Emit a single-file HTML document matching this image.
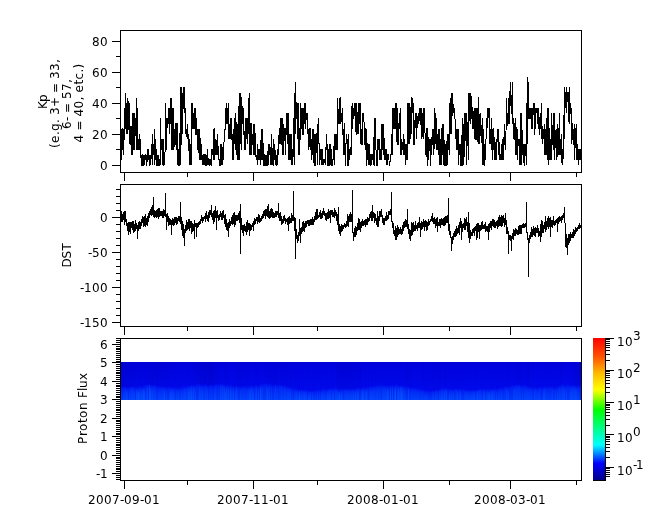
<!DOCTYPE html>
<html><head><meta charset="utf-8"><title>plot</title>
<style>html,body{margin:0;padding:0;background:#fff;}body{width:665px;height:523px;overflow:hidden}svg{display:block}text{font-family:"DejaVu Sans","Liberation Sans",sans-serif;font-size:12px;fill:#000}</style></head>
<body><svg width="665" height="523" viewBox="0 0 665 523">
<rect width="665" height="523" fill="#fff"/>
<g fill="#000"><rect x="120" y="30" width="462" height="1"/><rect x="120" y="172" width="462" height="1"/><rect x="120" y="30" width="1" height="143"/><rect x="581" y="30" width="1" height="143"/><rect x="124" y="173" width="1" height="8"/><rect x="253" y="173" width="1" height="8"/><rect x="383" y="173" width="1" height="8"/><rect x="510" y="173" width="1" height="8"/><rect x="187" y="173" width="1" height="4"/><rect x="317" y="173" width="1" height="4"/><rect x="449" y="173" width="1" height="4"/><rect x="576" y="173" width="1" height="4"/><rect x="120" y="184" width="462" height="1"/><rect x="120" y="326" width="462" height="1"/><rect x="120" y="184" width="1" height="143"/><rect x="581" y="184" width="1" height="143"/><rect x="124" y="327" width="1" height="8"/><rect x="253" y="327" width="1" height="8"/><rect x="383" y="327" width="1" height="8"/><rect x="510" y="327" width="1" height="8"/><rect x="187" y="327" width="1" height="4"/><rect x="317" y="327" width="1" height="4"/><rect x="449" y="327" width="1" height="4"/><rect x="576" y="327" width="1" height="4"/><rect x="120" y="338" width="462" height="1"/><rect x="120" y="480" width="462" height="1"/><rect x="120" y="338" width="1" height="143"/><rect x="581" y="338" width="1" height="143"/><rect x="124" y="481" width="1" height="8"/><rect x="253" y="481" width="1" height="8"/><rect x="383" y="481" width="1" height="8"/><rect x="510" y="481" width="1" height="8"/><rect x="187" y="481" width="1" height="4"/><rect x="317" y="481" width="1" height="4"/><rect x="449" y="481" width="1" height="4"/><rect x="576" y="481" width="1" height="4"/><rect x="112" y="165" width="8" height="1"/><rect x="116" y="149" width="4" height="1"/><rect x="112" y="134" width="8" height="1"/><rect x="116" y="118" width="4" height="1"/><rect x="112" y="103" width="8" height="1"/><rect x="116" y="87" width="4" height="1"/><rect x="112" y="72" width="8" height="1"/><rect x="116" y="56" width="4" height="1"/><rect x="112" y="41" width="8" height="1"/><rect x="112" y="322" width="8" height="1"/><rect x="116" y="315" width="4" height="1"/><rect x="116" y="308" width="4" height="1"/><rect x="116" y="301" width="4" height="1"/><rect x="116" y="294" width="4" height="1"/><rect x="112" y="287" width="8" height="1"/><rect x="116" y="280" width="4" height="1"/><rect x="116" y="273" width="4" height="1"/><rect x="116" y="266" width="4" height="1"/><rect x="116" y="259" width="4" height="1"/><rect x="112" y="252" width="8" height="1"/><rect x="116" y="245" width="4" height="1"/><rect x="116" y="238" width="4" height="1"/><rect x="116" y="231" width="4" height="1"/><rect x="116" y="224" width="4" height="1"/><rect x="112" y="217" width="8" height="1"/><rect x="116" y="210" width="4" height="1"/><rect x="116" y="203" width="4" height="1"/><rect x="116" y="196" width="4" height="1"/><rect x="116" y="189" width="4" height="1"/><rect x="116" y="479" width="4" height="1"/><rect x="116" y="477" width="4" height="1"/><rect x="116" y="475" width="4" height="1"/><rect x="112" y="473" width="8" height="1"/><rect x="116" y="471" width="4" height="1"/><rect x="116" y="469" width="4" height="1"/><rect x="116" y="468" width="4" height="1"/><rect x="116" y="466" width="4" height="1"/><rect x="116" y="464" width="4" height="1"/><rect x="116" y="462" width="4" height="1"/><rect x="116" y="460" width="4" height="1"/><rect x="116" y="458" width="4" height="1"/><rect x="116" y="457" width="4" height="1"/><rect x="112" y="455" width="8" height="1"/><rect x="116" y="453" width="4" height="1"/><rect x="116" y="451" width="4" height="1"/><rect x="116" y="449" width="4" height="1"/><rect x="116" y="447" width="4" height="1"/><rect x="116" y="445" width="4" height="1"/><rect x="116" y="444" width="4" height="1"/><rect x="116" y="442" width="4" height="1"/><rect x="116" y="440" width="4" height="1"/><rect x="116" y="438" width="4" height="1"/><rect x="112" y="436" width="8" height="1"/><rect x="116" y="434" width="4" height="1"/><rect x="116" y="433" width="4" height="1"/><rect x="116" y="431" width="4" height="1"/><rect x="116" y="429" width="4" height="1"/><rect x="116" y="427" width="4" height="1"/><rect x="116" y="425" width="4" height="1"/><rect x="116" y="423" width="4" height="1"/><rect x="116" y="421" width="4" height="1"/><rect x="116" y="420" width="4" height="1"/><rect x="112" y="418" width="8" height="1"/><rect x="116" y="416" width="4" height="1"/><rect x="116" y="414" width="4" height="1"/><rect x="116" y="412" width="4" height="1"/><rect x="116" y="410" width="4" height="1"/><rect x="116" y="409" width="4" height="1"/><rect x="116" y="407" width="4" height="1"/><rect x="116" y="405" width="4" height="1"/><rect x="116" y="403" width="4" height="1"/><rect x="116" y="401" width="4" height="1"/><rect x="112" y="399" width="8" height="1"/><rect x="116" y="397" width="4" height="1"/><rect x="116" y="396" width="4" height="1"/><rect x="116" y="394" width="4" height="1"/><rect x="116" y="392" width="4" height="1"/><rect x="116" y="390" width="4" height="1"/><rect x="116" y="388" width="4" height="1"/><rect x="116" y="386" width="4" height="1"/><rect x="116" y="385" width="4" height="1"/><rect x="116" y="383" width="4" height="1"/><rect x="112" y="381" width="8" height="1"/><rect x="116" y="379" width="4" height="1"/><rect x="116" y="377" width="4" height="1"/><rect x="116" y="375" width="4" height="1"/><rect x="116" y="373" width="4" height="1"/><rect x="116" y="372" width="4" height="1"/><rect x="116" y="370" width="4" height="1"/><rect x="116" y="368" width="4" height="1"/><rect x="116" y="366" width="4" height="1"/><rect x="116" y="364" width="4" height="1"/><rect x="112" y="362" width="8" height="1"/><rect x="116" y="361" width="4" height="1"/><rect x="116" y="359" width="4" height="1"/><rect x="116" y="357" width="4" height="1"/><rect x="116" y="355" width="4" height="1"/><rect x="116" y="353" width="4" height="1"/><rect x="116" y="351" width="4" height="1"/><rect x="116" y="349" width="4" height="1"/><rect x="116" y="348" width="4" height="1"/><rect x="116" y="346" width="4" height="1"/><rect x="112" y="344" width="8" height="1"/><rect x="116" y="342" width="4" height="1"/><rect x="116" y="340" width="4" height="1"/><rect x="116" y="338" width="4" height="1"/></g><defs><linearGradient id="sp" gradientUnits="userSpaceOnUse" x1="0" y1="362" x2="0" y2="392">
<stop offset="0" stop-color="rgb(0,2,220)"/>
<stop offset="1" stop-color="rgb(0,10,236)"/>
</linearGradient>
<linearGradient id="lo" x1="0" y1="0" x2="0" y2="1">
<stop offset="0" stop-color="rgb(0,16,238)"/>
<stop offset="0.25" stop-color="rgb(0,34,243)"/>
<stop offset="1" stop-color="rgb(0,56,248)"/>
</linearGradient>
<linearGradient id="st" x1="0" y1="0" x2="0" y2="1">
<stop offset="0" stop-color="rgb(10,100,255)" stop-opacity="0.2"/>
<stop offset="0.4" stop-color="rgb(10,100,255)" stop-opacity="0.8"/>
<stop offset="1" stop-color="rgb(10,100,255)" stop-opacity="1"/>
</linearGradient></defs><rect x="121" y="362" width="460" height="38" fill="url(#sp)"/><g><rect x="121" y="387.0" width="1" height="13.0" fill="url(#lo)"/><rect x="121" y="389.4" width="1" height="10.6" fill="url(#st)" fill-opacity="0.23"/><rect x="121" y="362" width="1" height="25.0" fill="rgb(0,0,140)" fill-opacity="0.10"/><rect x="122" y="387.0" width="1" height="13.0" fill="url(#lo)"/><rect x="122" y="362" width="1" height="25.0" fill="rgb(0,0,140)" fill-opacity="0.10"/><rect x="123" y="387.1" width="1" height="12.9" fill="url(#lo)"/><rect x="123" y="390.0" width="1" height="10.0" fill="url(#st)" fill-opacity="0.22"/><rect x="123" y="362" width="1" height="25.1" fill="rgb(0,0,140)" fill-opacity="0.12"/><rect x="124" y="386.7" width="1" height="13.3" fill="url(#lo)"/><rect x="124" y="386.7" width="1" height="13.3" fill="url(#st)" fill-opacity="0.16"/><rect x="124" y="362" width="1" height="24.7" fill="rgb(0,0,140)" fill-opacity="0.12"/><rect x="125" y="386.9" width="1" height="13.1" fill="url(#lo)"/><rect x="125" y="388.9" width="1" height="11.1" fill="url(#st)" fill-opacity="0.25"/><rect x="125" y="362" width="1" height="24.9" fill="rgb(0,0,140)" fill-opacity="0.09"/><rect x="126" y="387.3" width="1" height="12.7" fill="url(#lo)"/><rect x="126" y="390.2" width="1" height="9.8" fill="url(#st)" fill-opacity="0.36"/><rect x="126" y="362" width="1" height="25.3" fill="rgb(0,0,140)" fill-opacity="0.14"/><rect x="127" y="387.7" width="1" height="12.3" fill="url(#lo)"/><rect x="127" y="389.7" width="1" height="10.3" fill="url(#st)" fill-opacity="0.35"/><rect x="127" y="362" width="1" height="25.7" fill="rgb(0,0,140)" fill-opacity="0.12"/><rect x="128" y="387.7" width="1" height="12.3" fill="url(#lo)"/><rect x="128" y="362" width="1" height="25.7" fill="rgb(0,0,140)" fill-opacity="0.13"/><rect x="129" y="386.9" width="1" height="13.1" fill="url(#lo)"/><rect x="129" y="387.8" width="1" height="12.2" fill="url(#st)" fill-opacity="0.26"/><rect x="129" y="362" width="1" height="24.9" fill="rgb(0,0,140)" fill-opacity="0.06"/><rect x="130" y="386.9" width="1" height="13.1" fill="url(#lo)"/><rect x="130" y="387.9" width="1" height="12.1" fill="url(#st)" fill-opacity="0.24"/><rect x="130" y="362" width="1" height="24.9" fill="rgb(0,0,140)" fill-opacity="0.08"/><rect x="131" y="386.3" width="1" height="13.7" fill="url(#lo)"/><rect x="131" y="386.6" width="1" height="13.4" fill="url(#st)" fill-opacity="0.20"/><rect x="131" y="362" width="1" height="24.3" fill="rgb(0,0,140)" fill-opacity="0.05"/><rect x="132" y="386.2" width="1" height="13.8" fill="url(#lo)"/><rect x="132" y="387.7" width="1" height="12.3" fill="url(#st)" fill-opacity="0.37"/><rect x="132" y="362" width="1" height="24.2" fill="rgb(0,0,140)" fill-opacity="0.09"/><rect x="133" y="387.1" width="1" height="12.9" fill="url(#lo)"/><rect x="133" y="388.6" width="1" height="11.4" fill="url(#st)" fill-opacity="0.27"/><rect x="133" y="362" width="1" height="25.1" fill="rgb(0,0,140)" fill-opacity="0.03"/><rect x="134" y="386.6" width="1" height="13.4" fill="url(#lo)"/><rect x="134" y="388.7" width="1" height="11.3" fill="url(#st)" fill-opacity="0.30"/><rect x="134" y="362" width="1" height="24.6" fill="rgb(0,0,140)" fill-opacity="0.09"/><rect x="135" y="387.1" width="1" height="12.9" fill="url(#lo)"/><rect x="135" y="362" width="1" height="25.1" fill="rgb(0,0,140)" fill-opacity="0.05"/><rect x="136" y="386.9" width="1" height="13.1" fill="url(#lo)"/><rect x="136" y="388.8" width="1" height="11.2" fill="url(#st)" fill-opacity="0.49"/><rect x="136" y="362" width="1" height="24.9" fill="rgb(0,0,140)" fill-opacity="0.02"/><rect x="137" y="387.3" width="1" height="12.7" fill="url(#lo)"/><rect x="137" y="389.3" width="1" height="10.7" fill="url(#st)" fill-opacity="0.42"/><rect x="137" y="362" width="1" height="25.3" fill="rgb(0,0,140)" fill-opacity="0.01"/><rect x="138" y="386.4" width="1" height="13.6" fill="url(#lo)"/><rect x="138" y="389.3" width="1" height="10.7" fill="url(#st)" fill-opacity="0.64"/><rect x="138" y="362" width="1" height="24.4" fill="rgb(0,0,140)" fill-opacity="0.07"/><rect x="139" y="386.9" width="1" height="13.1" fill="url(#lo)"/><rect x="139" y="389.7" width="1" height="10.3" fill="url(#st)" fill-opacity="0.42"/><rect x="139" y="362" width="1" height="24.9" fill="rgb(0,0,140)" fill-opacity="0.01"/><rect x="140" y="386.4" width="1" height="13.6" fill="url(#lo)"/><rect x="140" y="386.5" width="1" height="13.5" fill="url(#st)" fill-opacity="0.30"/><rect x="140" y="362" width="1" height="24.4" fill="rgb(0,0,140)" fill-opacity="0.10"/><rect x="141" y="387.5" width="1" height="12.5" fill="url(#lo)"/><rect x="141" y="387.5" width="1" height="12.5" fill="url(#st)" fill-opacity="0.38"/><rect x="141" y="362" width="1" height="25.5" fill="rgb(0,0,140)" fill-opacity="0.04"/><rect x="142" y="386.6" width="1" height="13.4" fill="url(#lo)"/><rect x="142" y="389.1" width="1" height="10.9" fill="url(#st)" fill-opacity="0.39"/><rect x="142" y="362" width="1" height="24.6" fill="rgb(0,0,140)" fill-opacity="0.02"/><rect x="143" y="386.0" width="1" height="14.0" fill="url(#lo)"/><rect x="143" y="388.3" width="1" height="11.7" fill="url(#st)" fill-opacity="0.53"/><rect x="143" y="362" width="1" height="24.0" fill="rgb(0,0,140)" fill-opacity="0.02"/><rect x="144" y="385.8" width="1" height="14.2" fill="url(#lo)"/><rect x="144" y="388.2" width="1" height="11.8" fill="url(#st)" fill-opacity="0.52"/><rect x="144" y="362" width="1" height="23.8" fill="rgb(0,0,140)" fill-opacity="0.01"/><rect x="145" y="385.1" width="1" height="14.9" fill="url(#lo)"/><rect x="145" y="362" width="1" height="23.1" fill="rgb(0,0,140)" fill-opacity="0.03"/><rect x="146" y="384.8" width="1" height="15.2" fill="url(#lo)"/><rect x="146" y="386.5" width="1" height="13.5" fill="url(#st)" fill-opacity="0.28"/><rect x="146" y="362" width="1" height="22.8" fill="rgb(0,0,140)" fill-opacity="0.08"/><rect x="147" y="384.8" width="1" height="15.2" fill="url(#lo)"/><rect x="147" y="385.9" width="1" height="14.1" fill="url(#st)" fill-opacity="0.46"/><rect x="147" y="362" width="1" height="22.8" fill="rgb(0,0,140)" fill-opacity="0.04"/><rect x="148" y="384.4" width="1" height="15.6" fill="url(#lo)"/><rect x="148" y="362" width="1" height="22.4" fill="rgb(0,0,140)" fill-opacity="0.04"/><rect x="149" y="384.5" width="1" height="15.5" fill="url(#lo)"/><rect x="149" y="385.1" width="1" height="14.9" fill="url(#st)" fill-opacity="0.59"/><rect x="149" y="362" width="1" height="22.5" fill="rgb(0,0,140)" fill-opacity="0.03"/><rect x="150" y="384.9" width="1" height="15.1" fill="url(#lo)"/><rect x="150" y="386.1" width="1" height="13.9" fill="url(#st)" fill-opacity="0.50"/><rect x="150" y="362" width="1" height="22.9" fill="rgb(0,0,140)" fill-opacity="0.11"/><rect x="151" y="385.2" width="1" height="14.8" fill="url(#lo)"/><rect x="151" y="388.0" width="1" height="12.0" fill="url(#st)" fill-opacity="0.27"/><rect x="151" y="362" width="1" height="23.2" fill="rgb(0,0,140)" fill-opacity="0.08"/><rect x="152" y="385.7" width="1" height="14.3" fill="url(#lo)"/><rect x="152" y="387.8" width="1" height="12.2" fill="url(#st)" fill-opacity="0.39"/><rect x="152" y="362" width="1" height="23.7" fill="rgb(0,0,140)" fill-opacity="0.10"/><rect x="153" y="384.9" width="1" height="15.1" fill="url(#lo)"/><rect x="153" y="386.0" width="1" height="14.0" fill="url(#st)" fill-opacity="0.20"/><rect x="153" y="362" width="1" height="22.9" fill="rgb(0,0,140)" fill-opacity="0.07"/><rect x="154" y="385.3" width="1" height="14.7" fill="url(#lo)"/><rect x="154" y="386.0" width="1" height="14.0" fill="url(#st)" fill-opacity="0.18"/><rect x="154" y="362" width="1" height="23.3" fill="rgb(0,0,140)" fill-opacity="0.08"/><rect x="155" y="385.3" width="1" height="14.7" fill="url(#lo)"/><rect x="155" y="387.6" width="1" height="12.4" fill="url(#st)" fill-opacity="0.32"/><rect x="155" y="362" width="1" height="23.3" fill="rgb(0,0,140)" fill-opacity="0.08"/><rect x="156" y="386.0" width="1" height="14.0" fill="url(#lo)"/><rect x="156" y="362" width="1" height="24.0" fill="rgb(0,0,140)" fill-opacity="0.07"/><rect x="157" y="386.7" width="1" height="13.3" fill="url(#lo)"/><rect x="157" y="362" width="1" height="24.7" fill="rgb(0,0,140)" fill-opacity="0.13"/><rect x="158" y="386.5" width="1" height="13.5" fill="url(#lo)"/><rect x="158" y="389.2" width="1" height="10.8" fill="url(#st)" fill-opacity="0.18"/><rect x="158" y="362" width="1" height="24.5" fill="rgb(0,0,140)" fill-opacity="0.10"/><rect x="159" y="386.4" width="1" height="13.6" fill="url(#lo)"/><rect x="159" y="388.3" width="1" height="11.7" fill="url(#st)" fill-opacity="0.22"/><rect x="159" y="362" width="1" height="24.4" fill="rgb(0,0,140)" fill-opacity="0.02"/><rect x="160" y="386.6" width="1" height="13.4" fill="url(#lo)"/><rect x="160" y="387.4" width="1" height="12.6" fill="url(#st)" fill-opacity="0.21"/><rect x="160" y="362" width="1" height="24.6" fill="rgb(0,0,140)" fill-opacity="0.02"/><rect x="161" y="386.6" width="1" height="13.4" fill="url(#lo)"/><rect x="161" y="388.9" width="1" height="11.1" fill="url(#st)" fill-opacity="0.24"/><rect x="161" y="362" width="1" height="24.6" fill="rgb(0,0,140)" fill-opacity="0.07"/><rect x="162" y="386.9" width="1" height="13.1" fill="url(#lo)"/><rect x="162" y="387.2" width="1" height="12.8" fill="url(#st)" fill-opacity="0.20"/><rect x="162" y="362" width="1" height="24.9" fill="rgb(0,0,140)" fill-opacity="0.07"/><rect x="163" y="386.8" width="1" height="13.2" fill="url(#lo)"/><rect x="163" y="388.0" width="1" height="12.0" fill="url(#st)" fill-opacity="0.32"/><rect x="163" y="362" width="1" height="24.8" fill="rgb(0,0,140)" fill-opacity="0.08"/><rect x="164" y="387.3" width="1" height="12.7" fill="url(#lo)"/><rect x="164" y="388.3" width="1" height="11.7" fill="url(#st)" fill-opacity="0.48"/><rect x="164" y="362" width="1" height="25.3" fill="rgb(0,0,140)" fill-opacity="0.04"/><rect x="165" y="386.3" width="1" height="13.7" fill="url(#lo)"/><rect x="165" y="362" width="1" height="24.3" fill="rgb(0,0,140)" fill-opacity="0.06"/><rect x="166" y="387.3" width="1" height="12.7" fill="url(#lo)"/><rect x="166" y="389.4" width="1" height="10.6" fill="url(#st)" fill-opacity="0.37"/><rect x="166" y="362" width="1" height="25.3" fill="rgb(0,0,140)" fill-opacity="0.07"/><rect x="167" y="387.0" width="1" height="13.0" fill="url(#lo)"/><rect x="167" y="362" width="1" height="25.0" fill="rgb(0,0,140)" fill-opacity="0.03"/><rect x="168" y="386.6" width="1" height="13.4" fill="url(#lo)"/><rect x="168" y="362" width="1" height="24.6" fill="rgb(0,0,140)" fill-opacity="0.04"/><rect x="169" y="386.8" width="1" height="13.2" fill="url(#lo)"/><rect x="169" y="388.6" width="1" height="11.4" fill="url(#st)" fill-opacity="0.29"/><rect x="169" y="362" width="1" height="24.8" fill="rgb(0,0,140)" fill-opacity="0.02"/><rect x="170" y="387.4" width="1" height="12.6" fill="url(#lo)"/><rect x="170" y="389.1" width="1" height="10.9" fill="url(#st)" fill-opacity="0.39"/><rect x="170" y="362" width="1" height="25.4" fill="rgb(0,0,140)" fill-opacity="0.06"/><rect x="171" y="387.4" width="1" height="12.6" fill="url(#lo)"/><rect x="171" y="388.7" width="1" height="11.3" fill="url(#st)" fill-opacity="0.44"/><rect x="171" y="362" width="1" height="25.4" fill="rgb(0,0,140)" fill-opacity="0.01"/><rect x="172" y="387.4" width="1" height="12.6" fill="url(#lo)"/><rect x="172" y="387.5" width="1" height="12.5" fill="url(#st)" fill-opacity="0.37"/><rect x="173" y="387.3" width="1" height="12.7" fill="url(#lo)"/><rect x="173" y="390.1" width="1" height="9.9" fill="url(#st)" fill-opacity="0.35"/><rect x="173" y="362" width="1" height="25.3" fill="rgb(0,0,140)" fill-opacity="0.03"/><rect x="174" y="387.9" width="1" height="12.1" fill="url(#lo)"/><rect x="174" y="390.1" width="1" height="9.9" fill="url(#st)" fill-opacity="0.25"/><rect x="175" y="387.2" width="1" height="12.8" fill="url(#lo)"/><rect x="175" y="362" width="1" height="25.2" fill="rgb(0,0,140)" fill-opacity="0.06"/><rect x="176" y="387.3" width="1" height="12.7" fill="url(#lo)"/><rect x="176" y="389.3" width="1" height="10.7" fill="url(#st)" fill-opacity="0.31"/><rect x="177" y="387.7" width="1" height="12.3" fill="url(#lo)"/><rect x="177" y="390.7" width="1" height="9.3" fill="url(#st)" fill-opacity="0.21"/><rect x="177" y="362" width="1" height="25.7" fill="rgb(0,0,140)" fill-opacity="0.05"/><rect x="178" y="387.5" width="1" height="12.5" fill="url(#lo)"/><rect x="178" y="388.8" width="1" height="11.2" fill="url(#st)" fill-opacity="0.28"/><rect x="179" y="387.6" width="1" height="12.4" fill="url(#lo)"/><rect x="179" y="389.6" width="1" height="10.4" fill="url(#st)" fill-opacity="0.17"/><rect x="179" y="362" width="1" height="25.6" fill="rgb(0,0,140)" fill-opacity="0.03"/><rect x="180" y="387.5" width="1" height="12.5" fill="url(#lo)"/><rect x="180" y="389.9" width="1" height="10.1" fill="url(#st)" fill-opacity="0.13"/><rect x="181" y="387.4" width="1" height="12.6" fill="url(#lo)"/><rect x="181" y="389.8" width="1" height="10.2" fill="url(#st)" fill-opacity="0.33"/><rect x="181" y="362" width="1" height="25.4" fill="rgb(0,0,140)" fill-opacity="0.02"/><rect x="182" y="386.5" width="1" height="13.5" fill="url(#lo)"/><rect x="182" y="389.1" width="1" height="10.9" fill="url(#st)" fill-opacity="0.21"/><rect x="183" y="386.4" width="1" height="13.6" fill="url(#lo)"/><rect x="183" y="388.9" width="1" height="11.1" fill="url(#st)" fill-opacity="0.23"/><rect x="184" y="387.0" width="1" height="13.0" fill="url(#lo)"/><rect x="184" y="387.6" width="1" height="12.4" fill="url(#st)" fill-opacity="0.40"/><rect x="185" y="386.8" width="1" height="13.2" fill="url(#lo)"/><rect x="185" y="388.8" width="1" height="11.2" fill="url(#st)" fill-opacity="0.23"/><rect x="186" y="385.6" width="1" height="14.4" fill="url(#lo)"/><rect x="186" y="387.5" width="1" height="12.5" fill="url(#st)" fill-opacity="0.27"/><rect x="186" y="362" width="1" height="23.6" fill="rgb(0,0,140)" fill-opacity="0.04"/><rect x="187" y="386.3" width="1" height="13.7" fill="url(#lo)"/><rect x="187" y="388.4" width="1" height="11.6" fill="url(#st)" fill-opacity="0.23"/><rect x="188" y="385.4" width="1" height="14.6" fill="url(#lo)"/><rect x="188" y="387.3" width="1" height="12.7" fill="url(#st)" fill-opacity="0.51"/><rect x="188" y="362" width="1" height="23.4" fill="rgb(0,0,140)" fill-opacity="0.01"/><rect x="189" y="386.2" width="1" height="13.8" fill="url(#lo)"/><rect x="189" y="387.2" width="1" height="12.8" fill="url(#st)" fill-opacity="0.44"/><rect x="189" y="362" width="1" height="24.2" fill="rgb(0,0,140)" fill-opacity="0.02"/><rect x="190" y="385.0" width="1" height="15.0" fill="url(#lo)"/><rect x="190" y="387.4" width="1" height="12.6" fill="url(#st)" fill-opacity="0.39"/><rect x="191" y="385.1" width="1" height="14.9" fill="url(#lo)"/><rect x="191" y="386.2" width="1" height="13.8" fill="url(#st)" fill-opacity="0.50"/><rect x="192" y="384.8" width="1" height="15.2" fill="url(#lo)"/><rect x="192" y="387.4" width="1" height="12.6" fill="url(#st)" fill-opacity="0.29"/><rect x="192" y="362" width="1" height="22.8" fill="rgb(0,0,140)" fill-opacity="0.05"/><rect x="193" y="385.2" width="1" height="14.8" fill="url(#lo)"/><rect x="193" y="386.4" width="1" height="13.6" fill="url(#st)" fill-opacity="0.46"/><rect x="194" y="385.0" width="1" height="15.0" fill="url(#lo)"/><rect x="194" y="386.3" width="1" height="13.7" fill="url(#st)" fill-opacity="0.19"/><rect x="194" y="362" width="1" height="23.0" fill="rgb(0,0,140)" fill-opacity="0.05"/><rect x="195" y="385.3" width="1" height="14.7" fill="url(#lo)"/><rect x="195" y="387.3" width="1" height="12.7" fill="url(#st)" fill-opacity="0.35"/><rect x="195" y="362" width="1" height="23.3" fill="rgb(0,0,140)" fill-opacity="0.08"/><rect x="196" y="384.1" width="1" height="15.9" fill="url(#lo)"/><rect x="196" y="362" width="1" height="22.1" fill="rgb(0,0,140)" fill-opacity="0.09"/><rect x="197" y="384.3" width="1" height="15.7" fill="url(#lo)"/><rect x="197" y="362" width="1" height="22.3" fill="rgb(0,0,140)" fill-opacity="0.08"/><rect x="198" y="384.6" width="1" height="15.4" fill="url(#lo)"/><rect x="198" y="387.3" width="1" height="12.7" fill="url(#st)" fill-opacity="0.15"/><rect x="198" y="362" width="1" height="22.6" fill="rgb(0,0,140)" fill-opacity="0.10"/><rect x="199" y="384.3" width="1" height="15.7" fill="url(#lo)"/><rect x="199" y="385.3" width="1" height="14.7" fill="url(#st)" fill-opacity="0.30"/><rect x="199" y="362" width="1" height="22.3" fill="rgb(0,0,140)" fill-opacity="0.09"/><rect x="200" y="385.1" width="1" height="14.9" fill="url(#lo)"/><rect x="200" y="386.5" width="1" height="13.5" fill="url(#st)" fill-opacity="0.29"/><rect x="200" y="362" width="1" height="23.1" fill="rgb(0,0,140)" fill-opacity="0.14"/><rect x="201" y="384.3" width="1" height="15.7" fill="url(#lo)"/><rect x="201" y="387.3" width="1" height="12.7" fill="url(#st)" fill-opacity="0.25"/><rect x="201" y="362" width="1" height="22.3" fill="rgb(0,0,140)" fill-opacity="0.12"/><rect x="202" y="385.2" width="1" height="14.8" fill="url(#lo)"/><rect x="202" y="387.2" width="1" height="12.8" fill="url(#st)" fill-opacity="0.32"/><rect x="202" y="362" width="1" height="23.2" fill="rgb(0,0,140)" fill-opacity="0.11"/><rect x="203" y="385.4" width="1" height="14.6" fill="url(#lo)"/><rect x="203" y="386.6" width="1" height="13.4" fill="url(#st)" fill-opacity="0.22"/><rect x="203" y="362" width="1" height="23.4" fill="rgb(0,0,140)" fill-opacity="0.13"/><rect x="204" y="384.6" width="1" height="15.4" fill="url(#lo)"/><rect x="204" y="362" width="1" height="22.6" fill="rgb(0,0,140)" fill-opacity="0.17"/><rect x="205" y="384.7" width="1" height="15.3" fill="url(#lo)"/><rect x="205" y="385.0" width="1" height="15.0" fill="url(#st)" fill-opacity="0.30"/><rect x="205" y="362" width="1" height="22.7" fill="rgb(0,0,140)" fill-opacity="0.20"/><rect x="206" y="385.5" width="1" height="14.5" fill="url(#lo)"/><rect x="206" y="387.9" width="1" height="12.1" fill="url(#st)" fill-opacity="0.23"/><rect x="206" y="362" width="1" height="23.5" fill="rgb(0,0,140)" fill-opacity="0.11"/><rect x="207" y="385.7" width="1" height="14.3" fill="url(#lo)"/><rect x="207" y="385.7" width="1" height="14.3" fill="url(#st)" fill-opacity="0.26"/><rect x="207" y="362" width="1" height="23.7" fill="rgb(0,0,140)" fill-opacity="0.11"/><rect x="208" y="385.9" width="1" height="14.1" fill="url(#lo)"/><rect x="208" y="362" width="1" height="23.9" fill="rgb(0,0,140)" fill-opacity="0.16"/><rect x="209" y="385.5" width="1" height="14.5" fill="url(#lo)"/><rect x="209" y="387.8" width="1" height="12.2" fill="url(#st)" fill-opacity="0.16"/><rect x="209" y="362" width="1" height="23.5" fill="rgb(0,0,140)" fill-opacity="0.19"/><rect x="210" y="385.0" width="1" height="15.0" fill="url(#lo)"/><rect x="210" y="385.3" width="1" height="14.7" fill="url(#st)" fill-opacity="0.12"/><rect x="210" y="362" width="1" height="23.0" fill="rgb(0,0,140)" fill-opacity="0.15"/><rect x="211" y="385.3" width="1" height="14.7" fill="url(#lo)"/><rect x="211" y="386.5" width="1" height="13.5" fill="url(#st)" fill-opacity="0.12"/><rect x="211" y="362" width="1" height="23.3" fill="rgb(0,0,140)" fill-opacity="0.17"/><rect x="212" y="385.3" width="1" height="14.7" fill="url(#lo)"/><rect x="212" y="387.9" width="1" height="12.1" fill="url(#st)" fill-opacity="0.17"/><rect x="212" y="362" width="1" height="23.3" fill="rgb(0,0,140)" fill-opacity="0.18"/><rect x="213" y="384.8" width="1" height="15.2" fill="url(#lo)"/><rect x="213" y="362" width="1" height="22.8" fill="rgb(0,0,140)" fill-opacity="0.12"/><rect x="214" y="385.0" width="1" height="15.0" fill="url(#lo)"/><rect x="214" y="387.9" width="1" height="12.1" fill="url(#st)" fill-opacity="0.26"/><rect x="214" y="362" width="1" height="23.0" fill="rgb(0,0,140)" fill-opacity="0.10"/><rect x="215" y="384.2" width="1" height="15.8" fill="url(#lo)"/><rect x="215" y="386.4" width="1" height="13.6" fill="url(#st)" fill-opacity="0.29"/><rect x="215" y="362" width="1" height="22.2" fill="rgb(0,0,140)" fill-opacity="0.05"/><rect x="216" y="384.2" width="1" height="15.8" fill="url(#lo)"/><rect x="216" y="384.6" width="1" height="15.4" fill="url(#st)" fill-opacity="0.11"/><rect x="216" y="362" width="1" height="22.2" fill="rgb(0,0,140)" fill-opacity="0.09"/><rect x="217" y="384.7" width="1" height="15.3" fill="url(#lo)"/><rect x="217" y="362" width="1" height="22.7" fill="rgb(0,0,140)" fill-opacity="0.04"/><rect x="218" y="383.8" width="1" height="16.2" fill="url(#lo)"/><rect x="218" y="386.6" width="1" height="13.4" fill="url(#st)" fill-opacity="0.18"/><rect x="218" y="362" width="1" height="21.8" fill="rgb(0,0,140)" fill-opacity="0.04"/><rect x="219" y="384.4" width="1" height="15.6" fill="url(#lo)"/><rect x="220" y="384.3" width="1" height="15.7" fill="url(#lo)"/><rect x="220" y="385.5" width="1" height="14.5" fill="url(#st)" fill-opacity="0.35"/><rect x="220" y="362" width="1" height="22.3" fill="rgb(0,0,140)" fill-opacity="0.04"/><rect x="221" y="384.0" width="1" height="16.0" fill="url(#lo)"/><rect x="221" y="385.4" width="1" height="14.6" fill="url(#st)" fill-opacity="0.28"/><rect x="221" y="362" width="1" height="22.0" fill="rgb(0,0,140)" fill-opacity="0.03"/><rect x="222" y="384.4" width="1" height="15.6" fill="url(#lo)"/><rect x="222" y="384.6" width="1" height="15.4" fill="url(#st)" fill-opacity="0.40"/><rect x="223" y="384.6" width="1" height="15.4" fill="url(#lo)"/><rect x="223" y="384.9" width="1" height="15.1" fill="url(#st)" fill-opacity="0.29"/><rect x="223" y="362" width="1" height="22.6" fill="rgb(0,0,140)" fill-opacity="0.02"/><rect x="224" y="384.6" width="1" height="15.4" fill="url(#lo)"/><rect x="224" y="386.1" width="1" height="13.9" fill="url(#st)" fill-opacity="0.47"/><rect x="224" y="362" width="1" height="22.6" fill="rgb(0,0,140)" fill-opacity="0.02"/><rect x="225" y="385.3" width="1" height="14.7" fill="url(#lo)"/><rect x="225" y="388.2" width="1" height="11.8" fill="url(#st)" fill-opacity="0.40"/><rect x="225" y="362" width="1" height="23.3" fill="rgb(0,0,140)" fill-opacity="0.04"/><rect x="226" y="384.8" width="1" height="15.2" fill="url(#lo)"/><rect x="226" y="386.6" width="1" height="13.4" fill="url(#st)" fill-opacity="0.44"/><rect x="226" y="362" width="1" height="22.8" fill="rgb(0,0,140)" fill-opacity="0.03"/><rect x="227" y="385.2" width="1" height="14.8" fill="url(#lo)"/><rect x="227" y="385.5" width="1" height="14.5" fill="url(#st)" fill-opacity="0.24"/><rect x="227" y="362" width="1" height="23.2" fill="rgb(0,0,140)" fill-opacity="0.02"/><rect x="228" y="385.6" width="1" height="14.4" fill="url(#lo)"/><rect x="228" y="386.8" width="1" height="13.2" fill="url(#st)" fill-opacity="0.49"/><rect x="228" y="362" width="1" height="23.6" fill="rgb(0,0,140)" fill-opacity="0.04"/><rect x="229" y="384.8" width="1" height="15.2" fill="url(#lo)"/><rect x="230" y="385.2" width="1" height="14.8" fill="url(#lo)"/><rect x="230" y="387.6" width="1" height="12.4" fill="url(#st)" fill-opacity="0.55"/><rect x="231" y="384.9" width="1" height="15.1" fill="url(#lo)"/><rect x="231" y="386.8" width="1" height="13.2" fill="url(#st)" fill-opacity="0.25"/><rect x="232" y="386.1" width="1" height="13.9" fill="url(#lo)"/><rect x="232" y="388.9" width="1" height="11.1" fill="url(#st)" fill-opacity="0.24"/><rect x="233" y="386.0" width="1" height="14.0" fill="url(#lo)"/><rect x="233" y="387.2" width="1" height="12.8" fill="url(#st)" fill-opacity="0.46"/><rect x="234" y="386.7" width="1" height="13.3" fill="url(#lo)"/><rect x="234" y="362" width="1" height="24.7" fill="rgb(0,0,140)" fill-opacity="0.05"/><rect x="235" y="386.2" width="1" height="13.8" fill="url(#lo)"/><rect x="235" y="387.5" width="1" height="12.5" fill="url(#st)" fill-opacity="0.33"/><rect x="236" y="385.9" width="1" height="14.1" fill="url(#lo)"/><rect x="236" y="386.1" width="1" height="13.9" fill="url(#st)" fill-opacity="0.36"/><rect x="236" y="362" width="1" height="23.9" fill="rgb(0,0,140)" fill-opacity="0.07"/><rect x="237" y="386.6" width="1" height="13.4" fill="url(#lo)"/><rect x="237" y="387.0" width="1" height="13.0" fill="url(#st)" fill-opacity="0.22"/><rect x="237" y="362" width="1" height="24.6" fill="rgb(0,0,140)" fill-opacity="0.06"/><rect x="238" y="386.6" width="1" height="13.4" fill="url(#lo)"/><rect x="238" y="362" width="1" height="24.6" fill="rgb(0,0,140)" fill-opacity="0.04"/><rect x="239" y="386.6" width="1" height="13.4" fill="url(#lo)"/><rect x="239" y="362" width="1" height="24.6" fill="rgb(0,0,140)" fill-opacity="0.05"/><rect x="240" y="386.6" width="1" height="13.4" fill="url(#lo)"/><rect x="240" y="387.7" width="1" height="12.3" fill="url(#st)" fill-opacity="0.24"/><rect x="240" y="362" width="1" height="24.6" fill="rgb(0,0,140)" fill-opacity="0.03"/><rect x="241" y="387.1" width="1" height="12.9" fill="url(#lo)"/><rect x="241" y="388.2" width="1" height="11.8" fill="url(#st)" fill-opacity="0.29"/><rect x="241" y="362" width="1" height="25.1" fill="rgb(0,0,140)" fill-opacity="0.04"/><rect x="242" y="386.0" width="1" height="14.0" fill="url(#lo)"/><rect x="242" y="387.8" width="1" height="12.2" fill="url(#st)" fill-opacity="0.14"/><rect x="242" y="362" width="1" height="24.0" fill="rgb(0,0,140)" fill-opacity="0.03"/><rect x="243" y="386.0" width="1" height="14.0" fill="url(#lo)"/><rect x="243" y="387.6" width="1" height="12.4" fill="url(#st)" fill-opacity="0.20"/><rect x="243" y="362" width="1" height="24.0" fill="rgb(0,0,140)" fill-opacity="0.05"/><rect x="244" y="386.8" width="1" height="13.2" fill="url(#lo)"/><rect x="244" y="388.2" width="1" height="11.8" fill="url(#st)" fill-opacity="0.18"/><rect x="244" y="362" width="1" height="24.8" fill="rgb(0,0,140)" fill-opacity="0.01"/><rect x="245" y="386.1" width="1" height="13.9" fill="url(#lo)"/><rect x="245" y="386.9" width="1" height="13.1" fill="url(#st)" fill-opacity="0.17"/><rect x="246" y="386.4" width="1" height="13.6" fill="url(#lo)"/><rect x="246" y="388.9" width="1" height="11.1" fill="url(#st)" fill-opacity="0.13"/><rect x="246" y="362" width="1" height="24.4" fill="rgb(0,0,140)" fill-opacity="0.04"/><rect x="247" y="386.2" width="1" height="13.8" fill="url(#lo)"/><rect x="247" y="389.1" width="1" height="10.9" fill="url(#st)" fill-opacity="0.26"/><rect x="247" y="362" width="1" height="24.2" fill="rgb(0,0,140)" fill-opacity="0.05"/><rect x="248" y="386.1" width="1" height="13.9" fill="url(#lo)"/><rect x="248" y="388.3" width="1" height="11.7" fill="url(#st)" fill-opacity="0.23"/><rect x="248" y="362" width="1" height="24.1" fill="rgb(0,0,140)" fill-opacity="0.06"/><rect x="249" y="386.4" width="1" height="13.6" fill="url(#lo)"/><rect x="249" y="388.1" width="1" height="11.9" fill="url(#st)" fill-opacity="0.41"/><rect x="250" y="385.8" width="1" height="14.2" fill="url(#lo)"/><rect x="250" y="388.1" width="1" height="11.9" fill="url(#st)" fill-opacity="0.46"/><rect x="251" y="385.5" width="1" height="14.5" fill="url(#lo)"/><rect x="251" y="386.1" width="1" height="13.9" fill="url(#st)" fill-opacity="0.25"/><rect x="252" y="386.0" width="1" height="14.0" fill="url(#lo)"/><rect x="252" y="387.7" width="1" height="12.3" fill="url(#st)" fill-opacity="0.45"/><rect x="253" y="386.4" width="1" height="13.6" fill="url(#lo)"/><rect x="253" y="389.2" width="1" height="10.8" fill="url(#st)" fill-opacity="0.33"/><rect x="254" y="385.6" width="1" height="14.4" fill="url(#lo)"/><rect x="255" y="385.5" width="1" height="14.5" fill="url(#lo)"/><rect x="255" y="387.1" width="1" height="12.9" fill="url(#st)" fill-opacity="0.23"/><rect x="255" y="362" width="1" height="23.5" fill="rgb(0,0,140)" fill-opacity="0.02"/><rect x="256" y="385.4" width="1" height="14.6" fill="url(#lo)"/><rect x="256" y="386.2" width="1" height="13.8" fill="url(#st)" fill-opacity="0.37"/><rect x="256" y="362" width="1" height="23.4" fill="rgb(0,0,140)" fill-opacity="0.02"/><rect x="257" y="385.7" width="1" height="14.3" fill="url(#lo)"/><rect x="257" y="362" width="1" height="23.7" fill="rgb(0,0,140)" fill-opacity="0.05"/><rect x="258" y="386.0" width="1" height="14.0" fill="url(#lo)"/><rect x="258" y="388.2" width="1" height="11.8" fill="url(#st)" fill-opacity="0.39"/><rect x="259" y="385.5" width="1" height="14.5" fill="url(#lo)"/><rect x="260" y="384.7" width="1" height="15.3" fill="url(#lo)"/><rect x="260" y="385.8" width="1" height="14.2" fill="url(#st)" fill-opacity="0.48"/><rect x="261" y="384.5" width="1" height="15.5" fill="url(#lo)"/><rect x="261" y="386.7" width="1" height="13.3" fill="url(#st)" fill-opacity="0.30"/><rect x="262" y="384.5" width="1" height="15.5" fill="url(#lo)"/><rect x="262" y="385.2" width="1" height="14.8" fill="url(#st)" fill-opacity="0.26"/><rect x="263" y="383.7" width="1" height="16.3" fill="url(#lo)"/><rect x="264" y="383.5" width="1" height="16.5" fill="url(#lo)"/><rect x="264" y="362" width="1" height="21.5" fill="rgb(0,0,140)" fill-opacity="0.03"/><rect x="265" y="383.5" width="1" height="16.5" fill="url(#lo)"/><rect x="265" y="362" width="1" height="21.5" fill="rgb(0,0,140)" fill-opacity="0.07"/><rect x="266" y="383.5" width="1" height="16.5" fill="url(#lo)"/><rect x="266" y="383.6" width="1" height="16.4" fill="url(#st)" fill-opacity="0.23"/><rect x="266" y="362" width="1" height="21.5" fill="rgb(0,0,140)" fill-opacity="0.02"/><rect x="267" y="384.7" width="1" height="15.3" fill="url(#lo)"/><rect x="267" y="387.1" width="1" height="12.9" fill="url(#st)" fill-opacity="0.43"/><rect x="267" y="362" width="1" height="22.7" fill="rgb(0,0,140)" fill-opacity="0.05"/><rect x="268" y="383.9" width="1" height="16.1" fill="url(#lo)"/><rect x="268" y="385.4" width="1" height="14.6" fill="url(#st)" fill-opacity="0.22"/><rect x="268" y="362" width="1" height="21.9" fill="rgb(0,0,140)" fill-opacity="0.04"/><rect x="269" y="384.2" width="1" height="15.8" fill="url(#lo)"/><rect x="269" y="385.6" width="1" height="14.4" fill="url(#st)" fill-opacity="0.28"/><rect x="269" y="362" width="1" height="22.2" fill="rgb(0,0,140)" fill-opacity="0.04"/><rect x="270" y="384.7" width="1" height="15.3" fill="url(#lo)"/><rect x="270" y="362" width="1" height="22.7" fill="rgb(0,0,140)" fill-opacity="0.04"/><rect x="271" y="384.2" width="1" height="15.8" fill="url(#lo)"/><rect x="271" y="386.3" width="1" height="13.7" fill="url(#st)" fill-opacity="0.25"/><rect x="271" y="362" width="1" height="22.2" fill="rgb(0,0,140)" fill-opacity="0.03"/><rect x="272" y="385.3" width="1" height="14.7" fill="url(#lo)"/><rect x="272" y="362" width="1" height="23.3" fill="rgb(0,0,140)" fill-opacity="0.04"/><rect x="273" y="385.3" width="1" height="14.7" fill="url(#lo)"/><rect x="273" y="362" width="1" height="23.3" fill="rgb(0,0,140)" fill-opacity="0.07"/><rect x="274" y="385.1" width="1" height="14.9" fill="url(#lo)"/><rect x="274" y="386.9" width="1" height="13.1" fill="url(#st)" fill-opacity="0.22"/><rect x="274" y="362" width="1" height="23.1" fill="rgb(0,0,140)" fill-opacity="0.09"/><rect x="275" y="384.4" width="1" height="15.6" fill="url(#lo)"/><rect x="275" y="384.5" width="1" height="15.5" fill="url(#st)" fill-opacity="0.27"/><rect x="275" y="362" width="1" height="22.4" fill="rgb(0,0,140)" fill-opacity="0.10"/><rect x="276" y="385.4" width="1" height="14.6" fill="url(#lo)"/><rect x="276" y="387.9" width="1" height="12.1" fill="url(#st)" fill-opacity="0.13"/><rect x="276" y="362" width="1" height="23.4" fill="rgb(0,0,140)" fill-opacity="0.03"/><rect x="277" y="384.9" width="1" height="15.1" fill="url(#lo)"/><rect x="277" y="387.3" width="1" height="12.7" fill="url(#st)" fill-opacity="0.24"/><rect x="277" y="362" width="1" height="22.9" fill="rgb(0,0,140)" fill-opacity="0.05"/><rect x="278" y="385.2" width="1" height="14.8" fill="url(#lo)"/><rect x="278" y="362" width="1" height="23.2" fill="rgb(0,0,140)" fill-opacity="0.01"/><rect x="279" y="384.9" width="1" height="15.1" fill="url(#lo)"/><rect x="279" y="384.9" width="1" height="15.1" fill="url(#st)" fill-opacity="0.12"/><rect x="280" y="385.0" width="1" height="15.0" fill="url(#lo)"/><rect x="280" y="386.0" width="1" height="14.0" fill="url(#st)" fill-opacity="0.17"/><rect x="280" y="362" width="1" height="23.0" fill="rgb(0,0,140)" fill-opacity="0.03"/><rect x="281" y="385.3" width="1" height="14.7" fill="url(#lo)"/><rect x="281" y="385.9" width="1" height="14.1" fill="url(#st)" fill-opacity="0.24"/><rect x="281" y="362" width="1" height="23.3" fill="rgb(0,0,140)" fill-opacity="0.07"/><rect x="282" y="385.5" width="1" height="14.5" fill="url(#lo)"/><rect x="282" y="386.2" width="1" height="13.8" fill="url(#st)" fill-opacity="0.16"/><rect x="282" y="362" width="1" height="23.5" fill="rgb(0,0,140)" fill-opacity="0.05"/><rect x="283" y="385.2" width="1" height="14.8" fill="url(#lo)"/><rect x="283" y="387.9" width="1" height="12.1" fill="url(#st)" fill-opacity="0.16"/><rect x="283" y="362" width="1" height="23.2" fill="rgb(0,0,140)" fill-opacity="0.05"/><rect x="284" y="385.5" width="1" height="14.5" fill="url(#lo)"/><rect x="284" y="387.5" width="1" height="12.5" fill="url(#st)" fill-opacity="0.27"/><rect x="284" y="362" width="1" height="23.5" fill="rgb(0,0,140)" fill-opacity="0.04"/><rect x="285" y="386.0" width="1" height="14.0" fill="url(#lo)"/><rect x="285" y="386.7" width="1" height="13.3" fill="url(#st)" fill-opacity="0.27"/><rect x="285" y="362" width="1" height="24.0" fill="rgb(0,0,140)" fill-opacity="0.08"/><rect x="286" y="386.8" width="1" height="13.2" fill="url(#lo)"/><rect x="286" y="389.5" width="1" height="10.5" fill="url(#st)" fill-opacity="0.17"/><rect x="287" y="386.3" width="1" height="13.7" fill="url(#lo)"/><rect x="287" y="388.6" width="1" height="11.4" fill="url(#st)" fill-opacity="0.30"/><rect x="287" y="362" width="1" height="24.3" fill="rgb(0,0,140)" fill-opacity="0.05"/><rect x="288" y="386.6" width="1" height="13.4" fill="url(#lo)"/><rect x="288" y="388.9" width="1" height="11.1" fill="url(#st)" fill-opacity="0.30"/><rect x="289" y="387.4" width="1" height="12.6" fill="url(#lo)"/><rect x="289" y="388.5" width="1" height="11.5" fill="url(#st)" fill-opacity="0.29"/><rect x="289" y="362" width="1" height="25.4" fill="rgb(0,0,140)" fill-opacity="0.08"/><rect x="290" y="386.9" width="1" height="13.1" fill="url(#lo)"/><rect x="290" y="389.8" width="1" height="10.2" fill="url(#st)" fill-opacity="0.35"/><rect x="291" y="387.5" width="1" height="12.5" fill="url(#lo)"/><rect x="291" y="362" width="1" height="25.5" fill="rgb(0,0,140)" fill-opacity="0.04"/><rect x="292" y="388.6" width="1" height="11.4" fill="url(#lo)"/><rect x="292" y="390.7" width="1" height="9.3" fill="url(#st)" fill-opacity="0.17"/><rect x="293" y="388.7" width="1" height="11.3" fill="url(#lo)"/><rect x="294" y="388.5" width="1" height="11.5" fill="url(#lo)"/><rect x="294" y="391.4" width="1" height="8.6" fill="url(#st)" fill-opacity="0.22"/><rect x="294" y="362" width="1" height="26.5" fill="rgb(0,0,140)" fill-opacity="0.01"/><rect x="295" y="388.8" width="1" height="11.2" fill="url(#lo)"/><rect x="295" y="389.4" width="1" height="10.6" fill="url(#st)" fill-opacity="0.25"/><rect x="295" y="362" width="1" height="26.8" fill="rgb(0,0,140)" fill-opacity="0.03"/><rect x="296" y="389.3" width="1" height="10.7" fill="url(#lo)"/><rect x="296" y="390.9" width="1" height="9.1" fill="url(#st)" fill-opacity="0.39"/><rect x="297" y="389.0" width="1" height="11.0" fill="url(#lo)"/><rect x="297" y="389.9" width="1" height="10.1" fill="url(#st)" fill-opacity="0.18"/><rect x="297" y="362" width="1" height="27.0" fill="rgb(0,0,140)" fill-opacity="0.03"/><rect x="298" y="390.2" width="1" height="9.8" fill="url(#lo)"/><rect x="298" y="391.2" width="1" height="8.8" fill="url(#st)" fill-opacity="0.22"/><rect x="298" y="362" width="1" height="28.2" fill="rgb(0,0,140)" fill-opacity="0.02"/><rect x="299" y="389.6" width="1" height="10.4" fill="url(#lo)"/><rect x="299" y="391.0" width="1" height="9.0" fill="url(#st)" fill-opacity="0.50"/><rect x="299" y="362" width="1" height="27.6" fill="rgb(0,0,140)" fill-opacity="0.01"/><rect x="300" y="390.4" width="1" height="9.6" fill="url(#lo)"/><rect x="300" y="393.2" width="1" height="6.8" fill="url(#st)" fill-opacity="0.27"/><rect x="301" y="389.4" width="1" height="10.6" fill="url(#lo)"/><rect x="301" y="389.5" width="1" height="10.5" fill="url(#st)" fill-opacity="0.32"/><rect x="301" y="362" width="1" height="27.4" fill="rgb(0,0,140)" fill-opacity="0.01"/><rect x="302" y="390.3" width="1" height="9.7" fill="url(#lo)"/><rect x="302" y="390.9" width="1" height="9.1" fill="url(#st)" fill-opacity="0.19"/><rect x="303" y="390.0" width="1" height="10.0" fill="url(#lo)"/><rect x="303" y="390.6" width="1" height="9.4" fill="url(#st)" fill-opacity="0.31"/><rect x="303" y="362" width="1" height="28.0" fill="rgb(0,0,140)" fill-opacity="0.02"/><rect x="304" y="389.5" width="1" height="10.5" fill="url(#lo)"/><rect x="304" y="390.6" width="1" height="9.4" fill="url(#st)" fill-opacity="0.38"/><rect x="305" y="390.3" width="1" height="9.7" fill="url(#lo)"/><rect x="305" y="393.0" width="1" height="7.0" fill="url(#st)" fill-opacity="0.29"/><rect x="306" y="390.1" width="1" height="9.9" fill="url(#lo)"/><rect x="306" y="391.1" width="1" height="8.9" fill="url(#st)" fill-opacity="0.27"/><rect x="307" y="390.0" width="1" height="10.0" fill="url(#lo)"/><rect x="308" y="390.9" width="1" height="9.1" fill="url(#lo)"/><rect x="308" y="393.8" width="1" height="6.2" fill="url(#st)" fill-opacity="0.29"/><rect x="308" y="362" width="1" height="28.9" fill="rgb(0,0,140)" fill-opacity="0.02"/><rect x="309" y="390.7" width="1" height="9.3" fill="url(#lo)"/><rect x="309" y="391.2" width="1" height="8.8" fill="url(#st)" fill-opacity="0.28"/><rect x="309" y="362" width="1" height="28.7" fill="rgb(0,0,140)" fill-opacity="0.02"/><rect x="310" y="390.4" width="1" height="9.6" fill="url(#lo)"/><rect x="310" y="391.4" width="1" height="8.6" fill="url(#st)" fill-opacity="0.30"/><rect x="311" y="390.7" width="1" height="9.3" fill="url(#lo)"/><rect x="312" y="390.6" width="1" height="9.4" fill="url(#lo)"/><rect x="312" y="391.4" width="1" height="8.6" fill="url(#st)" fill-opacity="0.23"/><rect x="313" y="390.8" width="1" height="9.2" fill="url(#lo)"/><rect x="313" y="392.3" width="1" height="7.7" fill="url(#st)" fill-opacity="0.12"/><rect x="313" y="362" width="1" height="28.8" fill="rgb(0,0,140)" fill-opacity="0.01"/><rect x="314" y="390.7" width="1" height="9.3" fill="url(#lo)"/><rect x="314" y="362" width="1" height="28.7" fill="rgb(0,0,140)" fill-opacity="0.04"/><rect x="315" y="389.9" width="1" height="10.1" fill="url(#lo)"/><rect x="315" y="392.4" width="1" height="7.6" fill="url(#st)" fill-opacity="0.13"/><rect x="316" y="389.9" width="1" height="10.1" fill="url(#lo)"/><rect x="317" y="390.0" width="1" height="10.0" fill="url(#lo)"/><rect x="317" y="391.5" width="1" height="8.5" fill="url(#st)" fill-opacity="0.25"/><rect x="318" y="389.7" width="1" height="10.3" fill="url(#lo)"/><rect x="319" y="389.5" width="1" height="10.5" fill="url(#lo)"/><rect x="319" y="392.0" width="1" height="8.0" fill="url(#st)" fill-opacity="0.18"/><rect x="320" y="390.3" width="1" height="9.7" fill="url(#lo)"/><rect x="321" y="389.9" width="1" height="10.1" fill="url(#lo)"/><rect x="321" y="392.3" width="1" height="7.7" fill="url(#st)" fill-opacity="0.25"/><rect x="321" y="362" width="1" height="27.9" fill="rgb(0,0,140)" fill-opacity="0.05"/><rect x="322" y="389.2" width="1" height="10.8" fill="url(#lo)"/><rect x="322" y="389.3" width="1" height="10.7" fill="url(#st)" fill-opacity="0.27"/><rect x="323" y="389.1" width="1" height="10.9" fill="url(#lo)"/><rect x="323" y="391.8" width="1" height="8.2" fill="url(#st)" fill-opacity="0.22"/><rect x="324" y="389.3" width="1" height="10.7" fill="url(#lo)"/><rect x="324" y="389.7" width="1" height="10.3" fill="url(#st)" fill-opacity="0.18"/><rect x="325" y="389.5" width="1" height="10.5" fill="url(#lo)"/><rect x="325" y="391.6" width="1" height="8.4" fill="url(#st)" fill-opacity="0.15"/><rect x="326" y="389.4" width="1" height="10.6" fill="url(#lo)"/><rect x="326" y="391.6" width="1" height="8.4" fill="url(#st)" fill-opacity="0.16"/><rect x="326" y="362" width="1" height="27.4" fill="rgb(0,0,140)" fill-opacity="0.05"/><rect x="327" y="389.0" width="1" height="11.0" fill="url(#lo)"/><rect x="327" y="390.7" width="1" height="9.3" fill="url(#st)" fill-opacity="0.33"/><rect x="328" y="388.7" width="1" height="11.3" fill="url(#lo)"/><rect x="328" y="389.8" width="1" height="10.2" fill="url(#st)" fill-opacity="0.28"/><rect x="329" y="388.7" width="1" height="11.3" fill="url(#lo)"/><rect x="329" y="391.0" width="1" height="9.0" fill="url(#st)" fill-opacity="0.40"/><rect x="330" y="388.2" width="1" height="11.8" fill="url(#lo)"/><rect x="330" y="388.8" width="1" height="11.2" fill="url(#st)" fill-opacity="0.27"/><rect x="331" y="388.4" width="1" height="11.6" fill="url(#lo)"/><rect x="331" y="362" width="1" height="26.4" fill="rgb(0,0,140)" fill-opacity="0.06"/><rect x="332" y="388.7" width="1" height="11.3" fill="url(#lo)"/><rect x="332" y="390.6" width="1" height="9.4" fill="url(#st)" fill-opacity="0.47"/><rect x="333" y="388.5" width="1" height="11.5" fill="url(#lo)"/><rect x="333" y="390.1" width="1" height="9.9" fill="url(#st)" fill-opacity="0.29"/><rect x="334" y="387.6" width="1" height="12.4" fill="url(#lo)"/><rect x="335" y="388.2" width="1" height="11.8" fill="url(#lo)"/><rect x="335" y="388.8" width="1" height="11.2" fill="url(#st)" fill-opacity="0.29"/><rect x="336" y="388.1" width="1" height="11.9" fill="url(#lo)"/><rect x="336" y="388.2" width="1" height="11.8" fill="url(#st)" fill-opacity="0.26"/><rect x="336" y="362" width="1" height="26.1" fill="rgb(0,0,140)" fill-opacity="0.05"/><rect x="337" y="389.0" width="1" height="11.0" fill="url(#lo)"/><rect x="337" y="390.3" width="1" height="9.7" fill="url(#st)" fill-opacity="0.39"/><rect x="337" y="362" width="1" height="27.0" fill="rgb(0,0,140)" fill-opacity="0.06"/><rect x="338" y="389.2" width="1" height="10.8" fill="url(#lo)"/><rect x="338" y="391.2" width="1" height="8.8" fill="url(#st)" fill-opacity="0.37"/><rect x="338" y="362" width="1" height="27.2" fill="rgb(0,0,140)" fill-opacity="0.04"/><rect x="339" y="388.8" width="1" height="11.2" fill="url(#lo)"/><rect x="339" y="391.5" width="1" height="8.5" fill="url(#st)" fill-opacity="0.52"/><rect x="339" y="362" width="1" height="26.8" fill="rgb(0,0,140)" fill-opacity="0.09"/><rect x="340" y="389.4" width="1" height="10.6" fill="url(#lo)"/><rect x="340" y="391.7" width="1" height="8.3" fill="url(#st)" fill-opacity="0.25"/><rect x="340" y="362" width="1" height="27.4" fill="rgb(0,0,140)" fill-opacity="0.08"/><rect x="341" y="388.8" width="1" height="11.2" fill="url(#lo)"/><rect x="341" y="391.0" width="1" height="9.0" fill="url(#st)" fill-opacity="0.36"/><rect x="341" y="362" width="1" height="26.8" fill="rgb(0,0,140)" fill-opacity="0.14"/><rect x="342" y="388.9" width="1" height="11.1" fill="url(#lo)"/><rect x="342" y="390.2" width="1" height="9.8" fill="url(#st)" fill-opacity="0.25"/><rect x="342" y="362" width="1" height="26.9" fill="rgb(0,0,140)" fill-opacity="0.12"/><rect x="343" y="389.4" width="1" height="10.6" fill="url(#lo)"/><rect x="343" y="362" width="1" height="27.4" fill="rgb(0,0,140)" fill-opacity="0.09"/><rect x="344" y="388.7" width="1" height="11.3" fill="url(#lo)"/><rect x="344" y="389.0" width="1" height="11.0" fill="url(#st)" fill-opacity="0.22"/><rect x="344" y="362" width="1" height="26.7" fill="rgb(0,0,140)" fill-opacity="0.04"/><rect x="345" y="389.1" width="1" height="10.9" fill="url(#lo)"/><rect x="345" y="391.0" width="1" height="9.0" fill="url(#st)" fill-opacity="0.24"/><rect x="345" y="362" width="1" height="27.1" fill="rgb(0,0,140)" fill-opacity="0.08"/><rect x="346" y="389.2" width="1" height="10.8" fill="url(#lo)"/><rect x="346" y="389.6" width="1" height="10.4" fill="url(#st)" fill-opacity="0.33"/><rect x="346" y="362" width="1" height="27.2" fill="rgb(0,0,140)" fill-opacity="0.09"/><rect x="347" y="388.5" width="1" height="11.5" fill="url(#lo)"/><rect x="347" y="389.9" width="1" height="10.1" fill="url(#st)" fill-opacity="0.28"/><rect x="347" y="362" width="1" height="26.5" fill="rgb(0,0,140)" fill-opacity="0.10"/><rect x="348" y="389.5" width="1" height="10.5" fill="url(#lo)"/><rect x="348" y="390.4" width="1" height="9.6" fill="url(#st)" fill-opacity="0.31"/><rect x="348" y="362" width="1" height="27.5" fill="rgb(0,0,140)" fill-opacity="0.07"/><rect x="349" y="388.6" width="1" height="11.4" fill="url(#lo)"/><rect x="349" y="391.2" width="1" height="8.8" fill="url(#st)" fill-opacity="0.18"/><rect x="349" y="362" width="1" height="26.6" fill="rgb(0,0,140)" fill-opacity="0.06"/><rect x="350" y="389.0" width="1" height="11.0" fill="url(#lo)"/><rect x="350" y="389.8" width="1" height="10.2" fill="url(#st)" fill-opacity="0.36"/><rect x="350" y="362" width="1" height="27.0" fill="rgb(0,0,140)" fill-opacity="0.08"/><rect x="351" y="389.3" width="1" height="10.7" fill="url(#lo)"/><rect x="351" y="390.6" width="1" height="9.4" fill="url(#st)" fill-opacity="0.27"/><rect x="351" y="362" width="1" height="27.3" fill="rgb(0,0,140)" fill-opacity="0.08"/><rect x="352" y="388.7" width="1" height="11.3" fill="url(#lo)"/><rect x="352" y="389.6" width="1" height="10.4" fill="url(#st)" fill-opacity="0.28"/><rect x="352" y="362" width="1" height="26.7" fill="rgb(0,0,140)" fill-opacity="0.07"/><rect x="353" y="388.8" width="1" height="11.2" fill="url(#lo)"/><rect x="353" y="390.1" width="1" height="9.9" fill="url(#st)" fill-opacity="0.37"/><rect x="353" y="362" width="1" height="26.8" fill="rgb(0,0,140)" fill-opacity="0.11"/><rect x="354" y="389.2" width="1" height="10.8" fill="url(#lo)"/><rect x="354" y="391.2" width="1" height="8.8" fill="url(#st)" fill-opacity="0.26"/><rect x="354" y="362" width="1" height="27.2" fill="rgb(0,0,140)" fill-opacity="0.06"/><rect x="355" y="388.1" width="1" height="11.9" fill="url(#lo)"/><rect x="355" y="390.1" width="1" height="9.9" fill="url(#st)" fill-opacity="0.41"/><rect x="355" y="362" width="1" height="26.1" fill="rgb(0,0,140)" fill-opacity="0.06"/><rect x="356" y="388.1" width="1" height="11.9" fill="url(#lo)"/><rect x="356" y="390.4" width="1" height="9.6" fill="url(#st)" fill-opacity="0.25"/><rect x="356" y="362" width="1" height="26.1" fill="rgb(0,0,140)" fill-opacity="0.01"/><rect x="357" y="388.7" width="1" height="11.3" fill="url(#lo)"/><rect x="357" y="388.8" width="1" height="11.2" fill="url(#st)" fill-opacity="0.42"/><rect x="357" y="362" width="1" height="26.7" fill="rgb(0,0,140)" fill-opacity="0.02"/><rect x="358" y="388.4" width="1" height="11.6" fill="url(#lo)"/><rect x="358" y="389.1" width="1" height="10.9" fill="url(#st)" fill-opacity="0.38"/><rect x="358" y="362" width="1" height="26.4" fill="rgb(0,0,140)" fill-opacity="0.09"/><rect x="359" y="387.7" width="1" height="12.3" fill="url(#lo)"/><rect x="359" y="362" width="1" height="25.7" fill="rgb(0,0,140)" fill-opacity="0.05"/><rect x="360" y="388.4" width="1" height="11.6" fill="url(#lo)"/><rect x="360" y="362" width="1" height="26.4" fill="rgb(0,0,140)" fill-opacity="0.06"/><rect x="361" y="388.2" width="1" height="11.8" fill="url(#lo)"/><rect x="361" y="390.0" width="1" height="10.0" fill="url(#st)" fill-opacity="0.37"/><rect x="361" y="362" width="1" height="26.2" fill="rgb(0,0,140)" fill-opacity="0.05"/><rect x="362" y="387.9" width="1" height="12.1" fill="url(#lo)"/><rect x="362" y="388.3" width="1" height="11.7" fill="url(#st)" fill-opacity="0.49"/><rect x="363" y="387.6" width="1" height="12.4" fill="url(#lo)"/><rect x="363" y="388.4" width="1" height="11.6" fill="url(#st)" fill-opacity="0.42"/><rect x="364" y="387.8" width="1" height="12.2" fill="url(#lo)"/><rect x="364" y="389.7" width="1" height="10.3" fill="url(#st)" fill-opacity="0.17"/><rect x="365" y="387.9" width="1" height="12.1" fill="url(#lo)"/><rect x="365" y="389.1" width="1" height="10.9" fill="url(#st)" fill-opacity="0.35"/><rect x="365" y="362" width="1" height="25.9" fill="rgb(0,0,140)" fill-opacity="0.04"/><rect x="366" y="387.5" width="1" height="12.5" fill="url(#lo)"/><rect x="366" y="389.2" width="1" height="10.8" fill="url(#st)" fill-opacity="0.48"/><rect x="367" y="387.1" width="1" height="12.9" fill="url(#lo)"/><rect x="367" y="388.0" width="1" height="12.0" fill="url(#st)" fill-opacity="0.20"/><rect x="368" y="387.3" width="1" height="12.7" fill="url(#lo)"/><rect x="368" y="362" width="1" height="25.3" fill="rgb(0,0,140)" fill-opacity="0.02"/><rect x="369" y="386.8" width="1" height="13.2" fill="url(#lo)"/><rect x="369" y="387.9" width="1" height="12.1" fill="url(#st)" fill-opacity="0.17"/><rect x="370" y="386.3" width="1" height="13.7" fill="url(#lo)"/><rect x="370" y="389.1" width="1" height="10.9" fill="url(#st)" fill-opacity="0.35"/><rect x="370" y="362" width="1" height="24.3" fill="rgb(0,0,140)" fill-opacity="0.01"/><rect x="371" y="386.1" width="1" height="13.9" fill="url(#lo)"/><rect x="371" y="388.3" width="1" height="11.7" fill="url(#st)" fill-opacity="0.33"/><rect x="371" y="362" width="1" height="24.1" fill="rgb(0,0,140)" fill-opacity="0.03"/><rect x="372" y="386.6" width="1" height="13.4" fill="url(#lo)"/><rect x="372" y="389.2" width="1" height="10.8" fill="url(#st)" fill-opacity="0.29"/><rect x="372" y="362" width="1" height="24.6" fill="rgb(0,0,140)" fill-opacity="0.04"/><rect x="373" y="386.4" width="1" height="13.6" fill="url(#lo)"/><rect x="373" y="387.0" width="1" height="13.0" fill="url(#st)" fill-opacity="0.31"/><rect x="374" y="385.6" width="1" height="14.4" fill="url(#lo)"/><rect x="374" y="387.3" width="1" height="12.7" fill="url(#st)" fill-opacity="0.32"/><rect x="375" y="386.1" width="1" height="13.9" fill="url(#lo)"/><rect x="375" y="387.9" width="1" height="12.1" fill="url(#st)" fill-opacity="0.18"/><rect x="375" y="362" width="1" height="24.1" fill="rgb(0,0,140)" fill-opacity="0.06"/><rect x="376" y="385.0" width="1" height="15.0" fill="url(#lo)"/><rect x="376" y="387.5" width="1" height="12.5" fill="url(#st)" fill-opacity="0.27"/><rect x="377" y="385.3" width="1" height="14.7" fill="url(#lo)"/><rect x="377" y="387.4" width="1" height="12.6" fill="url(#st)" fill-opacity="0.27"/><rect x="377" y="362" width="1" height="23.3" fill="rgb(0,0,140)" fill-opacity="0.05"/><rect x="378" y="385.4" width="1" height="14.6" fill="url(#lo)"/><rect x="378" y="386.1" width="1" height="13.9" fill="url(#st)" fill-opacity="0.24"/><rect x="379" y="384.5" width="1" height="15.5" fill="url(#lo)"/><rect x="379" y="387.0" width="1" height="13.0" fill="url(#st)" fill-opacity="0.18"/><rect x="380" y="385.2" width="1" height="14.8" fill="url(#lo)"/><rect x="380" y="386.2" width="1" height="13.8" fill="url(#st)" fill-opacity="0.20"/><rect x="381" y="385.3" width="1" height="14.7" fill="url(#lo)"/><rect x="382" y="384.8" width="1" height="15.2" fill="url(#lo)"/><rect x="382" y="385.6" width="1" height="14.4" fill="url(#st)" fill-opacity="0.25"/><rect x="383" y="385.8" width="1" height="14.2" fill="url(#lo)"/><rect x="383" y="386.7" width="1" height="13.3" fill="url(#st)" fill-opacity="0.33"/><rect x="384" y="385.5" width="1" height="14.5" fill="url(#lo)"/><rect x="384" y="386.4" width="1" height="13.6" fill="url(#st)" fill-opacity="0.27"/><rect x="385" y="385.5" width="1" height="14.5" fill="url(#lo)"/><rect x="385" y="385.9" width="1" height="14.1" fill="url(#st)" fill-opacity="0.32"/><rect x="386" y="385.7" width="1" height="14.3" fill="url(#lo)"/><rect x="386" y="388.4" width="1" height="11.6" fill="url(#st)" fill-opacity="0.34"/><rect x="387" y="385.9" width="1" height="14.1" fill="url(#lo)"/><rect x="387" y="387.4" width="1" height="12.6" fill="url(#st)" fill-opacity="0.48"/><rect x="388" y="385.6" width="1" height="14.4" fill="url(#lo)"/><rect x="388" y="387.2" width="1" height="12.8" fill="url(#st)" fill-opacity="0.41"/><rect x="389" y="385.8" width="1" height="14.2" fill="url(#lo)"/><rect x="390" y="385.0" width="1" height="15.0" fill="url(#lo)"/><rect x="390" y="386.9" width="1" height="13.1" fill="url(#st)" fill-opacity="0.58"/><rect x="390" y="362" width="1" height="23.0" fill="rgb(0,0,140)" fill-opacity="0.01"/><rect x="391" y="385.5" width="1" height="14.5" fill="url(#lo)"/><rect x="392" y="385.2" width="1" height="14.8" fill="url(#lo)"/><rect x="392" y="386.3" width="1" height="13.7" fill="url(#st)" fill-opacity="0.47"/><rect x="393" y="385.3" width="1" height="14.7" fill="url(#lo)"/><rect x="394" y="385.3" width="1" height="14.7" fill="url(#lo)"/><rect x="394" y="388.2" width="1" height="11.8" fill="url(#st)" fill-opacity="0.41"/><rect x="395" y="385.0" width="1" height="15.0" fill="url(#lo)"/><rect x="395" y="386.5" width="1" height="13.5" fill="url(#st)" fill-opacity="0.68"/><rect x="396" y="384.5" width="1" height="15.5" fill="url(#lo)"/><rect x="397" y="385.1" width="1" height="14.9" fill="url(#lo)"/><rect x="397" y="386.8" width="1" height="13.2" fill="url(#st)" fill-opacity="0.35"/><rect x="398" y="385.3" width="1" height="14.7" fill="url(#lo)"/><rect x="398" y="387.1" width="1" height="12.9" fill="url(#st)" fill-opacity="0.53"/><rect x="398" y="362" width="1" height="23.3" fill="rgb(0,0,140)" fill-opacity="0.03"/><rect x="399" y="386.1" width="1" height="13.9" fill="url(#lo)"/><rect x="399" y="387.5" width="1" height="12.5" fill="url(#st)" fill-opacity="0.37"/><rect x="400" y="385.7" width="1" height="14.3" fill="url(#lo)"/><rect x="400" y="385.7" width="1" height="14.3" fill="url(#st)" fill-opacity="0.49"/><rect x="400" y="362" width="1" height="23.7" fill="rgb(0,0,140)" fill-opacity="0.04"/><rect x="401" y="385.7" width="1" height="14.3" fill="url(#lo)"/><rect x="401" y="386.7" width="1" height="13.3" fill="url(#st)" fill-opacity="0.55"/><rect x="402" y="386.3" width="1" height="13.7" fill="url(#lo)"/><rect x="402" y="387.1" width="1" height="12.9" fill="url(#st)" fill-opacity="0.51"/><rect x="403" y="386.6" width="1" height="13.4" fill="url(#lo)"/><rect x="403" y="386.7" width="1" height="13.3" fill="url(#st)" fill-opacity="0.26"/><rect x="404" y="386.1" width="1" height="13.9" fill="url(#lo)"/><rect x="404" y="386.6" width="1" height="13.4" fill="url(#st)" fill-opacity="0.23"/><rect x="405" y="387.2" width="1" height="12.8" fill="url(#lo)"/><rect x="405" y="389.7" width="1" height="10.3" fill="url(#st)" fill-opacity="0.26"/><rect x="405" y="362" width="1" height="25.2" fill="rgb(0,0,140)" fill-opacity="0.04"/><rect x="406" y="386.8" width="1" height="13.2" fill="url(#lo)"/><rect x="406" y="362" width="1" height="24.8" fill="rgb(0,0,140)" fill-opacity="0.03"/><rect x="407" y="386.8" width="1" height="13.2" fill="url(#lo)"/><rect x="407" y="362" width="1" height="24.8" fill="rgb(0,0,140)" fill-opacity="0.04"/><rect x="408" y="386.7" width="1" height="13.3" fill="url(#lo)"/><rect x="408" y="387.4" width="1" height="12.6" fill="url(#st)" fill-opacity="0.41"/><rect x="408" y="362" width="1" height="24.7" fill="rgb(0,0,140)" fill-opacity="0.06"/><rect x="409" y="387.5" width="1" height="12.5" fill="url(#lo)"/><rect x="409" y="388.2" width="1" height="11.8" fill="url(#st)" fill-opacity="0.18"/><rect x="409" y="362" width="1" height="25.5" fill="rgb(0,0,140)" fill-opacity="0.05"/><rect x="410" y="387.8" width="1" height="12.2" fill="url(#lo)"/><rect x="411" y="388.0" width="1" height="12.0" fill="url(#lo)"/><rect x="411" y="389.4" width="1" height="10.6" fill="url(#st)" fill-opacity="0.23"/><rect x="411" y="362" width="1" height="26.0" fill="rgb(0,0,140)" fill-opacity="0.03"/><rect x="412" y="387.9" width="1" height="12.1" fill="url(#lo)"/><rect x="412" y="387.9" width="1" height="12.1" fill="url(#st)" fill-opacity="0.13"/><rect x="413" y="388.0" width="1" height="12.0" fill="url(#lo)"/><rect x="413" y="389.8" width="1" height="10.2" fill="url(#st)" fill-opacity="0.18"/><rect x="414" y="388.0" width="1" height="12.0" fill="url(#lo)"/><rect x="414" y="390.3" width="1" height="9.7" fill="url(#st)" fill-opacity="0.21"/><rect x="415" y="388.3" width="1" height="11.7" fill="url(#lo)"/><rect x="415" y="388.5" width="1" height="11.5" fill="url(#st)" fill-opacity="0.17"/><rect x="416" y="388.3" width="1" height="11.7" fill="url(#lo)"/><rect x="416" y="390.8" width="1" height="9.2" fill="url(#st)" fill-opacity="0.15"/><rect x="417" y="389.2" width="1" height="10.8" fill="url(#lo)"/><rect x="417" y="389.4" width="1" height="10.6" fill="url(#st)" fill-opacity="0.22"/><rect x="418" y="388.6" width="1" height="11.4" fill="url(#lo)"/><rect x="418" y="388.7" width="1" height="11.3" fill="url(#st)" fill-opacity="0.14"/><rect x="419" y="389.0" width="1" height="11.0" fill="url(#lo)"/><rect x="419" y="391.6" width="1" height="8.4" fill="url(#st)" fill-opacity="0.12"/><rect x="420" y="389.9" width="1" height="10.1" fill="url(#lo)"/><rect x="420" y="390.8" width="1" height="9.2" fill="url(#st)" fill-opacity="0.13"/><rect x="421" y="389.3" width="1" height="10.7" fill="url(#lo)"/><rect x="421" y="389.8" width="1" height="10.2" fill="url(#st)" fill-opacity="0.10"/><rect x="422" y="389.8" width="1" height="10.2" fill="url(#lo)"/><rect x="422" y="391.3" width="1" height="8.7" fill="url(#st)" fill-opacity="0.15"/><rect x="422" y="362" width="1" height="27.8" fill="rgb(0,0,140)" fill-opacity="0.03"/><rect x="423" y="389.6" width="1" height="10.4" fill="url(#lo)"/><rect x="423" y="390.6" width="1" height="9.4" fill="url(#st)" fill-opacity="0.10"/><rect x="423" y="362" width="1" height="27.6" fill="rgb(0,0,140)" fill-opacity="0.05"/><rect x="424" y="390.5" width="1" height="9.5" fill="url(#lo)"/><rect x="424" y="393.3" width="1" height="6.7" fill="url(#st)" fill-opacity="0.19"/><rect x="424" y="362" width="1" height="28.5" fill="rgb(0,0,140)" fill-opacity="0.02"/><rect x="425" y="390.9" width="1" height="9.1" fill="url(#lo)"/><rect x="425" y="393.6" width="1" height="6.4" fill="url(#st)" fill-opacity="0.21"/><rect x="425" y="362" width="1" height="28.9" fill="rgb(0,0,140)" fill-opacity="0.02"/><rect x="426" y="390.6" width="1" height="9.4" fill="url(#lo)"/><rect x="426" y="392.7" width="1" height="7.3" fill="url(#st)" fill-opacity="0.17"/><rect x="427" y="390.6" width="1" height="9.4" fill="url(#lo)"/><rect x="427" y="392.9" width="1" height="7.1" fill="url(#st)" fill-opacity="0.18"/><rect x="427" y="362" width="1" height="28.6" fill="rgb(0,0,140)" fill-opacity="0.06"/><rect x="428" y="391.3" width="1" height="8.7" fill="url(#lo)"/><rect x="428" y="362" width="1" height="29.3" fill="rgb(0,0,140)" fill-opacity="0.04"/><rect x="429" y="391.5" width="1" height="8.5" fill="url(#lo)"/><rect x="430" y="391.4" width="1" height="8.6" fill="url(#lo)"/><rect x="431" y="391.0" width="1" height="9.0" fill="url(#lo)"/><rect x="431" y="362" width="1" height="29.0" fill="rgb(0,0,140)" fill-opacity="0.02"/><rect x="432" y="390.8" width="1" height="9.2" fill="url(#lo)"/><rect x="432" y="391.0" width="1" height="9.0" fill="url(#st)" fill-opacity="0.18"/><rect x="432" y="362" width="1" height="28.8" fill="rgb(0,0,140)" fill-opacity="0.03"/><rect x="433" y="390.3" width="1" height="9.7" fill="url(#lo)"/><rect x="433" y="390.9" width="1" height="9.1" fill="url(#st)" fill-opacity="0.21"/><rect x="433" y="362" width="1" height="28.3" fill="rgb(0,0,140)" fill-opacity="0.02"/><rect x="434" y="390.7" width="1" height="9.3" fill="url(#lo)"/><rect x="434" y="362" width="1" height="28.7" fill="rgb(0,0,140)" fill-opacity="0.03"/><rect x="435" y="390.3" width="1" height="9.7" fill="url(#lo)"/><rect x="435" y="390.9" width="1" height="9.1" fill="url(#st)" fill-opacity="0.28"/><rect x="436" y="389.7" width="1" height="10.3" fill="url(#lo)"/><rect x="436" y="389.7" width="1" height="10.3" fill="url(#st)" fill-opacity="0.15"/><rect x="436" y="362" width="1" height="27.7" fill="rgb(0,0,140)" fill-opacity="0.04"/><rect x="437" y="390.3" width="1" height="9.7" fill="url(#lo)"/><rect x="437" y="392.5" width="1" height="7.5" fill="url(#st)" fill-opacity="0.18"/><rect x="437" y="362" width="1" height="28.3" fill="rgb(0,0,140)" fill-opacity="0.06"/><rect x="438" y="389.9" width="1" height="10.1" fill="url(#lo)"/><rect x="438" y="362" width="1" height="27.9" fill="rgb(0,0,140)" fill-opacity="0.04"/><rect x="439" y="389.3" width="1" height="10.7" fill="url(#lo)"/><rect x="439" y="390.2" width="1" height="9.8" fill="url(#st)" fill-opacity="0.26"/><rect x="439" y="362" width="1" height="27.3" fill="rgb(0,0,140)" fill-opacity="0.04"/><rect x="440" y="389.0" width="1" height="11.0" fill="url(#lo)"/><rect x="440" y="391.4" width="1" height="8.6" fill="url(#st)" fill-opacity="0.24"/><rect x="440" y="362" width="1" height="27.0" fill="rgb(0,0,140)" fill-opacity="0.03"/><rect x="441" y="388.5" width="1" height="11.5" fill="url(#lo)"/><rect x="441" y="388.6" width="1" height="11.4" fill="url(#st)" fill-opacity="0.25"/><rect x="442" y="388.3" width="1" height="11.7" fill="url(#lo)"/><rect x="442" y="390.3" width="1" height="9.7" fill="url(#st)" fill-opacity="0.38"/><rect x="443" y="388.0" width="1" height="12.0" fill="url(#lo)"/><rect x="443" y="389.4" width="1" height="10.6" fill="url(#st)" fill-opacity="0.18"/><rect x="444" y="388.7" width="1" height="11.3" fill="url(#lo)"/><rect x="444" y="389.8" width="1" height="10.2" fill="url(#st)" fill-opacity="0.46"/><rect x="444" y="362" width="1" height="26.7" fill="rgb(0,0,140)" fill-opacity="0.04"/><rect x="445" y="388.0" width="1" height="12.0" fill="url(#lo)"/><rect x="445" y="388.5" width="1" height="11.5" fill="url(#st)" fill-opacity="0.22"/><rect x="445" y="362" width="1" height="26.0" fill="rgb(0,0,140)" fill-opacity="0.03"/><rect x="446" y="388.2" width="1" height="11.8" fill="url(#lo)"/><rect x="446" y="389.2" width="1" height="10.8" fill="url(#st)" fill-opacity="0.43"/><rect x="446" y="362" width="1" height="26.2" fill="rgb(0,0,140)" fill-opacity="0.04"/><rect x="447" y="389.0" width="1" height="11.0" fill="url(#lo)"/><rect x="448" y="388.9" width="1" height="11.1" fill="url(#lo)"/><rect x="449" y="389.5" width="1" height="10.5" fill="url(#lo)"/><rect x="449" y="391.4" width="1" height="8.6" fill="url(#st)" fill-opacity="0.39"/><rect x="450" y="388.5" width="1" height="11.5" fill="url(#lo)"/><rect x="450" y="390.3" width="1" height="9.7" fill="url(#st)" fill-opacity="0.26"/><rect x="451" y="389.1" width="1" height="10.9" fill="url(#lo)"/><rect x="451" y="390.9" width="1" height="9.1" fill="url(#st)" fill-opacity="0.24"/><rect x="451" y="362" width="1" height="27.1" fill="rgb(0,0,140)" fill-opacity="0.01"/><rect x="452" y="389.7" width="1" height="10.3" fill="url(#lo)"/><rect x="452" y="391.0" width="1" height="9.0" fill="url(#st)" fill-opacity="0.27"/><rect x="453" y="389.4" width="1" height="10.6" fill="url(#lo)"/><rect x="453" y="390.9" width="1" height="9.1" fill="url(#st)" fill-opacity="0.35"/><rect x="453" y="362" width="1" height="27.4" fill="rgb(0,0,140)" fill-opacity="0.03"/><rect x="454" y="388.8" width="1" height="11.2" fill="url(#lo)"/><rect x="454" y="362" width="1" height="26.8" fill="rgb(0,0,140)" fill-opacity="0.02"/><rect x="455" y="388.5" width="1" height="11.5" fill="url(#lo)"/><rect x="455" y="388.9" width="1" height="11.1" fill="url(#st)" fill-opacity="0.19"/><rect x="456" y="389.0" width="1" height="11.0" fill="url(#lo)"/><rect x="456" y="389.9" width="1" height="10.1" fill="url(#st)" fill-opacity="0.30"/><rect x="456" y="362" width="1" height="27.0" fill="rgb(0,0,140)" fill-opacity="0.05"/><rect x="457" y="388.5" width="1" height="11.5" fill="url(#lo)"/><rect x="457" y="390.0" width="1" height="10.0" fill="url(#st)" fill-opacity="0.40"/><rect x="458" y="389.3" width="1" height="10.7" fill="url(#lo)"/><rect x="458" y="391.3" width="1" height="8.7" fill="url(#st)" fill-opacity="0.18"/><rect x="458" y="362" width="1" height="27.3" fill="rgb(0,0,140)" fill-opacity="0.03"/><rect x="459" y="389.0" width="1" height="11.0" fill="url(#lo)"/><rect x="459" y="390.0" width="1" height="10.0" fill="url(#st)" fill-opacity="0.37"/><rect x="459" y="362" width="1" height="27.0" fill="rgb(0,0,140)" fill-opacity="0.05"/><rect x="460" y="388.6" width="1" height="11.4" fill="url(#lo)"/><rect x="460" y="390.0" width="1" height="10.0" fill="url(#st)" fill-opacity="0.28"/><rect x="461" y="389.5" width="1" height="10.5" fill="url(#lo)"/><rect x="461" y="391.3" width="1" height="8.7" fill="url(#st)" fill-opacity="0.14"/><rect x="462" y="389.0" width="1" height="11.0" fill="url(#lo)"/><rect x="462" y="362" width="1" height="27.0" fill="rgb(0,0,140)" fill-opacity="0.04"/><rect x="463" y="388.9" width="1" height="11.1" fill="url(#lo)"/><rect x="464" y="389.6" width="1" height="10.4" fill="url(#lo)"/><rect x="464" y="392.3" width="1" height="7.7" fill="url(#st)" fill-opacity="0.25"/><rect x="465" y="389.0" width="1" height="11.0" fill="url(#lo)"/><rect x="465" y="390.7" width="1" height="9.3" fill="url(#st)" fill-opacity="0.17"/><rect x="466" y="390.1" width="1" height="9.9" fill="url(#lo)"/><rect x="466" y="391.1" width="1" height="8.9" fill="url(#st)" fill-opacity="0.32"/><rect x="466" y="362" width="1" height="28.1" fill="rgb(0,0,140)" fill-opacity="0.04"/><rect x="467" y="390.1" width="1" height="9.9" fill="url(#lo)"/><rect x="467" y="392.2" width="1" height="7.8" fill="url(#st)" fill-opacity="0.28"/><rect x="468" y="389.8" width="1" height="10.2" fill="url(#lo)"/><rect x="468" y="390.3" width="1" height="9.7" fill="url(#st)" fill-opacity="0.20"/><rect x="469" y="389.8" width="1" height="10.2" fill="url(#lo)"/><rect x="469" y="390.9" width="1" height="9.1" fill="url(#st)" fill-opacity="0.23"/><rect x="469" y="362" width="1" height="27.8" fill="rgb(0,0,140)" fill-opacity="0.06"/><rect x="470" y="389.9" width="1" height="10.1" fill="url(#lo)"/><rect x="470" y="391.7" width="1" height="8.3" fill="url(#st)" fill-opacity="0.31"/><rect x="471" y="390.1" width="1" height="9.9" fill="url(#lo)"/><rect x="471" y="393.0" width="1" height="7.0" fill="url(#st)" fill-opacity="0.29"/><rect x="472" y="389.8" width="1" height="10.2" fill="url(#lo)"/><rect x="472" y="390.9" width="1" height="9.1" fill="url(#st)" fill-opacity="0.25"/><rect x="473" y="389.4" width="1" height="10.6" fill="url(#lo)"/><rect x="473" y="391.8" width="1" height="8.2" fill="url(#st)" fill-opacity="0.41"/><rect x="474" y="389.9" width="1" height="10.1" fill="url(#lo)"/><rect x="474" y="390.6" width="1" height="9.4" fill="url(#st)" fill-opacity="0.40"/><rect x="475" y="389.8" width="1" height="10.2" fill="url(#lo)"/><rect x="475" y="362" width="1" height="27.8" fill="rgb(0,0,140)" fill-opacity="0.02"/><rect x="476" y="389.0" width="1" height="11.0" fill="url(#lo)"/><rect x="476" y="391.7" width="1" height="8.3" fill="url(#st)" fill-opacity="0.33"/><rect x="476" y="362" width="1" height="27.0" fill="rgb(0,0,140)" fill-opacity="0.02"/><rect x="477" y="389.8" width="1" height="10.2" fill="url(#lo)"/><rect x="477" y="390.8" width="1" height="9.2" fill="url(#st)" fill-opacity="0.42"/><rect x="478" y="389.0" width="1" height="11.0" fill="url(#lo)"/><rect x="478" y="389.9" width="1" height="10.1" fill="url(#st)" fill-opacity="0.26"/><rect x="479" y="388.8" width="1" height="11.2" fill="url(#lo)"/><rect x="479" y="389.8" width="1" height="10.2" fill="url(#st)" fill-opacity="0.30"/><rect x="480" y="388.8" width="1" height="11.2" fill="url(#lo)"/><rect x="480" y="388.8" width="1" height="11.2" fill="url(#st)" fill-opacity="0.27"/><rect x="481" y="389.4" width="1" height="10.6" fill="url(#lo)"/><rect x="481" y="390.7" width="1" height="9.3" fill="url(#st)" fill-opacity="0.17"/><rect x="481" y="362" width="1" height="27.4" fill="rgb(0,0,140)" fill-opacity="0.06"/><rect x="482" y="389.2" width="1" height="10.8" fill="url(#lo)"/><rect x="483" y="389.5" width="1" height="10.5" fill="url(#lo)"/><rect x="483" y="389.7" width="1" height="10.3" fill="url(#st)" fill-opacity="0.40"/><rect x="484" y="388.9" width="1" height="11.1" fill="url(#lo)"/><rect x="484" y="389.3" width="1" height="10.7" fill="url(#st)" fill-opacity="0.32"/><rect x="485" y="389.4" width="1" height="10.6" fill="url(#lo)"/><rect x="486" y="389.5" width="1" height="10.5" fill="url(#lo)"/><rect x="486" y="391.8" width="1" height="8.2" fill="url(#st)" fill-opacity="0.30"/><rect x="487" y="388.7" width="1" height="11.3" fill="url(#lo)"/><rect x="487" y="390.3" width="1" height="9.7" fill="url(#st)" fill-opacity="0.29"/><rect x="488" y="389.4" width="1" height="10.6" fill="url(#lo)"/><rect x="488" y="391.9" width="1" height="8.1" fill="url(#st)" fill-opacity="0.39"/><rect x="489" y="388.8" width="1" height="11.2" fill="url(#lo)"/><rect x="489" y="389.7" width="1" height="10.3" fill="url(#st)" fill-opacity="0.50"/><rect x="490" y="389.2" width="1" height="10.8" fill="url(#lo)"/><rect x="490" y="391.6" width="1" height="8.4" fill="url(#st)" fill-opacity="0.26"/><rect x="490" y="362" width="1" height="27.2" fill="rgb(0,0,140)" fill-opacity="0.05"/><rect x="491" y="389.5" width="1" height="10.5" fill="url(#lo)"/><rect x="491" y="389.7" width="1" height="10.3" fill="url(#st)" fill-opacity="0.37"/><rect x="492" y="388.5" width="1" height="11.5" fill="url(#lo)"/><rect x="492" y="390.3" width="1" height="9.7" fill="url(#st)" fill-opacity="0.44"/><rect x="493" y="388.9" width="1" height="11.1" fill="url(#lo)"/><rect x="493" y="390.3" width="1" height="9.7" fill="url(#st)" fill-opacity="0.25"/><rect x="493" y="362" width="1" height="26.9" fill="rgb(0,0,140)" fill-opacity="0.04"/><rect x="494" y="388.5" width="1" height="11.5" fill="url(#lo)"/><rect x="494" y="390.1" width="1" height="9.9" fill="url(#st)" fill-opacity="0.24"/><rect x="495" y="388.4" width="1" height="11.6" fill="url(#lo)"/><rect x="496" y="388.8" width="1" height="11.2" fill="url(#lo)"/><rect x="496" y="391.7" width="1" height="8.3" fill="url(#st)" fill-opacity="0.34"/><rect x="496" y="362" width="1" height="26.8" fill="rgb(0,0,140)" fill-opacity="0.05"/><rect x="497" y="389.1" width="1" height="10.9" fill="url(#lo)"/><rect x="498" y="388.0" width="1" height="12.0" fill="url(#lo)"/><rect x="498" y="390.8" width="1" height="9.2" fill="url(#st)" fill-opacity="0.29"/><rect x="499" y="387.8" width="1" height="12.2" fill="url(#lo)"/><rect x="499" y="389.8" width="1" height="10.2" fill="url(#st)" fill-opacity="0.17"/><rect x="500" y="388.4" width="1" height="11.6" fill="url(#lo)"/><rect x="500" y="389.8" width="1" height="10.2" fill="url(#st)" fill-opacity="0.19"/><rect x="500" y="362" width="1" height="26.4" fill="rgb(0,0,140)" fill-opacity="0.03"/><rect x="501" y="388.1" width="1" height="11.9" fill="url(#lo)"/><rect x="501" y="389.8" width="1" height="10.2" fill="url(#st)" fill-opacity="0.19"/><rect x="502" y="387.5" width="1" height="12.5" fill="url(#lo)"/><rect x="502" y="387.8" width="1" height="12.2" fill="url(#st)" fill-opacity="0.13"/><rect x="503" y="388.0" width="1" height="12.0" fill="url(#lo)"/><rect x="503" y="362" width="1" height="26.0" fill="rgb(0,0,140)" fill-opacity="0.02"/><rect x="504" y="387.0" width="1" height="13.0" fill="url(#lo)"/><rect x="504" y="388.8" width="1" height="11.2" fill="url(#st)" fill-opacity="0.13"/><rect x="505" y="386.8" width="1" height="13.2" fill="url(#lo)"/><rect x="505" y="386.9" width="1" height="13.1" fill="url(#st)" fill-opacity="0.12"/><rect x="506" y="386.5" width="1" height="13.5" fill="url(#lo)"/><rect x="506" y="386.7" width="1" height="13.3" fill="url(#st)" fill-opacity="0.31"/><rect x="506" y="362" width="1" height="24.5" fill="rgb(0,0,140)" fill-opacity="0.02"/><rect x="507" y="387.0" width="1" height="13.0" fill="url(#lo)"/><rect x="507" y="388.3" width="1" height="11.7" fill="url(#st)" fill-opacity="0.21"/><rect x="507" y="362" width="1" height="25.0" fill="rgb(0,0,140)" fill-opacity="0.03"/><rect x="508" y="386.8" width="1" height="13.2" fill="url(#lo)"/><rect x="508" y="389.5" width="1" height="10.5" fill="url(#st)" fill-opacity="0.34"/><rect x="509" y="386.8" width="1" height="13.2" fill="url(#lo)"/><rect x="509" y="362" width="1" height="24.8" fill="rgb(0,0,140)" fill-opacity="0.06"/><rect x="510" y="385.7" width="1" height="14.3" fill="url(#lo)"/><rect x="510" y="362" width="1" height="23.7" fill="rgb(0,0,140)" fill-opacity="0.02"/><rect x="511" y="385.8" width="1" height="14.2" fill="url(#lo)"/><rect x="512" y="385.4" width="1" height="14.6" fill="url(#lo)"/><rect x="513" y="385.6" width="1" height="14.4" fill="url(#lo)"/><rect x="513" y="386.4" width="1" height="13.6" fill="url(#st)" fill-opacity="0.22"/><rect x="514" y="385.9" width="1" height="14.1" fill="url(#lo)"/><rect x="514" y="386.1" width="1" height="13.9" fill="url(#st)" fill-opacity="0.36"/><rect x="514" y="362" width="1" height="23.9" fill="rgb(0,0,140)" fill-opacity="0.04"/><rect x="515" y="385.0" width="1" height="15.0" fill="url(#lo)"/><rect x="515" y="385.1" width="1" height="14.9" fill="url(#st)" fill-opacity="0.15"/><rect x="516" y="385.1" width="1" height="14.9" fill="url(#lo)"/><rect x="516" y="386.0" width="1" height="14.0" fill="url(#st)" fill-opacity="0.31"/><rect x="516" y="362" width="1" height="23.1" fill="rgb(0,0,140)" fill-opacity="0.04"/><rect x="517" y="384.8" width="1" height="15.2" fill="url(#lo)"/><rect x="517" y="385.6" width="1" height="14.4" fill="url(#st)" fill-opacity="0.29"/><rect x="517" y="362" width="1" height="22.8" fill="rgb(0,0,140)" fill-opacity="0.02"/><rect x="518" y="384.7" width="1" height="15.3" fill="url(#lo)"/><rect x="518" y="386.1" width="1" height="13.9" fill="url(#st)" fill-opacity="0.18"/><rect x="518" y="362" width="1" height="22.7" fill="rgb(0,0,140)" fill-opacity="0.07"/><rect x="519" y="384.8" width="1" height="15.2" fill="url(#lo)"/><rect x="519" y="384.9" width="1" height="15.1" fill="url(#st)" fill-opacity="0.29"/><rect x="519" y="362" width="1" height="22.8" fill="rgb(0,0,140)" fill-opacity="0.07"/><rect x="520" y="385.1" width="1" height="14.9" fill="url(#lo)"/><rect x="520" y="387.3" width="1" height="12.7" fill="url(#st)" fill-opacity="0.21"/><rect x="520" y="362" width="1" height="23.1" fill="rgb(0,0,140)" fill-opacity="0.02"/><rect x="521" y="385.5" width="1" height="14.5" fill="url(#lo)"/><rect x="521" y="362" width="1" height="23.5" fill="rgb(0,0,140)" fill-opacity="0.03"/><rect x="522" y="385.5" width="1" height="14.5" fill="url(#lo)"/><rect x="522" y="387.1" width="1" height="12.9" fill="url(#st)" fill-opacity="0.25"/><rect x="523" y="385.5" width="1" height="14.5" fill="url(#lo)"/><rect x="524" y="385.2" width="1" height="14.8" fill="url(#lo)"/><rect x="524" y="387.0" width="1" height="13.0" fill="url(#st)" fill-opacity="0.25"/><rect x="525" y="385.5" width="1" height="14.5" fill="url(#lo)"/><rect x="525" y="388.4" width="1" height="11.6" fill="url(#st)" fill-opacity="0.21"/><rect x="525" y="362" width="1" height="23.5" fill="rgb(0,0,140)" fill-opacity="0.03"/><rect x="526" y="385.9" width="1" height="14.1" fill="url(#lo)"/><rect x="526" y="388.1" width="1" height="11.9" fill="url(#st)" fill-opacity="0.24"/><rect x="526" y="362" width="1" height="23.9" fill="rgb(0,0,140)" fill-opacity="0.05"/><rect x="527" y="385.9" width="1" height="14.1" fill="url(#lo)"/><rect x="527" y="388.6" width="1" height="11.4" fill="url(#st)" fill-opacity="0.28"/><rect x="527" y="362" width="1" height="23.9" fill="rgb(0,0,140)" fill-opacity="0.01"/><rect x="528" y="386.5" width="1" height="13.5" fill="url(#lo)"/><rect x="528" y="388.7" width="1" height="11.3" fill="url(#st)" fill-opacity="0.29"/><rect x="528" y="362" width="1" height="24.5" fill="rgb(0,0,140)" fill-opacity="0.10"/><rect x="529" y="386.9" width="1" height="13.1" fill="url(#lo)"/><rect x="529" y="387.9" width="1" height="12.1" fill="url(#st)" fill-opacity="0.22"/><rect x="529" y="362" width="1" height="24.9" fill="rgb(0,0,140)" fill-opacity="0.07"/><rect x="530" y="387.6" width="1" height="12.4" fill="url(#lo)"/><rect x="530" y="388.4" width="1" height="11.6" fill="url(#st)" fill-opacity="0.18"/><rect x="531" y="386.9" width="1" height="13.1" fill="url(#lo)"/><rect x="531" y="388.3" width="1" height="11.7" fill="url(#st)" fill-opacity="0.23"/><rect x="532" y="387.6" width="1" height="12.4" fill="url(#lo)"/><rect x="533" y="388.0" width="1" height="12.0" fill="url(#lo)"/><rect x="533" y="362" width="1" height="26.0" fill="rgb(0,0,140)" fill-opacity="0.01"/><rect x="534" y="387.5" width="1" height="12.5" fill="url(#lo)"/><rect x="534" y="388.6" width="1" height="11.4" fill="url(#st)" fill-opacity="0.30"/><rect x="535" y="387.4" width="1" height="12.6" fill="url(#lo)"/><rect x="535" y="388.0" width="1" height="12.0" fill="url(#st)" fill-opacity="0.19"/><rect x="536" y="388.0" width="1" height="12.0" fill="url(#lo)"/><rect x="536" y="388.7" width="1" height="11.3" fill="url(#st)" fill-opacity="0.21"/><rect x="537" y="388.0" width="1" height="12.0" fill="url(#lo)"/><rect x="537" y="390.9" width="1" height="9.1" fill="url(#st)" fill-opacity="0.17"/><rect x="538" y="387.8" width="1" height="12.2" fill="url(#lo)"/><rect x="538" y="390.1" width="1" height="9.9" fill="url(#st)" fill-opacity="0.29"/><rect x="539" y="387.2" width="1" height="12.8" fill="url(#lo)"/><rect x="539" y="388.2" width="1" height="11.8" fill="url(#st)" fill-opacity="0.27"/><rect x="540" y="386.8" width="1" height="13.2" fill="url(#lo)"/><rect x="540" y="362" width="1" height="24.8" fill="rgb(0,0,140)" fill-opacity="0.01"/><rect x="541" y="387.7" width="1" height="12.3" fill="url(#lo)"/><rect x="542" y="387.5" width="1" height="12.5" fill="url(#lo)"/><rect x="543" y="387.0" width="1" height="13.0" fill="url(#lo)"/><rect x="543" y="389.5" width="1" height="10.5" fill="url(#st)" fill-opacity="0.34"/><rect x="544" y="386.2" width="1" height="13.8" fill="url(#lo)"/><rect x="544" y="387.7" width="1" height="12.3" fill="url(#st)" fill-opacity="0.31"/><rect x="545" y="387.3" width="1" height="12.7" fill="url(#lo)"/><rect x="545" y="389.3" width="1" height="10.7" fill="url(#st)" fill-opacity="0.26"/><rect x="546" y="386.5" width="1" height="13.5" fill="url(#lo)"/><rect x="546" y="389.2" width="1" height="10.8" fill="url(#st)" fill-opacity="0.12"/><rect x="547" y="387.1" width="1" height="12.9" fill="url(#lo)"/><rect x="547" y="388.4" width="1" height="11.6" fill="url(#st)" fill-opacity="0.13"/><rect x="548" y="386.7" width="1" height="13.3" fill="url(#lo)"/><rect x="548" y="387.9" width="1" height="12.1" fill="url(#st)" fill-opacity="0.07"/><rect x="548" y="362" width="1" height="24.7" fill="rgb(0,0,140)" fill-opacity="0.01"/><rect x="549" y="386.3" width="1" height="13.7" fill="url(#lo)"/><rect x="549" y="389.0" width="1" height="11.0" fill="url(#st)" fill-opacity="0.17"/><rect x="550" y="386.1" width="1" height="13.9" fill="url(#lo)"/><rect x="551" y="387.0" width="1" height="13.0" fill="url(#lo)"/><rect x="551" y="388.0" width="1" height="12.0" fill="url(#st)" fill-opacity="0.18"/><rect x="551" y="362" width="1" height="25.0" fill="rgb(0,0,140)" fill-opacity="0.04"/><rect x="552" y="386.3" width="1" height="13.7" fill="url(#lo)"/><rect x="552" y="388.3" width="1" height="11.7" fill="url(#st)" fill-opacity="0.25"/><rect x="553" y="387.4" width="1" height="12.6" fill="url(#lo)"/><rect x="554" y="387.6" width="1" height="12.4" fill="url(#lo)"/><rect x="554" y="389.5" width="1" height="10.5" fill="url(#st)" fill-opacity="0.12"/><rect x="555" y="387.4" width="1" height="12.6" fill="url(#lo)"/><rect x="555" y="387.4" width="1" height="12.6" fill="url(#st)" fill-opacity="0.20"/><rect x="556" y="386.8" width="1" height="13.2" fill="url(#lo)"/><rect x="557" y="386.9" width="1" height="13.1" fill="url(#lo)"/><rect x="557" y="388.3" width="1" height="11.7" fill="url(#st)" fill-opacity="0.31"/><rect x="558" y="386.1" width="1" height="13.9" fill="url(#lo)"/><rect x="558" y="387.2" width="1" height="12.8" fill="url(#st)" fill-opacity="0.20"/><rect x="559" y="385.9" width="1" height="14.1" fill="url(#lo)"/><rect x="559" y="386.2" width="1" height="13.8" fill="url(#st)" fill-opacity="0.29"/><rect x="559" y="362" width="1" height="23.9" fill="rgb(0,0,140)" fill-opacity="0.02"/><rect x="560" y="385.3" width="1" height="14.7" fill="url(#lo)"/><rect x="560" y="387.7" width="1" height="12.3" fill="url(#st)" fill-opacity="0.22"/><rect x="560" y="362" width="1" height="23.3" fill="rgb(0,0,140)" fill-opacity="0.06"/><rect x="561" y="385.0" width="1" height="15.0" fill="url(#lo)"/><rect x="561" y="385.1" width="1" height="14.9" fill="url(#st)" fill-opacity="0.20"/><rect x="561" y="362" width="1" height="23.0" fill="rgb(0,0,140)" fill-opacity="0.05"/><rect x="562" y="384.8" width="1" height="15.2" fill="url(#lo)"/><rect x="562" y="385.6" width="1" height="14.4" fill="url(#st)" fill-opacity="0.28"/><rect x="563" y="384.4" width="1" height="15.6" fill="url(#lo)"/><rect x="563" y="386.8" width="1" height="13.2" fill="url(#st)" fill-opacity="0.28"/><rect x="564" y="385.1" width="1" height="14.9" fill="url(#lo)"/><rect x="564" y="387.3" width="1" height="12.7" fill="url(#st)" fill-opacity="0.44"/><rect x="565" y="385.3" width="1" height="14.7" fill="url(#lo)"/><rect x="566" y="385.4" width="1" height="14.6" fill="url(#lo)"/><rect x="566" y="387.2" width="1" height="12.8" fill="url(#st)" fill-opacity="0.38"/><rect x="567" y="384.6" width="1" height="15.4" fill="url(#lo)"/><rect x="568" y="384.7" width="1" height="15.3" fill="url(#lo)"/><rect x="569" y="385.3" width="1" height="14.7" fill="url(#lo)"/><rect x="569" y="386.2" width="1" height="13.8" fill="url(#st)" fill-opacity="0.19"/><rect x="570" y="385.1" width="1" height="14.9" fill="url(#lo)"/><rect x="570" y="388.1" width="1" height="11.9" fill="url(#st)" fill-opacity="0.36"/><rect x="570" y="362" width="1" height="23.1" fill="rgb(0,0,140)" fill-opacity="0.02"/><rect x="571" y="386.0" width="1" height="14.0" fill="url(#lo)"/><rect x="571" y="386.3" width="1" height="13.7" fill="url(#st)" fill-opacity="0.32"/><rect x="571" y="362" width="1" height="24.0" fill="rgb(0,0,140)" fill-opacity="0.03"/><rect x="572" y="385.1" width="1" height="14.9" fill="url(#lo)"/><rect x="572" y="385.5" width="1" height="14.5" fill="url(#st)" fill-opacity="0.34"/><rect x="572" y="362" width="1" height="23.1" fill="rgb(0,0,140)" fill-opacity="0.02"/><rect x="573" y="385.7" width="1" height="14.3" fill="url(#lo)"/><rect x="573" y="385.9" width="1" height="14.1" fill="url(#st)" fill-opacity="0.35"/><rect x="573" y="362" width="1" height="23.7" fill="rgb(0,0,140)" fill-opacity="0.03"/><rect x="574" y="386.0" width="1" height="14.0" fill="url(#lo)"/><rect x="574" y="386.1" width="1" height="13.9" fill="url(#st)" fill-opacity="0.30"/><rect x="574" y="362" width="1" height="24.0" fill="rgb(0,0,140)" fill-opacity="0.04"/><rect x="575" y="385.1" width="1" height="14.9" fill="url(#lo)"/><rect x="575" y="387.2" width="1" height="12.8" fill="url(#st)" fill-opacity="0.40"/><rect x="575" y="362" width="1" height="23.1" fill="rgb(0,0,140)" fill-opacity="0.10"/><rect x="576" y="386.0" width="1" height="14.0" fill="url(#lo)"/><rect x="576" y="387.7" width="1" height="12.3" fill="url(#st)" fill-opacity="0.32"/><rect x="576" y="362" width="1" height="24.0" fill="rgb(0,0,140)" fill-opacity="0.10"/><rect x="577" y="385.8" width="1" height="14.2" fill="url(#lo)"/><rect x="577" y="388.4" width="1" height="11.6" fill="url(#st)" fill-opacity="0.19"/><rect x="577" y="362" width="1" height="23.8" fill="rgb(0,0,140)" fill-opacity="0.17"/><rect x="578" y="385.6" width="1" height="14.4" fill="url(#lo)"/><rect x="578" y="388.5" width="1" height="11.5" fill="url(#st)" fill-opacity="0.12"/><rect x="578" y="362" width="1" height="23.6" fill="rgb(0,0,140)" fill-opacity="0.09"/><rect x="579" y="386.3" width="1" height="13.7" fill="url(#lo)"/><rect x="579" y="386.8" width="1" height="13.2" fill="url(#st)" fill-opacity="0.11"/><rect x="579" y="362" width="1" height="24.3" fill="rgb(0,0,140)" fill-opacity="0.13"/><rect x="580" y="385.8" width="1" height="14.2" fill="url(#lo)"/><rect x="580" y="362" width="1" height="23.8" fill="rgb(0,0,140)" fill-opacity="0.14"/></g><defs><linearGradient id="cb" x1="0" y1="0" x2="0" y2="1">
<stop offset="0" stop-color="rgb(255,0,0)"/>
<stop offset="0.1333" stop-color="rgb(255,84,0)"/>
<stop offset="0.2471" stop-color="rgb(255,185,0)"/>
<stop offset="0.3647" stop-color="rgb(255,255,0)"/>
<stop offset="0.5059" stop-color="rgb(0,255,0)"/>
<stop offset="0.7529" stop-color="rgb(0,255,255)"/>
<stop offset="0.8824" stop-color="rgb(0,0,255)"/>
<stop offset="1" stop-color="rgb(0,0,137)"/>
</linearGradient></defs><rect x="593" y="338" width="12" height="142" fill="url(#cb)"/><g fill="#000"><rect x="605" y="338" width="1" height="143"/><rect x="593" y="480" width="13" height="1"/><rect x="606" y="476" width="4" height="1"/><rect x="606" y="474" width="4" height="1"/><rect x="606" y="472" width="4" height="1"/><rect x="606" y="470" width="4" height="1"/><rect x="606" y="468" width="4" height="1"/><rect x="606" y="467" width="8" height="1"/><rect x="606" y="457" width="4" height="1"/><rect x="606" y="451" width="4" height="1"/><rect x="606" y="447" width="4" height="1"/><rect x="606" y="444" width="4" height="1"/><rect x="606" y="441" width="4" height="1"/><rect x="606" y="439" width="4" height="1"/><rect x="606" y="437" width="4" height="1"/><rect x="606" y="436" width="4" height="1"/><rect x="606" y="434" width="8" height="1"/><rect x="606" y="425" width="4" height="1"/><rect x="606" y="419" width="4" height="1"/><rect x="606" y="415" width="4" height="1"/><rect x="606" y="412" width="4" height="1"/><rect x="606" y="409" width="4" height="1"/><rect x="606" y="407" width="4" height="1"/><rect x="606" y="405" width="4" height="1"/><rect x="606" y="404" width="4" height="1"/><rect x="606" y="402" width="8" height="1"/><rect x="606" y="392" width="4" height="1"/><rect x="606" y="387" width="4" height="1"/><rect x="606" y="383" width="4" height="1"/><rect x="606" y="380" width="4" height="1"/><rect x="606" y="377" width="4" height="1"/><rect x="606" y="375" width="4" height="1"/><rect x="606" y="373" width="4" height="1"/><rect x="606" y="371" width="4" height="1"/><rect x="606" y="370" width="8" height="1"/><rect x="606" y="360" width="4" height="1"/><rect x="606" y="354" width="4" height="1"/><rect x="606" y="350" width="4" height="1"/><rect x="606" y="347" width="4" height="1"/><rect x="606" y="345" width="4" height="1"/><rect x="606" y="343" width="4" height="1"/><rect x="606" y="341" width="4" height="1"/><rect x="606" y="339" width="4" height="1"/><rect x="606" y="338" width="8" height="1"/></g><path d="M121.12,159.8 L121.38,128.8 L121.62,134.0 L121.88,139.2 L122.12,128.8 L122.38,128.8 L122.62,128.8 L122.88,144.3 L123.12,154.7 L123.38,144.3 L123.62,128.8 L123.88,154.7 L124.12,128.8 L124.38,128.8 L124.62,123.7 L124.88,128.8 L125.12,92.7 L125.38,113.3 L125.62,128.8 L125.88,123.7 L126.12,103.0 L126.38,134.0 L126.62,128.8 L126.88,128.8 L127.12,97.8 L127.38,103.0 L127.62,134.0 L127.88,97.8 L128.12,103.0 L128.38,103.0 L128.62,113.3 L128.88,113.3 L129.12,144.3 L129.38,128.8 L129.62,123.7 L129.88,103.0 L130.12,144.3 L130.38,144.3 L130.62,128.8 L130.88,128.8 L131.12,128.8 L131.38,139.2 L131.62,154.7 L131.88,144.3 L132.12,113.3 L132.38,149.5 L132.62,118.5 L132.88,154.7 L133.12,123.7 L133.38,113.3 L133.62,149.5 L133.88,149.5 L134.12,149.5 L134.38,113.3 L134.62,139.2 L134.88,144.3 L135.12,118.5 L135.38,134.0 L135.62,134.0 L135.88,118.5 L136.12,149.5 L136.38,97.8 L136.62,103.0 L136.88,149.5 L137.12,134.0 L137.38,108.2 L137.62,134.0 L137.88,149.5 L138.12,139.2 L138.38,149.5 L138.62,149.5 L138.88,149.5 L139.12,149.5 L139.38,139.2 L139.62,134.0 L139.88,149.5 L140.12,139.2 L140.38,154.7 L140.62,154.7 L140.88,154.7 L141.12,159.8 L141.38,154.7 L141.62,165.0 L141.88,165.0 L142.12,154.7 L142.38,154.7 L142.62,165.0 L142.88,165.0 L143.12,165.0 L143.38,165.0 L143.62,154.7 L143.88,165.0 L144.12,159.8 L144.38,154.7 L144.62,165.0 L144.88,159.8 L145.12,159.8 L145.38,159.8 L145.62,154.7 L145.88,154.7 L146.12,165.0 L146.38,165.0 L146.62,154.7 L146.88,165.0 L147.12,159.8 L147.38,149.5 L147.62,159.8 L147.88,149.5 L148.12,154.7 L148.38,149.5 L148.62,159.8 L148.88,159.8 L149.12,154.7 L149.38,165.0 L149.62,165.0 L149.88,165.0 L150.12,154.7 L150.38,165.0 L150.62,159.8 L150.88,165.0 L151.12,154.7 L151.38,154.7 L151.62,154.7 L151.88,154.7 L152.12,134.0 L152.38,134.0 L152.62,134.0 L152.88,165.0 L153.12,144.3 L153.38,154.7 L153.62,154.7 L153.88,154.7 L154.12,154.7 L154.38,165.0 L154.62,134.0 L154.88,128.8 L155.12,154.7 L155.38,159.8 L155.62,139.2 L155.88,159.8 L156.12,159.8 L156.38,165.0 L156.62,165.0 L156.88,149.5 L157.12,159.8 L157.38,159.8 L157.62,165.0 L157.88,165.0 L158.12,165.0 L158.38,165.0 L158.62,159.8 L158.88,154.7 L159.12,165.0 L159.38,165.0 L159.62,165.0 L159.88,159.8 L160.12,159.8 L160.38,165.0 L160.62,118.5 L160.88,149.5 L161.12,139.2 L161.38,149.5 L161.62,149.5 L161.88,144.3 L162.12,144.3 L162.38,144.3 L162.62,139.2 L162.88,165.0 L163.12,139.2 L163.38,165.0 L163.62,165.0 L163.88,149.5 L164.12,165.0 L164.38,159.8 L164.62,159.8 L164.88,154.7 L165.12,149.5 L165.38,118.5 L165.62,103.0 L165.88,149.5 L166.12,144.3 L166.38,149.5 L166.62,118.5 L166.88,139.2 L167.12,118.5 L167.38,123.7 L167.62,123.7 L167.88,123.7 L168.12,118.5 L168.38,108.2 L168.62,118.5 L168.88,118.5 L169.12,128.8 L169.38,134.0 L169.62,108.2 L169.88,134.0 L170.12,97.8 L170.38,123.7 L170.62,113.3 L170.88,123.7 L171.12,123.7 L171.38,139.2 L171.62,97.8 L171.88,149.5 L172.12,149.5 L172.38,149.5 L172.62,113.3 L172.88,108.2 L173.12,108.2 L173.38,123.7 L173.62,123.7 L173.88,149.5 L174.12,144.3 L174.38,144.3 L174.62,144.3 L174.88,128.8 L175.12,144.3 L175.38,144.3 L175.62,144.3 L175.88,123.7 L176.12,123.7 L176.38,149.5 L176.62,149.5 L176.88,139.2 L177.12,139.2 L177.38,123.7 L177.62,123.7 L177.88,165.0 L178.12,149.5 L178.38,154.7 L178.62,159.8 L178.88,165.0 L179.12,165.0 L179.38,149.5 L179.62,165.0 L179.88,154.7 L180.12,118.5 L180.38,159.8 L180.62,165.0 L180.88,87.5 L181.12,87.5 L181.38,144.3 L181.62,144.3 L181.88,128.8 L182.12,123.7 L182.38,118.5 L182.62,92.7 L182.88,134.0 L183.12,87.5 L183.38,108.2 L183.62,108.2 L183.88,108.2 L184.12,108.2 L184.38,108.2 L184.62,87.5 L184.88,87.5 L185.12,134.0 L185.38,108.2 L185.62,134.0 L185.88,123.7 L186.12,134.0 L186.38,134.0 L186.62,134.0 L186.88,134.0 L187.12,139.2 L187.38,123.7 L187.62,128.8 L187.88,128.8 L188.12,139.2 L188.38,139.2 L188.62,139.2 L188.88,134.0 L189.12,165.0 L189.38,139.2 L189.62,159.8 L189.88,159.8 L190.12,159.8 L190.38,159.8 L190.62,159.8 L190.88,165.0 L191.12,128.8 L191.38,165.0 L191.62,103.0 L191.88,159.8 L192.12,103.0 L192.38,118.5 L192.62,128.8 L192.88,113.3 L193.12,113.3 L193.38,123.7 L193.62,118.5 L193.88,128.8 L194.12,108.2 L194.38,128.8 L194.62,128.8 L194.88,123.7 L195.12,134.0 L195.38,108.2 L195.62,108.2 L195.88,134.0 L196.12,134.0 L196.38,118.5 L196.62,134.0 L196.88,134.0 L197.12,128.8 L197.38,149.5 L197.62,149.5 L197.88,139.2 L198.12,139.2 L198.38,139.2 L198.62,128.8 L198.88,149.5 L199.12,154.7 L199.38,154.7 L199.62,159.8 L199.88,128.8 L200.12,144.3 L200.38,144.3 L200.62,154.7 L200.88,159.8 L201.12,159.8 L201.38,144.3 L201.62,149.5 L201.88,159.8 L202.12,159.8 L202.38,154.7 L202.62,165.0 L202.88,154.7 L203.12,159.8 L203.38,165.0 L203.62,154.7 L203.88,154.7 L204.12,165.0 L204.38,154.7 L204.62,154.7 L204.88,154.7 L205.12,154.7 L205.38,159.8 L205.62,165.0 L205.88,165.0 L206.12,154.7 L206.38,165.0 L206.62,165.0 L206.88,165.0 L207.12,149.5 L207.38,165.0 L207.62,154.7 L207.88,154.7 L208.12,159.8 L208.38,165.0 L208.62,159.8 L208.88,159.8 L209.12,159.8 L209.38,165.0 L209.62,165.0 L209.88,159.8 L210.12,159.8 L210.38,159.8 L210.62,165.0 L210.88,159.8 L211.12,165.0 L211.38,165.0 L211.62,154.7 L211.88,149.5 L212.12,154.7 L212.38,149.5 L212.62,149.5 L212.88,149.5 L213.12,149.5 L213.38,159.8 L213.62,139.2 L213.88,128.8 L214.12,159.8 L214.38,139.2 L214.62,128.8 L214.88,128.8 L215.12,154.7 L215.38,139.2 L215.62,139.2 L215.88,149.5 L216.12,149.5 L216.38,149.5 L216.62,154.7 L216.88,149.5 L217.12,134.0 L217.38,134.0 L217.62,154.7 L217.88,134.0 L218.12,154.7 L218.38,159.8 L218.62,159.8 L218.88,159.8 L219.12,159.8 L219.38,165.0 L219.62,165.0 L219.88,165.0 L220.12,165.0 L220.38,149.5 L220.62,165.0 L220.88,144.3 L221.12,144.3 L221.38,165.0 L221.62,144.3 L221.88,144.3 L222.12,149.5 L222.38,149.5 L222.62,165.0 L222.88,159.8 L223.12,159.8 L223.38,159.8 L223.62,159.8 L223.88,159.8 L224.12,128.8 L224.38,139.2 L224.62,139.2 L224.88,139.2 L225.12,123.7 L225.38,113.3 L225.62,108.2 L225.88,108.2 L226.12,113.3 L226.38,123.7 L226.62,123.7 L226.88,103.0 L227.12,113.3 L227.38,108.2 L227.62,123.7 L227.88,113.3 L228.12,103.0 L228.38,103.0 L228.62,108.2 L228.88,139.2 L229.12,134.0 L229.38,123.7 L229.62,139.2 L229.88,134.0 L230.12,123.7 L230.38,139.2 L230.62,118.5 L230.88,118.5 L231.12,118.5 L231.38,139.2 L231.62,139.2 L231.88,139.2 L232.12,134.0 L232.38,159.8 L232.62,134.0 L232.88,139.2 L233.12,159.8 L233.38,128.8 L233.62,134.0 L233.88,149.5 L234.12,139.2 L234.38,118.5 L234.62,123.7 L234.88,123.7 L235.12,113.3 L235.38,149.5 L235.62,118.5 L235.88,118.5 L236.12,123.7 L236.38,123.7 L236.62,154.7 L236.88,154.7 L237.12,128.8 L237.38,159.8 L237.62,134.0 L237.88,123.7 L238.12,134.0 L238.38,123.7 L238.62,159.8 L238.88,123.7 L239.12,92.7 L239.38,159.8 L239.62,159.8 L239.88,149.5 L240.12,103.0 L240.38,144.3 L240.62,92.7 L240.88,144.3 L241.12,123.7 L241.38,149.5 L241.62,97.8 L241.88,97.8 L242.12,113.3 L242.38,108.2 L242.62,123.7 L242.88,108.2 L243.12,134.0 L243.38,134.0 L243.62,134.0 L243.88,108.2 L244.12,149.5 L244.38,139.2 L244.62,139.2 L244.88,149.5 L245.12,149.5 L245.38,149.5 L245.62,149.5 L245.88,118.5 L246.12,118.5 L246.38,139.2 L246.62,123.7 L246.88,118.5 L247.12,134.0 L247.38,144.3 L247.62,139.2 L247.88,118.5 L248.12,134.0 L248.38,97.8 L248.62,134.0 L248.88,123.7 L249.12,92.7 L249.38,97.8 L249.62,139.2 L249.88,154.7 L250.12,123.7 L250.38,154.7 L250.62,123.7 L250.88,123.7 L251.12,123.7 L251.38,139.2 L251.62,154.7 L251.88,149.5 L252.12,134.0 L252.38,134.0 L252.62,144.3 L252.88,144.3 L253.12,144.3 L253.38,123.7 L253.62,154.7 L253.88,123.7 L254.12,154.7 L254.38,128.8 L254.62,134.0 L254.88,123.7 L255.12,139.2 L255.38,139.2 L255.62,139.2 L255.88,154.7 L256.12,159.8 L256.38,159.8 L256.62,159.8 L256.88,154.7 L257.12,165.0 L257.38,149.5 L257.62,149.5 L257.88,144.3 L258.12,159.8 L258.38,159.8 L258.62,149.5 L258.88,159.8 L259.12,149.5 L259.38,159.8 L259.62,159.8 L259.88,159.8 L260.12,159.8 L260.38,165.0 L260.62,159.8 L260.88,154.7 L261.12,128.8 L261.38,159.8 L261.62,134.0 L261.88,154.7 L262.12,154.7 L262.38,128.8 L262.62,159.8 L262.88,128.8 L263.12,154.7 L263.38,165.0 L263.62,165.0 L263.88,154.7 L264.12,154.7 L264.38,154.7 L264.62,165.0 L264.88,165.0 L265.12,165.0 L265.38,154.7 L265.62,165.0 L265.88,165.0 L266.12,165.0 L266.38,159.8 L266.62,159.8 L266.88,154.7 L267.12,165.0 L267.38,165.0 L267.62,165.0 L267.88,159.8 L268.12,144.3 L268.38,159.8 L268.62,159.8 L268.88,165.0 L269.12,144.3 L269.38,154.7 L269.62,154.7 L269.88,144.3 L270.12,149.5 L270.38,154.7 L270.62,154.7 L270.88,165.0 L271.12,134.0 L271.38,149.5 L271.62,165.0 L271.88,149.5 L272.12,149.5 L272.38,165.0 L272.62,159.8 L272.88,159.8 L273.12,139.2 L273.38,165.0 L273.62,165.0 L273.88,159.8 L274.12,159.8 L274.38,159.8 L274.62,159.8 L274.88,144.3 L275.12,154.7 L275.38,154.7 L275.62,165.0 L275.88,154.7 L276.12,159.8 L276.38,154.7 L276.62,165.0 L276.88,165.0 L277.12,149.5 L277.38,154.7 L277.62,149.5 L277.88,165.0 L278.12,139.2 L278.38,144.3 L278.62,154.7 L278.88,144.3 L279.12,128.8 L279.38,128.8 L279.62,128.8 L279.88,144.3 L280.12,139.2 L280.38,139.2 L280.62,144.3 L280.88,118.5 L281.12,118.5 L281.38,123.7 L281.62,144.3 L281.88,144.3 L282.12,144.3 L282.38,154.7 L282.62,118.5 L282.88,118.5 L283.12,154.7 L283.38,123.7 L283.62,149.5 L283.88,149.5 L284.12,134.0 L284.38,128.8 L284.62,128.8 L284.88,128.8 L285.12,128.8 L285.38,128.8 L285.62,128.8 L285.88,154.7 L286.12,113.3 L286.38,113.3 L286.62,134.0 L286.88,123.7 L287.12,144.3 L287.38,113.3 L287.62,113.3 L287.88,123.7 L288.12,154.7 L288.38,159.8 L288.62,128.8 L288.88,113.3 L289.12,159.8 L289.38,134.0 L289.62,139.2 L289.88,139.2 L290.12,139.2 L290.38,134.0 L290.62,159.8 L290.88,149.5 L291.12,149.5 L291.38,159.8 L291.62,134.0 L291.88,165.0 L292.12,159.8 L292.38,149.5 L292.62,165.0 L292.88,159.8 L293.12,154.7 L293.38,154.7 L293.62,154.7 L293.88,154.7 L294.12,92.7 L294.38,113.3 L294.62,144.3 L294.88,165.0 L295.12,113.3 L295.38,108.2 L295.62,108.2 L295.88,82.3 L296.12,118.5 L296.38,113.3 L296.62,113.3 L296.88,103.0 L297.12,103.0 L297.38,103.0 L297.62,118.5 L297.88,118.5 L298.12,154.7 L298.38,118.5 L298.62,103.0 L298.88,128.8 L299.12,128.8 L299.38,154.7 L299.62,128.8 L299.88,139.2 L300.12,139.2 L300.38,113.3 L300.62,128.8 L300.88,103.0 L301.12,128.8 L301.38,128.8 L301.62,128.8 L301.88,108.2 L302.12,108.2 L302.38,118.5 L302.62,108.2 L302.88,134.0 L303.12,134.0 L303.38,134.0 L303.62,113.3 L303.88,108.2 L304.12,108.2 L304.38,103.0 L304.62,123.7 L304.88,103.0 L305.12,103.0 L305.38,103.0 L305.62,123.7 L305.88,128.8 L306.12,113.3 L306.38,113.3 L306.62,113.3 L306.88,113.3 L307.12,113.3 L307.38,113.3 L307.62,113.3 L307.88,128.8 L308.12,139.2 L308.38,128.8 L308.62,139.2 L308.88,149.5 L309.12,144.3 L309.38,144.3 L309.62,134.0 L309.88,128.8 L310.12,128.8 L310.38,149.5 L310.62,149.5 L310.88,128.8 L311.12,159.8 L311.38,149.5 L311.62,139.2 L311.88,154.7 L312.12,154.7 L312.38,154.7 L312.62,128.8 L312.88,154.7 L313.12,154.7 L313.38,128.8 L313.62,154.7 L313.88,159.8 L314.12,165.0 L314.38,165.0 L314.62,134.0 L314.88,165.0 L315.12,165.0 L315.38,134.0 L315.62,144.3 L315.88,165.0 L316.12,144.3 L316.38,144.3 L316.62,134.0 L316.88,144.3 L317.12,123.7 L317.38,165.0 L317.62,128.8 L317.88,165.0 L318.12,123.7 L318.38,118.5 L318.62,128.8 L318.88,118.5 L319.12,165.0 L319.38,154.7 L319.62,159.8 L319.88,159.8 L320.12,159.8 L320.38,159.8 L320.62,149.5 L320.88,149.5 L321.12,165.0 L321.38,149.5 L321.62,149.5 L321.88,154.7 L322.12,159.8 L322.38,165.0 L322.62,149.5 L322.88,165.0 L323.12,159.8 L323.38,159.8 L323.62,159.8 L323.88,165.0 L324.12,159.8 L324.38,159.8 L324.62,159.8 L324.88,159.8 L325.12,165.0 L325.38,154.7 L325.62,154.7 L325.88,165.0 L326.12,134.0 L326.38,139.2 L326.62,134.0 L326.88,149.5 L327.12,149.5 L327.38,144.3 L327.62,144.3 L327.88,165.0 L328.12,165.0 L328.38,165.0 L328.62,159.8 L328.88,149.5 L329.12,165.0 L329.38,165.0 L329.62,144.3 L329.88,144.3 L330.12,144.3 L330.38,144.3 L330.62,165.0 L330.88,154.7 L331.12,159.8 L331.38,149.5 L331.62,159.8 L331.88,165.0 L332.12,165.0 L332.38,165.0 L332.62,165.0 L332.88,159.8 L333.12,159.8 L333.38,159.8 L333.62,154.7 L333.88,154.7 L334.12,139.2 L334.38,165.0 L334.62,144.3 L334.88,134.0 L335.12,134.0 L335.38,149.5 L335.62,139.2 L335.88,144.3 L336.12,149.5 L336.38,144.3 L336.62,134.0 L336.88,149.5 L337.12,149.5 L337.38,97.8 L337.62,123.7 L337.88,103.0 L338.12,118.5 L338.38,123.7 L338.62,123.7 L338.88,123.7 L339.12,97.8 L339.38,123.7 L339.62,118.5 L339.88,108.2 L340.12,97.8 L340.38,97.8 L340.62,97.8 L340.88,123.7 L341.12,113.3 L341.38,118.5 L341.62,118.5 L341.88,118.5 L342.12,123.7 L342.38,134.0 L342.62,108.2 L342.88,134.0 L343.12,134.0 L343.38,128.8 L343.62,139.2 L343.88,154.7 L344.12,154.7 L344.38,123.7 L344.62,123.7 L344.88,123.7 L345.12,165.0 L345.38,165.0 L345.62,154.7 L345.88,154.7 L346.12,134.0 L346.38,144.3 L346.62,139.2 L346.88,139.2 L347.12,139.2 L347.38,139.2 L347.62,144.3 L347.88,165.0 L348.12,165.0 L348.38,159.8 L348.62,134.0 L348.88,139.2 L349.12,159.8 L349.38,149.5 L349.62,154.7 L349.88,149.5 L350.12,149.5 L350.38,154.7 L350.62,149.5 L350.88,149.5 L351.12,144.3 L351.38,144.3 L351.62,154.7 L351.88,108.2 L352.12,103.0 L352.38,103.0 L352.62,128.8 L352.88,128.8 L353.12,108.2 L353.38,118.5 L353.62,118.5 L353.88,118.5 L354.12,113.3 L354.38,103.0 L354.62,113.3 L354.88,108.2 L355.12,103.0 L355.38,123.7 L355.62,128.8 L355.88,128.8 L356.12,134.0 L356.38,134.0 L356.62,103.0 L356.88,113.3 L357.12,123.7 L357.38,134.0 L357.62,123.7 L357.88,123.7 L358.12,103.0 L358.38,128.8 L358.62,134.0 L358.88,118.5 L359.12,118.5 L359.38,113.3 L359.62,123.7 L359.88,103.0 L360.12,113.3 L360.38,103.0 L360.62,113.3 L360.88,144.3 L361.12,128.8 L361.38,144.3 L361.62,139.2 L361.88,144.3 L362.12,144.3 L362.38,123.7 L362.62,123.7 L362.88,113.3 L363.12,113.3 L363.38,113.3 L363.62,118.5 L363.88,113.3 L364.12,128.8 L364.38,134.0 L364.62,144.3 L364.88,144.3 L365.12,128.8 L365.38,128.8 L365.62,149.5 L365.88,128.8 L366.12,165.0 L366.38,165.0 L366.62,134.0 L366.88,128.8 L367.12,154.7 L367.38,159.8 L367.62,144.3 L367.88,154.7 L368.12,159.8 L368.38,159.8 L368.62,144.3 L368.88,165.0 L369.12,144.3 L369.38,165.0 L369.62,159.8 L369.88,154.7 L370.12,159.8 L370.38,165.0 L370.62,165.0 L370.88,154.7 L371.12,154.7 L371.38,154.7 L371.62,165.0 L371.88,159.8 L372.12,154.7 L372.38,154.7 L372.62,154.7 L372.88,159.8 L373.12,149.5 L373.38,149.5 L373.62,149.5 L373.88,165.0 L374.12,118.5 L374.38,165.0 L374.62,165.0 L374.88,118.5 L375.12,118.5 L375.38,118.5 L375.62,144.3 L375.88,144.3 L376.12,154.7 L376.38,165.0 L376.62,165.0 L376.88,165.0 L377.12,165.0 L377.38,159.8 L377.62,139.2 L377.88,154.7 L378.12,139.2 L378.38,149.5 L378.62,139.2 L378.88,139.2 L379.12,139.2 L379.38,139.2 L379.62,139.2 L379.88,159.8 L380.12,159.8 L380.38,149.5 L380.62,154.7 L380.88,154.7 L381.12,159.8 L381.38,154.7 L381.62,123.7 L381.88,128.8 L382.12,149.5 L382.38,149.5 L382.62,123.7 L382.88,144.3 L383.12,154.7 L383.38,123.7 L383.62,149.5 L383.88,123.7 L384.12,149.5 L384.38,149.5 L384.62,159.8 L384.88,154.7 L385.12,154.7 L385.38,159.8 L385.62,149.5 L385.88,149.5 L386.12,149.5 L386.38,149.5 L386.62,165.0 L386.88,149.5 L387.12,165.0 L387.38,154.7 L387.62,154.7 L387.88,159.8 L388.12,154.7 L388.38,154.7 L388.62,154.7 L388.88,154.7 L389.12,165.0 L389.38,165.0 L389.62,165.0 L389.88,165.0 L390.12,159.8 L390.38,159.8 L390.62,159.8 L390.88,154.7 L391.12,154.7 L391.38,134.0 L391.62,134.0 L391.88,154.7 L392.12,154.7 L392.38,108.2 L392.62,108.2 L392.88,113.3 L393.12,113.3 L393.38,128.8 L393.62,123.7 L393.88,108.2 L394.12,128.8 L394.38,113.3 L394.62,113.3 L394.88,108.2 L395.12,118.5 L395.38,118.5 L395.62,128.8 L395.88,103.0 L396.12,103.0 L396.38,103.0 L396.62,103.0 L396.88,139.2 L397.12,144.3 L397.38,139.2 L397.62,108.2 L397.88,144.3 L398.12,144.3 L398.38,128.8 L398.62,128.8 L398.88,123.7 L399.12,123.7 L399.38,128.8 L399.62,113.3 L399.88,128.8 L400.12,108.2 L400.38,154.7 L400.62,154.7 L400.88,134.0 L401.12,154.7 L401.38,149.5 L401.62,154.7 L401.88,139.2 L402.12,144.3 L402.38,144.3 L402.62,149.5 L402.88,149.5 L403.12,149.5 L403.38,149.5 L403.62,134.0 L403.88,154.7 L404.12,144.3 L404.38,154.7 L404.62,139.2 L404.88,154.7 L405.12,144.3 L405.38,165.0 L405.62,154.7 L405.88,154.7 L406.12,144.3 L406.38,154.7 L406.62,154.7 L406.88,159.8 L407.12,159.8 L407.38,139.2 L407.62,149.5 L407.88,103.0 L408.12,144.3 L408.38,103.0 L408.62,113.3 L408.88,113.3 L409.12,118.5 L409.38,108.2 L409.62,103.0 L409.88,144.3 L410.12,134.0 L410.38,128.8 L410.62,134.0 L410.88,118.5 L411.12,97.8 L411.38,97.8 L411.62,134.0 L411.88,128.8 L412.12,97.8 L412.38,103.0 L412.62,113.3 L412.88,103.0 L413.12,103.0 L413.38,144.3 L413.62,144.3 L413.88,134.0 L414.12,139.2 L414.38,144.3 L414.62,144.3 L414.88,128.8 L415.12,113.3 L415.38,118.5 L415.62,118.5 L415.88,118.5 L416.12,134.0 L416.38,113.3 L416.62,139.2 L416.88,134.0 L417.12,123.7 L417.38,118.5 L417.62,123.7 L417.88,118.5 L418.12,113.3 L418.38,118.5 L418.62,123.7 L418.88,123.7 L419.12,118.5 L419.38,118.5 L419.62,108.2 L419.88,113.3 L420.12,113.3 L420.38,108.2 L420.62,108.2 L420.88,108.2 L421.12,139.2 L421.38,108.2 L421.62,134.0 L421.88,134.0 L422.12,118.5 L422.38,118.5 L422.62,113.3 L422.88,134.0 L423.12,139.2 L423.38,108.2 L423.62,123.7 L423.88,123.7 L424.12,108.2 L424.38,108.2 L424.62,113.3 L424.88,113.3 L425.12,149.5 L425.38,134.0 L425.62,154.7 L425.88,154.7 L426.12,128.8 L426.38,128.8 L426.62,154.7 L426.88,149.5 L427.12,165.0 L427.38,165.0 L427.62,128.8 L427.88,128.8 L428.12,144.3 L428.38,139.2 L428.62,139.2 L428.88,159.8 L429.12,144.3 L429.38,149.5 L429.62,139.2 L429.88,139.2 L430.12,139.2 L430.38,165.0 L430.62,165.0 L430.88,139.2 L431.12,154.7 L431.38,149.5 L431.62,144.3 L431.88,139.2 L432.12,134.0 L432.38,134.0 L432.62,128.8 L432.88,134.0 L433.12,154.7 L433.38,154.7 L433.62,128.8 L433.88,154.7 L434.12,144.3 L434.38,108.2 L434.62,108.2 L434.88,108.2 L435.12,128.8 L435.38,113.3 L435.62,144.3 L435.88,123.7 L436.12,118.5 L436.38,118.5 L436.62,118.5 L436.88,149.5 L437.12,144.3 L437.38,149.5 L437.62,134.0 L437.88,144.3 L438.12,154.7 L438.38,154.7 L438.62,128.8 L438.88,154.7 L439.12,154.7 L439.38,165.0 L439.62,128.8 L439.88,165.0 L440.12,144.3 L440.38,165.0 L440.62,139.2 L440.88,154.7 L441.12,165.0 L441.38,159.8 L441.62,149.5 L441.88,128.8 L442.12,128.8 L442.38,154.7 L442.62,123.7 L442.88,144.3 L443.12,123.7 L443.38,165.0 L443.62,134.0 L443.88,134.0 L444.12,144.3 L444.38,144.3 L444.62,165.0 L444.88,165.0 L445.12,144.3 L445.38,165.0 L445.62,165.0 L445.88,165.0 L446.12,165.0 L446.38,159.8 L446.62,144.3 L446.88,149.5 L447.12,134.0 L447.38,154.7 L447.62,165.0 L447.88,134.0 L448.12,149.5 L448.38,134.0 L448.62,144.3 L448.88,139.2 L449.12,149.5 L449.38,103.0 L449.62,154.7 L449.88,113.3 L450.12,113.3 L450.38,108.2 L450.62,97.8 L450.88,134.0 L451.12,92.7 L451.38,134.0 L451.62,92.7 L451.88,134.0 L452.12,103.0 L452.38,97.8 L452.62,97.8 L452.88,92.7 L453.12,113.3 L453.38,108.2 L453.62,108.2 L453.88,108.2 L454.12,113.3 L454.38,113.3 L454.62,108.2 L454.88,113.3 L455.12,123.7 L455.38,139.2 L455.62,128.8 L455.88,123.7 L456.12,134.0 L456.38,149.5 L456.62,149.5 L456.88,139.2 L457.12,128.8 L457.38,149.5 L457.62,134.0 L457.88,139.2 L458.12,139.2 L458.38,165.0 L458.62,128.8 L458.88,149.5 L459.12,144.3 L459.38,144.3 L459.62,154.7 L459.88,144.3 L460.12,144.3 L460.38,159.8 L460.62,165.0 L460.88,165.0 L461.12,165.0 L461.38,165.0 L461.62,165.0 L461.88,159.8 L462.12,118.5 L462.38,165.0 L462.62,165.0 L462.88,118.5 L463.12,165.0 L463.38,123.7 L463.62,159.8 L463.88,159.8 L464.12,154.7 L464.38,123.7 L464.62,123.7 L464.88,113.3 L465.12,134.0 L465.38,113.3 L465.62,113.3 L465.88,113.3 L466.12,165.0 L466.38,159.8 L466.62,134.0 L466.88,113.3 L467.12,128.8 L467.38,144.3 L467.62,144.3 L467.88,128.8 L468.12,159.8 L468.38,97.8 L468.62,92.7 L468.88,123.7 L469.12,118.5 L469.38,108.2 L469.62,92.7 L469.88,97.8 L470.12,108.2 L470.38,92.7 L470.62,123.7 L470.88,92.7 L471.12,97.8 L471.38,97.8 L471.62,118.5 L471.88,97.8 L472.12,113.3 L472.38,113.3 L472.62,128.8 L472.88,123.7 L473.12,128.8 L473.38,123.7 L473.62,113.3 L473.88,113.3 L474.12,108.2 L474.38,139.2 L474.62,113.3 L474.88,123.7 L475.12,108.2 L475.38,139.2 L475.62,139.2 L475.88,139.2 L476.12,139.2 L476.38,108.2 L476.62,113.3 L476.88,108.2 L477.12,108.2 L477.38,108.2 L477.62,108.2 L477.88,139.2 L478.12,144.3 L478.38,108.2 L478.62,97.8 L478.88,97.8 L479.12,128.8 L479.38,128.8 L479.62,144.3 L479.88,139.2 L480.12,134.0 L480.38,113.3 L480.62,118.5 L480.88,113.3 L481.12,134.0 L481.38,134.0 L481.62,128.8 L481.88,128.8 L482.12,154.7 L482.38,165.0 L482.62,118.5 L482.88,128.8 L483.12,159.8 L483.38,165.0 L483.62,128.8 L483.88,159.8 L484.12,144.3 L484.38,165.0 L484.62,165.0 L484.88,154.7 L485.12,154.7 L485.38,139.2 L485.62,159.8 L485.88,159.8 L486.12,123.7 L486.38,118.5 L486.62,118.5 L486.88,134.0 L487.12,123.7 L487.38,123.7 L487.62,108.2 L487.88,123.7 L488.12,113.3 L488.38,108.2 L488.62,108.2 L488.88,108.2 L489.12,108.2 L489.38,123.7 L489.62,144.3 L489.88,118.5 L490.12,144.3 L490.38,128.8 L490.62,139.2 L490.88,139.2 L491.12,139.2 L491.38,118.5 L491.62,149.5 L491.88,128.8 L492.12,139.2 L492.38,128.8 L492.62,159.8 L492.88,134.0 L493.12,134.0 L493.38,149.5 L493.62,128.8 L493.88,128.8 L494.12,144.3 L494.38,159.8 L494.62,154.7 L494.88,159.8 L495.12,159.8 L495.38,144.3 L495.62,144.3 L495.88,144.3 L496.12,139.2 L496.38,154.7 L496.62,139.2 L496.88,159.8 L497.12,128.8 L497.38,134.0 L497.62,139.2 L497.88,139.2 L498.12,139.2 L498.38,154.7 L498.62,128.8 L498.88,139.2 L499.12,144.3 L499.38,159.8 L499.62,144.3 L499.88,154.7 L500.12,154.7 L500.38,159.8 L500.62,159.8 L500.88,159.8 L501.12,159.8 L501.38,144.3 L501.62,159.8 L501.88,154.7 L502.12,139.2 L502.38,159.8 L502.62,159.8 L502.88,159.8 L503.12,159.8 L503.38,139.2 L503.62,154.7 L503.88,154.7 L504.12,123.7 L504.38,139.2 L504.62,139.2 L504.88,139.2 L505.12,149.5 L505.38,139.2 L505.62,139.2 L505.88,139.2 L506.12,123.7 L506.38,97.8 L506.62,128.8 L506.88,128.8 L507.12,123.7 L507.38,118.5 L507.62,118.5 L507.88,113.3 L508.12,113.3 L508.38,97.8 L508.62,123.7 L508.88,123.7 L509.12,118.5 L509.38,123.7 L509.62,123.7 L509.88,103.0 L510.12,82.3 L510.38,87.5 L510.62,87.5 L510.88,97.8 L511.12,113.3 L511.38,113.3 L511.62,113.3 L511.88,113.3 L512.12,82.3 L512.38,82.3 L512.62,118.5 L512.88,123.7 L513.12,118.5 L513.38,139.2 L513.62,123.7 L513.88,123.7 L514.12,128.8 L514.38,139.2 L514.62,139.2 L514.88,123.7 L515.12,123.7 L515.38,123.7 L515.62,154.7 L515.88,118.5 L516.12,134.0 L516.38,149.5 L516.62,128.8 L516.88,154.7 L517.12,154.7 L517.38,159.8 L517.62,128.8 L517.88,154.7 L518.12,139.2 L518.38,139.2 L518.62,144.3 L518.88,144.3 L519.12,139.2 L519.38,149.5 L519.62,165.0 L519.88,144.3 L520.12,139.2 L520.38,165.0 L520.62,123.7 L520.88,113.3 L521.12,113.3 L521.38,165.0 L521.62,113.3 L521.88,113.3 L522.12,144.3 L522.38,154.7 L522.62,154.7 L522.88,149.5 L523.12,149.5 L523.38,144.3 L523.62,159.8 L523.88,159.8 L524.12,165.0 L524.38,165.0 L524.62,144.3 L524.88,144.3 L525.12,149.5 L525.38,149.5 L525.62,149.5 L525.88,144.3 L526.12,165.0 L526.38,128.8 L526.62,103.0 L526.88,165.0 L527.12,77.2 L527.38,139.2 L527.62,144.3 L527.88,97.8 L528.12,103.0 L528.38,118.5 L528.62,82.3 L528.88,118.5 L529.12,118.5 L529.38,108.2 L529.62,118.5 L529.88,118.5 L530.12,118.5 L530.38,118.5 L530.62,118.5 L530.88,108.2 L531.12,128.8 L531.38,118.5 L531.62,108.2 L531.88,108.2 L532.12,123.7 L532.38,128.8 L532.62,108.2 L532.88,123.7 L533.12,108.2 L533.38,108.2 L533.62,108.2 L533.88,103.0 L534.12,103.0 L534.38,134.0 L534.62,134.0 L534.88,134.0 L535.12,108.2 L535.38,108.2 L535.62,128.8 L535.88,108.2 L536.12,113.3 L536.38,108.2 L536.62,108.2 L536.88,108.2 L537.12,108.2 L537.38,123.7 L537.62,123.7 L537.88,108.2 L538.12,108.2 L538.38,108.2 L538.62,128.8 L538.88,108.2 L539.12,123.7 L539.38,123.7 L539.62,134.0 L539.88,134.0 L540.12,123.7 L540.38,113.3 L540.62,123.7 L540.88,123.7 L541.12,134.0 L541.38,123.7 L541.62,139.2 L541.88,103.0 L542.12,144.3 L542.38,139.2 L542.62,128.8 L542.88,128.8 L543.12,139.2 L543.38,128.8 L543.62,139.2 L543.88,134.0 L544.12,139.2 L544.38,144.3 L544.62,123.7 L544.88,154.7 L545.12,154.7 L545.38,144.3 L545.62,154.7 L545.88,128.8 L546.12,154.7 L546.38,118.5 L546.62,118.5 L546.88,118.5 L547.12,159.8 L547.38,108.2 L547.62,134.0 L547.88,134.0 L548.12,165.0 L548.38,108.2 L548.62,159.8 L548.88,159.8 L549.12,159.8 L549.38,128.8 L549.62,128.8 L549.88,139.2 L550.12,144.3 L550.38,144.3 L550.62,159.8 L550.88,139.2 L551.12,159.8 L551.38,113.3 L551.62,149.5 L551.88,144.3 L552.12,128.8 L552.38,144.3 L552.62,144.3 L552.88,134.0 L553.12,118.5 L553.38,118.5 L553.62,149.5 L553.88,113.3 L554.12,113.3 L554.38,113.3 L554.62,159.8 L554.88,113.3 L555.12,144.3 L555.38,144.3 L555.62,134.0 L555.88,134.0 L556.12,159.8 L556.38,128.8 L556.62,149.5 L556.88,159.8 L557.12,154.7 L557.38,149.5 L557.62,123.7 L557.88,134.0 L558.12,154.7 L558.38,139.2 L558.62,134.0 L558.88,128.8 L559.12,128.8 L559.38,113.3 L559.62,123.7 L559.88,154.7 L560.12,139.2 L560.38,144.3 L560.62,154.7 L560.88,144.3 L561.12,134.0 L561.38,159.8 L561.62,159.8 L561.88,159.8 L562.12,165.0 L562.38,154.7 L562.62,149.5 L562.88,165.0 L563.12,154.7 L563.38,154.7 L563.62,139.2 L563.88,154.7 L564.12,87.5 L564.38,87.5 L564.62,139.2 L564.88,92.7 L565.12,92.7 L565.38,92.7 L565.62,108.2 L565.88,97.8 L566.12,97.8 L566.38,87.5 L566.62,108.2 L566.88,113.3 L567.12,92.7 L567.38,92.7 L567.62,92.7 L567.88,92.7 L568.12,92.7 L568.38,92.7 L568.62,92.7 L568.88,118.5 L569.12,123.7 L569.38,87.5 L569.62,92.7 L569.88,97.8 L570.12,108.2 L570.38,108.2 L570.62,113.3 L570.88,113.3 L571.12,113.3 L571.38,113.3 L571.62,108.2 L571.88,144.3 L572.12,123.7 L572.38,123.7 L572.62,139.2 L572.88,139.2 L573.12,128.8 L573.38,134.0 L573.62,144.3 L573.88,144.3 L574.12,144.3 L574.38,159.8 L574.62,123.7 L574.88,128.8 L575.12,128.8 L575.38,128.8 L575.62,134.0 L575.88,134.0 L576.12,159.8 L576.38,123.7 L576.62,154.7 L576.88,154.7 L577.12,154.7 L577.38,159.8 L577.62,144.3 L577.88,154.7 L578.12,154.7 L578.38,154.7 L578.62,165.0 L578.88,149.5 L579.12,149.5 L579.38,149.5 L579.62,149.5 L579.88,159.8 L580.12,159.8 L580.38,149.5 L580.62,149.5 L580.88,154.7" fill="none" stroke="#000" stroke-width="1" shape-rendering="crispEdges"/><path d="M121.05,217.0 L121.14,211.1 L121.23,217.9 L121.32,215.5 L121.41,218.5 L121.50,217.3 L121.59,215.8 L121.68,221.8 L121.77,214.0 L121.86,215.2 L121.95,214.2 L122.05,220.2 L122.14,218.4 L122.23,218.8 L122.32,220.0 L122.41,216.3 L122.50,215.5 L122.59,217.4 L122.68,221.7 L122.77,218.7 L122.86,220.0 L122.95,218.6 L123.05,212.0 L123.14,218.4 L123.23,219.5 L123.32,217.7 L123.41,212.8 L123.50,218.7 L123.59,214.7 L123.68,217.1 L123.77,217.1 L123.86,212.4 L123.95,211.9 L124.05,219.3 L124.14,217.4 L124.23,218.8 L124.32,216.6 L124.41,211.3 L124.50,214.6 L124.59,217.7 L124.68,225.2 L124.77,222.1 L124.86,217.4 L124.95,218.6 L125.05,221.5 L125.14,220.5 L125.23,222.4 L125.32,218.6 L125.41,220.6 L125.50,216.0 L125.59,215.2 L125.68,221.6 L125.77,222.0 L125.86,222.3 L125.95,211.4 L126.05,225.2 L126.14,223.1 L126.23,223.1 L126.32,222.5 L126.41,219.0 L126.50,221.8 L126.59,221.9 L126.68,223.7 L126.77,220.6 L126.86,222.8 L126.95,223.8 L127.05,227.4 L127.14,225.6 L127.23,222.7 L127.32,223.3 L127.41,229.1 L127.50,224.1 L127.59,227.3 L127.68,224.7 L127.77,224.2 L127.86,224.0 L127.95,225.3 L128.05,235.0 L128.14,232.0 L128.23,222.1 L128.32,229.6 L128.41,231.8 L128.50,231.0 L128.59,230.7 L128.68,223.0 L128.77,222.1 L128.86,227.1 L128.95,230.9 L129.05,222.4 L129.14,232.4 L129.23,229.1 L129.32,222.5 L129.41,226.0 L129.50,221.9 L129.59,222.5 L129.68,222.4 L129.77,223.7 L129.86,222.5 L129.95,225.5 L130.05,224.2 L130.14,234.0 L130.23,223.0 L130.32,222.5 L130.41,222.4 L130.50,226.4 L130.59,233.6 L130.68,227.0 L130.77,223.7 L130.86,223.1 L130.95,228.1 L131.05,224.3 L131.14,226.8 L131.23,226.9 L131.32,224.7 L131.41,225.1 L131.50,224.6 L131.59,224.9 L131.68,225.3 L131.77,222.5 L131.86,224.7 L131.95,227.7 L132.05,225.6 L132.14,224.6 L132.23,228.6 L132.32,229.5 L132.41,229.1 L132.50,224.5 L132.59,223.8 L132.68,221.3 L132.77,228.5 L132.86,229.7 L132.95,221.0 L133.05,228.3 L133.14,224.3 L133.23,227.8 L133.32,224.8 L133.41,232.5 L133.50,221.1 L133.59,227.4 L133.68,231.0 L133.77,228.5 L133.86,228.1 L133.95,226.8 L134.05,231.5 L134.14,228.6 L134.23,231.2 L134.32,225.5 L134.41,230.9 L134.50,228.0 L134.59,229.5 L134.68,228.7 L134.77,225.4 L134.86,225.5 L134.95,231.2 L135.05,228.1 L135.14,227.6 L135.23,230.5 L135.32,225.4 L135.41,229.1 L135.50,227.4 L135.59,226.7 L135.68,226.3 L135.77,228.4 L135.86,227.5 L135.95,219.9 L136.05,229.4 L136.14,224.0 L136.23,227.6 L136.32,229.3 L136.41,224.1 L136.50,224.2 L136.59,227.5 L136.68,228.9 L136.77,228.7 L136.86,225.4 L136.95,222.9 L137.05,226.1 L137.14,230.5 L137.23,230.7 L137.32,227.2 L137.41,225.6 L137.50,238.8 L137.59,229.5 L137.68,229.7 L137.77,228.6 L137.86,225.7 L137.95,227.9 L138.05,223.7 L138.14,225.1 L138.23,231.1 L138.32,225.3 L138.41,225.9 L138.50,222.5 L138.59,226.0 L138.68,228.0 L138.77,223.6 L138.86,225.6 L138.95,225.9 L139.05,221.7 L139.14,225.3 L139.23,225.2 L139.32,222.7 L139.41,228.5 L139.50,225.3 L139.59,223.1 L139.68,224.2 L139.77,223.2 L139.86,221.9 L139.95,221.9 L140.05,222.3 L140.14,223.7 L140.23,226.0 L140.32,224.7 L140.41,223.6 L140.50,224.3 L140.59,222.4 L140.68,228.8 L140.77,226.8 L140.86,224.5 L140.95,224.9 L141.05,225.1 L141.14,223.8 L141.23,220.8 L141.32,224.1 L141.41,223.4 L141.50,221.7 L141.59,221.0 L141.68,224.0 L141.77,223.6 L141.86,225.2 L141.95,224.7 L142.05,216.5 L142.14,219.8 L142.23,221.7 L142.32,222.5 L142.41,222.9 L142.50,221.9 L142.59,222.3 L142.68,222.5 L142.77,222.0 L142.86,216.7 L142.95,221.8 L143.05,222.5 L143.14,226.5 L143.23,220.2 L143.32,222.8 L143.41,220.0 L143.50,220.9 L143.59,217.1 L143.68,220.0 L143.77,220.9 L143.86,218.2 L143.95,220.7 L144.05,219.0 L144.14,222.1 L144.23,216.1 L144.32,215.9 L144.41,222.6 L144.50,217.5 L144.59,217.1 L144.68,216.5 L144.77,220.2 L144.86,217.8 L144.95,222.9 L145.05,227.3 L145.14,220.8 L145.23,223.5 L145.32,213.9 L145.41,218.2 L145.50,221.9 L145.59,222.1 L145.68,225.2 L145.77,220.7 L145.86,220.8 L145.95,221.1 L146.05,224.6 L146.14,221.0 L146.23,221.9 L146.32,223.5 L146.41,223.9 L146.50,220.8 L146.59,220.7 L146.68,223.6 L146.77,221.2 L146.86,220.6 L146.95,221.7 L147.05,215.9 L147.14,219.3 L147.23,223.9 L147.32,219.8 L147.41,224.4 L147.50,224.7 L147.59,222.0 L147.68,223.7 L147.77,226.2 L147.86,224.9 L147.95,221.1 L148.05,220.2 L148.14,221.5 L148.23,221.8 L148.32,218.0 L148.41,221.1 L148.50,219.2 L148.59,218.2 L148.68,220.7 L148.77,212.9 L148.86,221.1 L148.95,221.6 L149.05,216.0 L149.14,211.6 L149.23,215.0 L149.32,213.4 L149.41,215.7 L149.50,216.7 L149.59,213.3 L149.68,211.0 L149.77,214.9 L149.86,212.1 L149.95,216.5 L150.05,209.1 L150.14,210.4 L150.23,209.1 L150.32,211.7 L150.41,210.9 L150.50,210.1 L150.59,214.7 L150.68,211.9 L150.77,214.6 L150.86,210.0 L150.95,211.5 L151.05,207.3 L151.14,210.0 L151.23,211.2 L151.32,207.1 L151.41,212.1 L151.50,214.0 L151.59,211.2 L151.68,211.2 L151.77,209.9 L151.86,214.2 L151.95,215.5 L152.05,210.7 L152.14,212.5 L152.23,212.9 L152.32,214.8 L152.41,212.5 L152.50,214.5 L152.59,211.1 L152.68,209.7 L152.77,212.9 L152.86,205.0 L152.95,214.4 L153.05,215.4 L153.14,213.6 L153.23,217.4 L153.32,215.7 L153.41,214.8 L153.50,216.1 L153.59,196.9 L153.68,207.5 L153.77,216.9 L153.86,213.0 L153.95,216.8 L154.05,209.7 L154.14,218.1 L154.23,216.8 L154.32,217.6 L154.41,215.4 L154.50,214.1 L154.59,216.9 L154.68,216.1 L154.77,215.1 L154.86,217.5 L154.95,218.3 L155.05,214.2 L155.14,216.4 L155.23,210.9 L155.32,213.5 L155.41,216.9 L155.50,215.6 L155.59,214.8 L155.68,217.2 L155.77,213.0 L155.86,212.9 L155.95,216.5 L156.05,216.6 L156.14,213.5 L156.23,212.0 L156.32,209.9 L156.41,215.4 L156.50,211.9 L156.59,211.9 L156.68,216.3 L156.77,216.8 L156.86,213.7 L156.95,213.9 L157.05,213.6 L157.14,211.8 L157.23,214.7 L157.32,217.1 L157.41,215.1 L157.50,212.0 L157.59,209.0 L157.68,213.1 L157.77,213.1 L157.86,212.5 L157.95,211.8 L158.05,208.4 L158.14,215.9 L158.23,216.3 L158.32,210.8 L158.41,212.0 L158.50,218.6 L158.59,215.2 L158.68,211.3 L158.77,210.4 L158.86,211.7 L158.95,214.3 L159.05,211.5 L159.14,217.2 L159.23,216.1 L159.32,207.9 L159.41,209.1 L159.50,215.7 L159.59,214.8 L159.68,215.5 L159.77,213.6 L159.86,210.2 L159.95,211.7 L160.05,212.1 L160.14,216.1 L160.23,215.4 L160.32,211.6 L160.41,211.5 L160.50,213.0 L160.59,212.0 L160.68,211.6 L160.77,212.7 L160.86,213.2 L160.95,216.2 L161.05,210.6 L161.14,215.7 L161.23,210.6 L161.32,212.7 L161.41,212.6 L161.50,213.8 L161.59,213.0 L161.68,214.8 L161.77,212.1 L161.86,212.8 L161.95,214.4 L162.05,211.7 L162.14,213.8 L162.23,211.0 L162.32,217.8 L162.41,214.5 L162.50,215.0 L162.59,212.9 L162.68,211.2 L162.77,212.6 L162.86,215.3 L162.95,211.6 L163.05,210.4 L163.14,210.3 L163.23,211.1 L163.32,212.2 L163.41,212.4 L163.50,213.5 L163.59,210.7 L163.68,218.0 L163.77,214.0 L163.86,214.5 L163.95,214.8 L164.05,213.8 L164.14,210.9 L164.23,213.8 L164.32,209.8 L164.41,215.6 L164.50,211.0 L164.59,210.6 L164.68,215.0 L164.77,212.1 L164.86,212.5 L164.95,210.9 L165.05,215.4 L165.14,214.9 L165.23,217.4 L165.32,216.4 L165.41,214.4 L165.50,217.4 L165.59,193.2 L165.68,212.5 L165.77,214.5 L165.86,214.8 L165.95,213.4 L166.05,219.8 L166.14,213.9 L166.23,216.3 L166.32,215.3 L166.41,218.6 L166.50,214.3 L166.59,216.7 L166.68,215.3 L166.77,215.0 L166.86,229.6 L166.95,219.0 L167.05,216.7 L167.14,215.0 L167.23,213.0 L167.32,221.1 L167.41,216.1 L167.50,221.7 L167.59,221.8 L167.68,215.7 L167.77,216.9 L167.86,218.7 L167.95,218.3 L168.05,222.5 L168.14,219.2 L168.23,222.1 L168.32,215.8 L168.41,219.8 L168.50,222.7 L168.59,219.7 L168.68,222.2 L168.77,225.8 L168.86,218.2 L168.95,217.5 L169.05,220.1 L169.14,225.1 L169.23,221.9 L169.32,225.1 L169.41,220.5 L169.50,222.5 L169.59,218.7 L169.68,218.3 L169.77,218.3 L169.86,222.1 L169.95,219.7 L170.05,220.7 L170.14,219.7 L170.23,219.9 L170.32,223.5 L170.41,224.1 L170.50,223.4 L170.59,220.7 L170.68,221.2 L170.77,224.7 L170.86,219.5 L170.95,221.2 L171.05,220.3 L171.14,226.4 L171.23,225.8 L171.32,222.7 L171.41,223.7 L171.50,222.7 L171.59,234.7 L171.68,227.9 L171.77,221.4 L171.86,223.2 L171.95,225.4 L172.05,222.3 L172.14,220.8 L172.23,219.7 L172.32,218.6 L172.41,220.2 L172.50,220.6 L172.59,223.6 L172.68,218.1 L172.77,223.4 L172.86,222.0 L172.95,222.3 L173.05,226.1 L173.14,219.1 L173.23,220.9 L173.32,219.5 L173.41,221.2 L173.50,221.5 L173.59,220.8 L173.68,221.6 L173.77,221.0 L173.86,221.4 L173.95,220.8 L174.05,217.3 L174.14,220.2 L174.23,221.9 L174.32,224.6 L174.41,224.1 L174.50,222.3 L174.59,223.5 L174.68,221.5 L174.77,220.6 L174.86,224.3 L174.95,221.9 L175.05,221.5 L175.14,217.1 L175.23,217.7 L175.32,219.2 L175.41,223.0 L175.50,219.4 L175.59,220.6 L175.68,220.5 L175.77,219.8 L175.86,219.6 L175.95,219.4 L176.05,221.2 L176.14,221.3 L176.23,224.6 L176.32,217.4 L176.41,224.7 L176.50,219.7 L176.59,224.6 L176.68,220.7 L176.77,221.2 L176.86,218.5 L176.95,220.1 L177.05,221.2 L177.14,223.5 L177.23,219.0 L177.32,218.9 L177.41,219.4 L177.50,221.0 L177.59,223.8 L177.68,221.9 L177.77,219.2 L177.86,219.0 L177.95,221.5 L178.05,218.2 L178.14,218.4 L178.23,216.4 L178.32,219.3 L178.41,221.0 L178.50,220.8 L178.59,219.7 L178.68,216.0 L178.77,220.9 L178.86,219.0 L178.95,217.0 L179.05,216.9 L179.14,221.4 L179.23,218.0 L179.32,222.0 L179.41,216.1 L179.50,218.1 L179.59,222.3 L179.68,216.6 L179.77,217.6 L179.86,222.1 L179.95,221.8 L180.05,219.4 L180.14,218.5 L180.23,217.9 L180.32,221.7 L180.41,224.0 L180.50,217.9 L180.59,217.5 L180.68,219.9 L180.77,218.9 L180.86,202.0 L180.95,219.6 L181.05,219.8 L181.14,217.5 L181.23,220.8 L181.32,223.7 L181.41,219.1 L181.50,230.4 L181.59,218.2 L181.68,217.6 L181.77,222.5 L181.86,220.1 L181.95,221.8 L182.05,226.1 L182.14,222.1 L182.23,226.1 L182.32,226.6 L182.41,224.8 L182.50,236.1 L182.59,226.3 L182.68,226.0 L182.77,222.3 L182.86,221.4 L182.95,222.2 L183.05,229.4 L183.14,232.5 L183.23,237.7 L183.32,230.4 L183.41,227.5 L183.50,224.1 L183.59,228.4 L183.68,231.4 L183.77,231.7 L183.86,226.1 L183.95,224.9 L184.05,231.6 L184.14,235.5 L184.23,230.6 L184.32,236.3 L184.41,230.5 L184.50,245.6 L184.59,237.2 L184.68,235.1 L184.77,232.3 L184.86,228.9 L184.95,234.7 L185.05,229.7 L185.14,232.2 L185.23,233.2 L185.32,227.3 L185.41,231.7 L185.50,228.1 L185.59,228.2 L185.68,228.9 L185.77,229.4 L185.86,233.3 L185.95,224.6 L186.05,228.4 L186.14,229.8 L186.23,230.2 L186.32,229.2 L186.41,229.1 L186.50,220.1 L186.59,229.4 L186.68,224.9 L186.77,228.9 L186.86,230.4 L186.95,231.0 L187.05,227.8 L187.14,225.3 L187.23,226.5 L187.32,225.0 L187.41,227.2 L187.50,227.5 L187.59,223.9 L187.68,226.9 L187.77,230.2 L187.86,224.4 L187.95,222.7 L188.05,221.3 L188.14,222.7 L188.23,223.0 L188.32,224.1 L188.41,218.9 L188.50,222.6 L188.59,224.8 L188.68,226.9 L188.77,223.1 L188.86,225.8 L188.95,223.9 L189.05,231.3 L189.14,220.0 L189.23,219.6 L189.32,222.8 L189.41,219.9 L189.50,227.1 L189.59,220.8 L189.68,222.1 L189.77,219.5 L189.86,224.2 L189.95,221.2 L190.05,222.8 L190.14,223.5 L190.23,222.4 L190.32,222.6 L190.41,228.0 L190.50,227.0 L190.59,227.5 L190.68,228.1 L190.77,223.9 L190.86,223.7 L190.95,221.1 L191.05,225.7 L191.14,227.0 L191.23,227.4 L191.32,225.6 L191.41,226.8 L191.50,234.2 L191.59,226.6 L191.68,221.1 L191.77,227.3 L191.86,221.3 L191.95,224.3 L192.05,227.1 L192.14,229.8 L192.23,226.5 L192.32,227.2 L192.41,231.7 L192.50,224.8 L192.59,223.0 L192.68,223.3 L192.77,228.1 L192.86,224.0 L192.95,227.4 L193.05,224.8 L193.14,230.6 L193.23,229.8 L193.32,226.6 L193.41,226.3 L193.50,225.6 L193.59,227.7 L193.68,226.8 L193.77,228.4 L193.86,228.8 L193.95,223.9 L194.05,227.3 L194.14,239.3 L194.23,219.6 L194.32,223.4 L194.41,224.8 L194.50,224.6 L194.59,228.1 L194.68,229.4 L194.77,228.9 L194.86,224.7 L194.95,226.0 L195.05,226.0 L195.14,226.7 L195.23,223.3 L195.32,222.8 L195.41,225.7 L195.50,223.5 L195.59,224.4 L195.68,226.9 L195.77,223.9 L195.86,226.8 L195.95,223.2 L196.05,223.8 L196.14,223.5 L196.23,228.0 L196.32,223.7 L196.41,227.9 L196.50,225.0 L196.59,223.8 L196.68,227.4 L196.77,236.5 L196.86,226.3 L196.95,225.5 L197.05,226.8 L197.14,225.8 L197.23,224.1 L197.32,227.1 L197.41,227.6 L197.50,226.9 L197.59,227.5 L197.68,226.3 L197.77,226.9 L197.86,227.2 L197.95,223.3 L198.05,226.6 L198.14,224.1 L198.23,222.5 L198.32,223.6 L198.41,222.6 L198.50,224.7 L198.59,226.4 L198.68,224.1 L198.77,223.1 L198.86,223.0 L198.95,225.0 L199.05,224.7 L199.14,224.0 L199.23,221.9 L199.32,223.3 L199.41,223.7 L199.50,224.2 L199.59,221.7 L199.68,223.5 L199.77,221.1 L199.86,224.9 L199.95,223.8 L200.05,220.9 L200.14,220.8 L200.23,219.7 L200.32,221.1 L200.41,224.2 L200.50,219.5 L200.59,218.8 L200.68,222.1 L200.77,222.2 L200.86,218.9 L200.95,220.6 L201.05,219.5 L201.14,215.4 L201.23,216.7 L201.32,218.5 L201.41,220.9 L201.50,216.5 L201.59,218.4 L201.68,218.8 L201.77,220.8 L201.86,219.8 L201.95,219.4 L202.05,220.8 L202.14,217.1 L202.23,217.2 L202.32,218.4 L202.41,217.0 L202.50,220.7 L202.59,221.6 L202.68,217.0 L202.77,218.7 L202.86,219.5 L202.95,223.2 L203.05,218.9 L203.14,220.3 L203.23,217.6 L203.32,220.7 L203.41,218.5 L203.50,219.5 L203.59,221.0 L203.68,219.2 L203.77,218.2 L203.86,220.6 L203.95,220.8 L204.05,215.6 L204.14,217.2 L204.23,216.0 L204.32,219.2 L204.41,217.7 L204.50,217.6 L204.59,217.0 L204.68,219.0 L204.77,217.8 L204.86,219.4 L204.95,215.9 L205.05,215.4 L205.14,215.6 L205.23,220.2 L205.32,212.8 L205.41,214.8 L205.50,222.0 L205.59,216.8 L205.68,216.6 L205.77,217.9 L205.86,215.3 L205.95,218.7 L206.05,214.4 L206.14,217.7 L206.23,219.4 L206.32,216.1 L206.41,216.3 L206.50,211.3 L206.59,214.8 L206.68,215.0 L206.77,214.1 L206.86,213.8 L206.95,216.4 L207.05,215.6 L207.14,220.6 L207.23,219.3 L207.32,217.0 L207.41,218.6 L207.50,216.6 L207.59,215.6 L207.68,216.1 L207.77,218.9 L207.86,216.2 L207.95,219.2 L208.05,213.1 L208.14,214.2 L208.23,219.6 L208.32,217.4 L208.41,211.9 L208.50,216.4 L208.59,221.6 L208.68,217.5 L208.77,213.1 L208.86,214.7 L208.95,213.7 L209.05,213.8 L209.14,213.0 L209.23,218.3 L209.32,212.2 L209.41,214.8 L209.50,210.3 L209.59,212.8 L209.68,210.7 L209.77,211.7 L209.86,213.4 L209.95,215.2 L210.05,209.8 L210.14,214.5 L210.23,213.1 L210.32,210.8 L210.41,211.5 L210.50,209.6 L210.59,211.8 L210.68,214.0 L210.77,212.8 L210.86,212.0 L210.95,209.8 L211.05,212.6 L211.14,213.3 L211.23,212.8 L211.32,213.6 L211.41,204.9 L211.50,214.3 L211.59,211.5 L211.68,213.0 L211.77,217.2 L211.86,215.6 L211.95,211.7 L212.05,217.2 L212.14,219.1 L212.23,213.0 L212.32,216.6 L212.41,219.1 L212.50,217.5 L212.59,217.6 L212.68,218.6 L212.77,219.5 L212.86,213.6 L212.95,216.7 L213.05,218.3 L213.14,214.8 L213.23,216.2 L213.32,213.7 L213.41,211.6 L213.50,224.4 L213.59,212.0 L213.68,214.3 L213.77,216.0 L213.86,213.9 L213.95,211.3 L214.05,217.8 L214.14,211.3 L214.23,212.9 L214.32,216.8 L214.41,213.8 L214.50,217.2 L214.59,216.6 L214.68,221.7 L214.77,213.4 L214.86,210.3 L214.95,217.6 L215.05,211.3 L215.14,206.3 L215.23,217.0 L215.32,210.4 L215.41,217.5 L215.50,217.9 L215.59,215.4 L215.68,217.2 L215.77,209.6 L215.86,209.4 L215.95,214.4 L216.05,213.3 L216.14,214.8 L216.23,211.5 L216.32,211.5 L216.41,229.6 L216.50,220.3 L216.59,215.0 L216.68,215.8 L216.77,212.8 L216.86,215.6 L216.95,212.0 L217.05,217.4 L217.14,217.1 L217.23,217.6 L217.32,210.0 L217.41,215.3 L217.50,215.5 L217.59,215.8 L217.68,212.1 L217.77,215.5 L217.86,214.5 L217.95,214.2 L218.05,219.8 L218.14,218.1 L218.23,220.8 L218.32,219.0 L218.41,216.6 L218.50,214.9 L218.59,215.5 L218.68,219.6 L218.77,219.2 L218.86,219.5 L218.95,214.8 L219.05,219.9 L219.14,217.9 L219.23,218.4 L219.32,218.5 L219.41,214.3 L219.50,217.8 L219.59,217.3 L219.68,215.8 L219.77,217.4 L219.86,214.4 L219.95,218.2 L220.05,215.4 L220.14,216.7 L220.23,215.7 L220.32,214.8 L220.41,216.7 L220.50,213.5 L220.59,217.1 L220.68,212.5 L220.77,215.8 L220.86,215.7 L220.95,211.1 L221.05,217.6 L221.14,217.2 L221.23,215.5 L221.32,215.8 L221.41,219.3 L221.50,218.8 L221.59,213.1 L221.68,215.1 L221.77,216.2 L221.86,219.5 L221.95,216.7 L222.05,218.7 L222.14,215.7 L222.23,215.4 L222.32,217.5 L222.41,220.2 L222.50,214.3 L222.59,211.4 L222.68,219.0 L222.77,217.8 L222.86,215.2 L222.95,217.5 L223.05,217.7 L223.14,212.3 L223.23,215.2 L223.32,217.4 L223.41,214.6 L223.50,212.5 L223.59,214.2 L223.68,216.5 L223.77,217.8 L223.86,213.7 L223.95,209.8 L224.05,222.9 L224.14,216.8 L224.23,216.3 L224.32,223.1 L224.41,216.0 L224.50,224.1 L224.59,217.7 L224.68,220.2 L224.77,215.0 L224.86,214.9 L224.95,218.2 L225.05,218.6 L225.14,218.0 L225.23,219.0 L225.32,227.2 L225.41,213.6 L225.50,224.8 L225.59,223.2 L225.68,224.7 L225.77,219.9 L225.86,224.4 L225.95,226.2 L226.05,225.8 L226.14,226.4 L226.23,225.1 L226.32,226.7 L226.41,229.6 L226.50,228.9 L226.59,218.6 L226.68,222.5 L226.77,222.0 L226.86,222.6 L226.95,223.3 L227.05,225.6 L227.14,229.0 L227.23,225.8 L227.32,229.2 L227.41,225.4 L227.50,222.7 L227.59,230.6 L227.68,223.1 L227.77,229.5 L227.86,227.8 L227.95,230.7 L228.05,222.6 L228.14,222.8 L228.23,228.3 L228.32,224.9 L228.41,229.1 L228.50,227.2 L228.59,223.8 L228.68,236.5 L228.77,226.4 L228.86,225.0 L228.95,225.5 L229.05,222.4 L229.14,226.2 L229.23,223.3 L229.32,221.7 L229.41,224.3 L229.50,219.2 L229.59,227.9 L229.68,222.8 L229.77,222.2 L229.86,226.5 L229.95,226.8 L230.05,222.8 L230.14,225.3 L230.23,224.4 L230.32,226.0 L230.41,223.4 L230.50,223.7 L230.59,221.2 L230.68,220.7 L230.77,226.4 L230.86,224.9 L230.95,226.2 L231.05,219.1 L231.14,218.0 L231.23,222.8 L231.32,218.5 L231.41,218.8 L231.50,222.0 L231.59,221.4 L231.68,217.3 L231.77,224.3 L231.86,217.7 L231.95,222.6 L232.05,215.9 L232.14,215.5 L232.23,222.9 L232.32,223.3 L232.41,218.7 L232.50,219.8 L232.59,222.9 L232.68,218.7 L232.77,218.5 L232.86,218.7 L232.95,224.6 L233.05,217.6 L233.14,217.6 L233.23,216.3 L233.32,219.6 L233.41,212.8 L233.50,223.1 L233.59,216.7 L233.68,223.5 L233.77,214.3 L233.86,222.2 L233.95,215.8 L234.05,226.8 L234.14,223.8 L234.23,225.8 L234.32,212.2 L234.41,214.5 L234.50,219.9 L234.59,220.2 L234.68,221.1 L234.77,224.6 L234.86,226.8 L234.95,226.2 L235.05,224.0 L235.14,220.5 L235.23,216.5 L235.32,220.9 L235.41,217.3 L235.50,221.7 L235.59,218.1 L235.68,214.7 L235.77,220.4 L235.86,217.1 L235.95,217.2 L236.05,220.7 L236.14,220.7 L236.23,219.4 L236.32,216.1 L236.41,221.1 L236.50,218.1 L236.59,215.5 L236.68,220.7 L236.77,218.1 L236.86,221.4 L236.95,214.9 L237.05,216.3 L237.14,217.5 L237.23,219.8 L237.32,218.2 L237.41,215.9 L237.50,221.4 L237.59,215.3 L237.68,217.7 L237.77,216.7 L237.86,217.1 L237.95,217.0 L238.05,219.2 L238.14,217.1 L238.23,216.6 L238.32,215.7 L238.41,216.5 L238.50,213.2 L238.59,215.4 L238.68,218.6 L238.77,216.7 L238.86,219.9 L238.95,217.3 L239.05,216.5 L239.14,217.8 L239.23,211.5 L239.32,213.6 L239.41,222.8 L239.50,221.2 L239.59,213.6 L239.68,218.9 L239.77,216.5 L239.86,216.4 L239.95,212.3 L240.05,220.5 L240.14,220.2 L240.23,215.5 L240.32,212.5 L240.41,220.2 L240.50,203.8 L240.59,217.0 L240.68,221.3 L240.77,253.8 L240.86,216.0 L240.95,218.8 L241.05,223.0 L241.14,228.1 L241.23,225.7 L241.32,226.8 L241.41,226.8 L241.50,223.5 L241.59,225.8 L241.68,229.9 L241.77,223.4 L241.86,218.3 L241.95,226.1 L242.05,227.5 L242.14,226.4 L242.23,229.2 L242.32,227.4 L242.41,232.2 L242.50,232.5 L242.59,230.7 L242.68,228.8 L242.77,228.3 L242.86,232.3 L242.95,225.7 L243.05,225.1 L243.14,227.2 L243.23,227.6 L243.32,228.0 L243.41,231.8 L243.50,226.7 L243.59,226.7 L243.68,235.9 L243.77,226.6 L243.86,225.0 L243.95,229.5 L244.05,230.1 L244.14,224.0 L244.23,230.9 L244.32,223.9 L244.41,224.4 L244.50,229.7 L244.59,226.8 L244.68,230.5 L244.77,223.7 L244.86,228.0 L244.95,231.4 L245.05,225.7 L245.14,229.5 L245.23,231.0 L245.32,230.3 L245.41,232.0 L245.50,230.1 L245.59,231.7 L245.68,226.6 L245.77,230.7 L245.86,228.5 L245.95,226.9 L246.05,228.1 L246.14,228.0 L246.23,228.4 L246.32,222.2 L246.41,228.4 L246.50,228.7 L246.59,227.7 L246.68,228.1 L246.77,225.4 L246.86,228.7 L246.95,234.7 L247.05,230.1 L247.14,230.3 L247.23,228.8 L247.32,229.3 L247.41,224.2 L247.50,226.2 L247.59,232.3 L247.68,230.7 L247.77,220.5 L247.86,230.8 L247.95,231.0 L248.05,224.6 L248.14,225.6 L248.23,226.8 L248.32,228.9 L248.41,223.4 L248.50,222.7 L248.59,223.4 L248.68,227.2 L248.77,230.0 L248.86,224.9 L248.95,228.6 L249.05,227.7 L249.14,229.7 L249.23,229.1 L249.32,226.0 L249.41,229.9 L249.50,235.9 L249.59,228.6 L249.68,224.9 L249.77,228.6 L249.86,224.9 L249.95,223.5 L250.05,226.3 L250.14,223.7 L250.23,225.6 L250.32,224.2 L250.41,229.7 L250.50,223.6 L250.59,227.9 L250.68,225.5 L250.77,227.7 L250.86,228.4 L250.95,231.2 L251.05,226.2 L251.14,225.6 L251.23,228.6 L251.32,226.0 L251.41,227.6 L251.50,225.6 L251.59,225.4 L251.68,230.0 L251.77,224.9 L251.86,227.7 L251.95,227.7 L252.05,223.5 L252.14,226.4 L252.23,225.7 L252.32,224.2 L252.41,226.8 L252.50,227.1 L252.59,226.6 L252.68,226.2 L252.77,225.3 L252.86,223.3 L252.95,224.9 L253.05,225.5 L253.14,222.1 L253.23,225.6 L253.32,225.2 L253.41,231.3 L253.50,222.1 L253.59,226.5 L253.68,223.3 L253.77,221.7 L253.86,225.2 L253.95,222.3 L254.05,220.0 L254.14,218.4 L254.23,219.8 L254.32,222.4 L254.41,225.1 L254.50,220.6 L254.59,218.9 L254.68,220.9 L254.77,220.1 L254.86,221.5 L254.95,222.0 L255.05,222.0 L255.14,219.8 L255.23,221.9 L255.32,223.5 L255.41,220.3 L255.50,218.9 L255.59,222.7 L255.68,220.2 L255.77,221.1 L255.86,221.3 L255.95,222.7 L256.05,219.8 L256.14,218.3 L256.23,219.3 L256.32,217.4 L256.41,218.7 L256.50,218.8 L256.59,221.2 L256.68,220.2 L256.77,218.9 L256.86,218.8 L256.95,217.6 L257.05,217.3 L257.14,219.5 L257.23,218.2 L257.32,218.5 L257.41,219.7 L257.50,218.0 L257.59,221.8 L257.68,219.8 L257.77,217.1 L257.86,224.3 L257.95,217.2 L258.05,218.3 L258.14,219.6 L258.23,219.2 L258.32,221.6 L258.41,218.5 L258.50,222.0 L258.59,219.7 L258.68,217.7 L258.77,214.5 L258.86,218.1 L258.95,219.7 L259.05,221.8 L259.14,215.4 L259.23,221.4 L259.32,223.1 L259.41,221.7 L259.50,221.0 L259.59,219.6 L259.68,218.8 L259.77,218.2 L259.86,221.9 L259.95,219.3 L260.05,218.3 L260.14,218.4 L260.23,218.6 L260.32,220.4 L260.41,219.0 L260.50,218.9 L260.59,220.3 L260.68,221.6 L260.77,222.2 L260.86,219.8 L260.95,218.0 L261.05,218.4 L261.14,220.2 L261.23,219.2 L261.32,215.7 L261.41,216.4 L261.50,219.8 L261.59,219.7 L261.68,216.1 L261.77,217.0 L261.86,219.4 L261.95,219.5 L262.05,218.0 L262.14,214.6 L262.23,217.5 L262.32,215.7 L262.41,215.1 L262.50,217.9 L262.59,217.1 L262.68,216.6 L262.77,217.5 L262.86,214.2 L262.95,215.7 L263.05,216.5 L263.14,214.8 L263.23,210.9 L263.32,217.8 L263.41,215.2 L263.50,216.5 L263.59,216.8 L263.68,215.8 L263.77,214.9 L263.86,218.4 L263.95,217.2 L264.05,211.7 L264.14,215.7 L264.23,212.5 L264.32,210.1 L264.41,215.3 L264.50,213.9 L264.59,212.2 L264.68,214.0 L264.77,213.8 L264.86,214.6 L264.95,212.4 L265.05,214.4 L265.14,213.9 L265.23,215.6 L265.32,209.1 L265.41,212.2 L265.50,214.3 L265.59,212.8 L265.68,211.8 L265.77,213.2 L265.86,219.2 L265.95,214.2 L266.05,213.8 L266.14,210.8 L266.23,211.2 L266.32,211.9 L266.41,216.1 L266.50,209.3 L266.59,214.9 L266.68,214.0 L266.77,214.9 L266.86,215.2 L266.95,213.2 L267.05,216.5 L267.14,213.2 L267.23,210.4 L267.32,206.2 L267.41,212.4 L267.50,210.0 L267.59,215.4 L267.68,213.1 L267.77,213.0 L267.86,216.4 L267.95,210.7 L268.05,216.4 L268.14,204.6 L268.23,216.4 L268.32,216.0 L268.41,211.7 L268.50,217.8 L268.59,212.8 L268.68,216.6 L268.77,215.9 L268.86,216.6 L268.95,204.2 L269.05,216.3 L269.14,218.8 L269.23,216.3 L269.32,216.7 L269.41,215.4 L269.50,211.2 L269.59,217.7 L269.68,213.8 L269.77,216.9 L269.86,211.4 L269.95,216.9 L270.05,211.6 L270.14,215.5 L270.23,216.5 L270.32,209.0 L270.41,210.6 L270.50,209.3 L270.59,213.8 L270.68,217.9 L270.77,215.1 L270.86,217.7 L270.95,211.5 L271.05,209.1 L271.14,208.3 L271.23,210.3 L271.32,210.4 L271.41,214.6 L271.50,215.8 L271.59,209.4 L271.68,217.2 L271.77,213.2 L271.86,216.8 L271.95,208.6 L272.05,215.7 L272.14,209.3 L272.23,215.3 L272.32,217.5 L272.41,212.6 L272.50,212.1 L272.59,218.0 L272.68,214.7 L272.77,217.1 L272.86,216.0 L272.95,217.1 L273.05,217.3 L273.14,212.3 L273.23,212.3 L273.32,214.9 L273.41,214.8 L273.50,214.7 L273.59,217.3 L273.68,217.5 L273.77,214.7 L273.86,217.1 L273.95,213.8 L274.05,214.9 L274.14,215.2 L274.23,216.7 L274.32,214.1 L274.41,213.0 L274.50,213.0 L274.59,217.0 L274.68,217.5 L274.77,215.2 L274.86,215.0 L274.95,214.3 L275.05,213.0 L275.14,210.9 L275.23,214.3 L275.32,213.1 L275.41,213.6 L275.50,212.1 L275.59,215.1 L275.68,213.9 L275.77,213.9 L275.86,212.0 L275.95,217.3 L276.05,211.7 L276.14,214.0 L276.23,214.2 L276.32,213.6 L276.41,210.6 L276.50,216.3 L276.59,216.0 L276.68,214.9 L276.77,217.0 L276.86,214.1 L276.95,212.4 L277.05,210.8 L277.14,214.4 L277.23,214.7 L277.32,214.4 L277.41,210.9 L277.50,212.0 L277.59,212.3 L277.68,210.9 L277.77,211.5 L277.86,212.0 L277.95,211.2 L278.05,217.2 L278.14,211.2 L278.23,217.5 L278.32,216.9 L278.41,214.7 L278.50,214.5 L278.59,203.2 L278.68,217.1 L278.77,217.5 L278.86,217.5 L278.95,216.2 L279.05,219.6 L279.14,221.3 L279.23,216.5 L279.32,218.3 L279.41,217.9 L279.50,215.0 L279.59,219.6 L279.68,221.1 L279.77,220.1 L279.86,220.4 L279.95,212.7 L280.05,220.1 L280.14,215.6 L280.23,212.5 L280.32,219.3 L280.41,220.1 L280.50,214.9 L280.59,218.8 L280.68,212.1 L280.77,220.6 L280.86,217.5 L280.95,220.2 L281.05,216.1 L281.14,217.1 L281.23,225.4 L281.32,224.9 L281.41,220.1 L281.50,217.4 L281.59,221.7 L281.68,220.2 L281.77,219.4 L281.86,216.1 L281.95,216.7 L282.05,222.3 L282.14,219.0 L282.23,223.1 L282.32,221.4 L282.41,224.1 L282.50,218.7 L282.59,220.5 L282.68,223.2 L282.77,221.4 L282.86,223.7 L282.95,220.6 L283.05,218.9 L283.14,216.3 L283.23,223.0 L283.32,221.5 L283.41,221.5 L283.50,217.1 L283.59,220.8 L283.68,215.8 L283.77,216.8 L283.86,219.1 L283.95,217.0 L284.05,220.6 L284.14,215.2 L284.23,217.2 L284.32,218.2 L284.41,216.6 L284.50,220.7 L284.59,215.5 L284.68,219.0 L284.77,219.6 L284.86,215.3 L284.95,216.4 L285.05,219.5 L285.14,220.9 L285.23,224.4 L285.32,222.3 L285.41,217.7 L285.50,218.6 L285.59,221.3 L285.68,221.6 L285.77,219.0 L285.86,219.0 L285.95,219.4 L286.05,220.8 L286.14,221.3 L286.23,219.0 L286.32,219.7 L286.41,221.6 L286.50,221.2 L286.59,219.8 L286.68,220.4 L286.77,221.1 L286.86,221.7 L286.95,219.4 L287.05,223.5 L287.14,222.2 L287.23,222.5 L287.32,222.2 L287.41,218.1 L287.50,220.0 L287.59,224.6 L287.68,220.3 L287.77,222.3 L287.86,222.1 L287.95,219.6 L288.05,221.2 L288.14,220.0 L288.23,223.1 L288.32,231.3 L288.41,222.3 L288.50,222.0 L288.59,222.2 L288.68,221.8 L288.77,222.6 L288.86,220.3 L288.95,219.4 L289.05,216.2 L289.14,223.5 L289.23,220.0 L289.32,221.4 L289.41,223.4 L289.50,221.3 L289.59,220.8 L289.68,221.4 L289.77,216.2 L289.86,219.2 L289.95,221.0 L290.05,221.4 L290.14,220.3 L290.23,222.5 L290.32,221.3 L290.41,218.7 L290.50,219.5 L290.59,222.0 L290.68,219.4 L290.77,218.3 L290.86,220.5 L290.95,219.7 L291.05,218.1 L291.14,222.8 L291.23,218.8 L291.32,212.7 L291.41,217.4 L291.50,219.6 L291.59,218.3 L291.68,221.3 L291.77,218.3 L291.86,219.4 L291.95,220.6 L292.05,216.7 L292.14,216.6 L292.23,219.5 L292.32,218.2 L292.41,219.7 L292.50,215.3 L292.59,215.2 L292.68,215.5 L292.77,220.5 L292.86,219.3 L292.95,220.4 L293.05,215.4 L293.14,211.0 L293.23,216.1 L293.32,214.4 L293.41,216.9 L293.50,216.6 L293.59,191.1 L293.68,214.1 L293.77,213.5 L293.86,213.0 L293.95,215.5 L294.05,223.0 L294.14,222.2 L294.23,222.7 L294.32,229.0 L294.41,225.8 L294.50,220.5 L294.59,222.7 L294.68,222.1 L294.77,217.0 L294.86,227.5 L294.95,221.8 L295.05,237.3 L295.14,218.4 L295.23,218.8 L295.32,258.6 L295.41,237.1 L295.50,223.4 L295.59,232.9 L295.68,226.3 L295.77,236.6 L295.86,229.5 L295.95,228.2 L296.05,237.1 L296.14,238.8 L296.23,231.9 L296.32,229.3 L296.41,231.6 L296.50,233.0 L296.59,234.5 L296.68,239.1 L296.77,232.7 L296.86,236.9 L296.95,233.9 L297.05,237.1 L297.14,240.0 L297.23,240.7 L297.32,236.7 L297.41,237.4 L297.50,237.2 L297.59,235.7 L297.68,236.5 L297.77,237.7 L297.86,242.8 L297.95,237.4 L298.05,234.5 L298.14,233.2 L298.23,237.1 L298.32,235.8 L298.41,234.5 L298.50,238.8 L298.59,237.2 L298.68,236.3 L298.77,234.0 L298.86,233.5 L298.95,241.3 L299.05,226.8 L299.14,236.2 L299.23,232.0 L299.32,232.3 L299.41,235.5 L299.50,233.2 L299.59,227.6 L299.68,219.3 L299.77,232.9 L299.86,236.2 L299.95,230.3 L300.05,227.9 L300.14,243.3 L300.23,228.5 L300.32,228.4 L300.41,228.1 L300.50,232.4 L300.59,233.1 L300.68,233.4 L300.77,230.5 L300.86,232.9 L300.95,229.1 L301.05,226.7 L301.14,231.3 L301.23,228.6 L301.32,234.0 L301.41,226.6 L301.50,229.1 L301.59,226.7 L301.68,228.5 L301.77,230.5 L301.86,228.6 L301.95,231.7 L302.05,232.4 L302.14,227.8 L302.23,224.1 L302.32,226.9 L302.41,227.4 L302.50,229.2 L302.59,230.8 L302.68,232.0 L302.77,221.7 L302.86,227.8 L302.95,230.6 L303.05,227.3 L303.14,231.0 L303.23,220.8 L303.32,231.2 L303.41,228.6 L303.50,226.5 L303.59,227.5 L303.68,231.3 L303.77,229.1 L303.86,227.8 L303.95,228.6 L304.05,227.1 L304.14,231.8 L304.23,223.1 L304.32,230.8 L304.41,226.2 L304.50,225.4 L304.59,223.4 L304.68,224.8 L304.77,226.7 L304.86,225.4 L304.95,230.4 L305.05,225.1 L305.14,227.5 L305.23,226.4 L305.32,222.6 L305.41,228.0 L305.50,224.9 L305.59,224.6 L305.68,224.3 L305.77,220.9 L305.86,227.8 L305.95,225.2 L306.05,222.3 L306.14,221.9 L306.23,223.9 L306.32,222.0 L306.41,223.5 L306.50,221.5 L306.59,223.3 L306.68,222.2 L306.77,227.2 L306.86,224.2 L306.95,222.7 L307.05,220.8 L307.14,224.3 L307.23,219.9 L307.32,223.0 L307.41,222.1 L307.50,222.7 L307.59,222.5 L307.68,220.2 L307.77,221.1 L307.86,221.4 L307.95,224.4 L308.05,224.1 L308.14,226.1 L308.23,220.7 L308.32,224.6 L308.41,224.8 L308.50,222.8 L308.59,222.8 L308.68,220.7 L308.77,223.1 L308.86,220.0 L308.95,222.9 L309.05,221.6 L309.14,223.7 L309.23,224.3 L309.32,226.2 L309.41,223.4 L309.50,220.8 L309.59,222.9 L309.68,220.2 L309.77,221.8 L309.86,223.3 L309.95,221.7 L310.05,221.2 L310.14,224.0 L310.23,221.0 L310.32,225.4 L310.41,224.5 L310.50,224.7 L310.59,219.5 L310.68,219.6 L310.77,222.8 L310.86,224.0 L310.95,223.5 L311.05,220.4 L311.14,219.6 L311.23,219.6 L311.32,222.3 L311.41,223.1 L311.50,219.4 L311.59,220.8 L311.68,223.8 L311.77,224.5 L311.86,220.8 L311.95,220.6 L312.05,219.7 L312.14,216.6 L312.23,220.6 L312.32,224.4 L312.41,219.3 L312.50,221.5 L312.59,221.3 L312.68,221.2 L312.77,224.9 L312.86,221.5 L312.95,222.6 L313.05,220.0 L313.14,223.6 L313.23,219.7 L313.32,224.0 L313.41,220.8 L313.50,223.2 L313.59,221.2 L313.68,224.7 L313.77,224.1 L313.86,220.9 L313.95,219.0 L314.05,219.3 L314.14,218.9 L314.23,220.3 L314.32,222.2 L314.41,218.2 L314.50,217.7 L314.59,216.5 L314.68,218.3 L314.77,216.8 L314.86,219.3 L314.95,222.2 L315.05,217.6 L315.14,219.9 L315.23,219.8 L315.32,219.1 L315.41,219.6 L315.50,212.5 L315.59,219.5 L315.68,219.6 L315.77,216.3 L315.86,220.0 L315.95,216.1 L316.05,211.8 L316.14,212.6 L316.23,211.8 L316.32,209.4 L316.41,212.2 L316.50,215.1 L316.59,217.4 L316.68,216.1 L316.77,220.4 L316.86,215.8 L316.95,213.0 L317.05,215.7 L317.14,215.7 L317.23,218.7 L317.32,211.5 L317.41,214.9 L317.50,209.5 L317.59,213.4 L317.68,210.9 L317.77,213.6 L317.86,215.3 L317.95,215.8 L318.05,214.6 L318.14,216.6 L318.23,214.6 L318.32,217.2 L318.41,215.3 L318.50,217.4 L318.59,216.1 L318.68,215.0 L318.77,214.8 L318.86,215.9 L318.95,217.1 L319.05,216.9 L319.14,215.6 L319.23,215.1 L319.32,213.5 L319.41,214.9 L319.50,214.6 L319.59,213.3 L319.68,213.8 L319.77,216.7 L319.86,212.3 L319.95,212.5 L320.05,216.8 L320.14,217.5 L320.23,214.1 L320.32,212.6 L320.41,210.4 L320.50,216.6 L320.59,214.5 L320.68,218.8 L320.77,216.8 L320.86,217.2 L320.95,215.1 L321.05,216.8 L321.14,216.6 L321.23,213.1 L321.32,213.9 L321.41,214.7 L321.50,214.8 L321.59,218.9 L321.68,213.3 L321.77,215.6 L321.86,214.0 L321.95,215.9 L322.05,212.2 L322.14,216.0 L322.23,210.6 L322.32,217.5 L322.41,213.3 L322.50,215.5 L322.59,213.1 L322.68,215.6 L322.77,216.0 L322.86,213.9 L322.95,216.9 L323.05,212.1 L323.14,215.0 L323.23,213.1 L323.32,214.8 L323.41,212.3 L323.50,208.1 L323.59,212.8 L323.68,209.6 L323.77,211.8 L323.86,214.6 L323.95,212.0 L324.05,211.9 L324.14,213.6 L324.23,213.7 L324.32,214.0 L324.41,212.6 L324.50,215.9 L324.59,215.6 L324.68,213.9 L324.77,215.6 L324.86,215.4 L324.95,214.3 L325.05,214.7 L325.14,216.7 L325.23,217.4 L325.32,213.8 L325.41,215.9 L325.50,217.6 L325.59,215.3 L325.68,213.4 L325.77,217.7 L325.86,214.8 L325.95,220.4 L326.05,216.7 L326.14,218.7 L326.23,213.6 L326.32,215.5 L326.41,221.0 L326.50,219.0 L326.59,218.0 L326.68,214.4 L326.77,213.4 L326.86,218.1 L326.95,214.6 L327.05,218.5 L327.14,213.9 L327.23,217.4 L327.32,215.7 L327.41,218.5 L327.50,212.6 L327.59,218.2 L327.68,213.9 L327.77,211.6 L327.86,215.1 L327.95,218.2 L328.05,214.6 L328.14,215.2 L328.23,215.6 L328.32,218.9 L328.41,217.2 L328.50,209.0 L328.59,218.0 L328.68,214.1 L328.77,215.2 L328.86,213.5 L328.95,216.3 L329.05,214.2 L329.14,217.5 L329.23,215.4 L329.32,215.2 L329.41,216.8 L329.50,212.9 L329.59,210.7 L329.68,213.2 L329.77,213.6 L329.86,215.3 L329.95,213.8 L330.05,212.6 L330.14,214.0 L330.23,214.4 L330.32,210.4 L330.41,216.0 L330.50,212.5 L330.59,214.6 L330.68,222.7 L330.77,210.8 L330.86,216.0 L330.95,215.9 L331.05,210.9 L331.14,212.5 L331.23,214.2 L331.32,212.7 L331.41,211.1 L331.50,211.2 L331.59,211.7 L331.68,210.6 L331.77,211.4 L331.86,215.0 L331.95,212.0 L332.05,209.8 L332.14,213.4 L332.23,211.8 L332.32,211.7 L332.41,213.0 L332.50,215.9 L332.59,210.9 L332.68,215.6 L332.77,211.3 L332.86,217.0 L332.95,212.5 L333.05,213.9 L333.14,212.5 L333.23,212.6 L333.32,215.9 L333.41,216.7 L333.50,211.8 L333.59,213.5 L333.68,214.1 L333.77,211.6 L333.86,211.9 L333.95,216.6 L334.05,217.6 L334.14,215.5 L334.23,214.9 L334.32,211.3 L334.41,211.4 L334.50,208.1 L334.59,215.6 L334.68,214.6 L334.77,217.3 L334.86,217.1 L334.95,214.1 L335.05,215.8 L335.14,210.0 L335.23,212.2 L335.32,214.2 L335.41,210.5 L335.50,211.7 L335.59,215.5 L335.68,210.6 L335.77,210.2 L335.86,213.8 L335.95,212.4 L336.05,217.3 L336.14,212.0 L336.23,211.6 L336.32,217.6 L336.41,219.7 L336.50,216.8 L336.59,219.7 L336.68,219.9 L336.77,221.0 L336.86,221.1 L336.95,216.6 L337.05,221.1 L337.14,223.0 L337.23,219.9 L337.32,223.7 L337.41,223.8 L337.50,223.5 L337.59,213.8 L337.68,221.5 L337.77,220.9 L337.86,219.3 L337.95,223.6 L338.05,221.5 L338.14,224.4 L338.23,219.1 L338.32,223.1 L338.41,228.0 L338.50,226.4 L338.59,227.4 L338.68,222.5 L338.77,228.7 L338.86,206.6 L338.95,226.8 L339.05,232.3 L339.14,230.2 L339.23,228.4 L339.32,230.6 L339.41,224.5 L339.50,225.4 L339.59,225.7 L339.68,228.5 L339.77,228.9 L339.86,226.9 L339.95,232.0 L340.05,235.3 L340.14,225.9 L340.23,234.9 L340.32,230.6 L340.41,228.8 L340.50,230.4 L340.59,228.0 L340.68,227.5 L340.77,227.1 L340.86,236.0 L340.95,228.0 L341.05,231.6 L341.14,227.9 L341.23,228.3 L341.32,227.9 L341.41,224.1 L341.50,228.4 L341.59,225.9 L341.68,226.3 L341.77,226.0 L341.86,226.7 L341.95,228.1 L342.05,230.7 L342.14,228.3 L342.23,227.4 L342.32,224.8 L342.41,228.5 L342.50,224.7 L342.59,229.7 L342.68,229.1 L342.77,230.9 L342.86,230.3 L342.95,229.0 L343.05,228.3 L343.14,227.6 L343.23,228.3 L343.32,225.2 L343.41,228.5 L343.50,227.3 L343.59,225.8 L343.68,227.0 L343.77,229.3 L343.86,226.1 L343.95,225.0 L344.05,225.0 L344.14,227.0 L344.23,225.5 L344.32,223.8 L344.41,223.2 L344.50,225.2 L344.59,224.9 L344.68,224.2 L344.77,226.8 L344.86,224.2 L344.95,225.9 L345.05,224.1 L345.14,224.7 L345.23,224.6 L345.32,227.2 L345.41,224.7 L345.50,227.0 L345.59,226.9 L345.68,228.0 L345.77,224.9 L345.86,226.3 L345.95,223.9 L346.05,225.7 L346.14,223.1 L346.23,226.2 L346.32,222.6 L346.41,226.6 L346.50,224.5 L346.59,221.4 L346.68,221.7 L346.77,227.1 L346.86,225.1 L346.95,227.3 L347.05,220.9 L347.14,213.7 L347.23,216.4 L347.32,224.1 L347.41,220.9 L347.50,216.4 L347.59,225.5 L347.68,216.3 L347.77,219.0 L347.86,219.9 L347.95,217.3 L348.05,217.2 L348.14,221.4 L348.23,222.5 L348.32,219.8 L348.41,220.3 L348.50,220.8 L348.59,220.9 L348.68,217.2 L348.77,226.7 L348.86,221.6 L348.95,223.3 L349.05,221.5 L349.14,221.9 L349.23,216.5 L349.32,222.4 L349.41,217.5 L349.50,214.3 L349.59,219.8 L349.68,218.6 L349.77,217.3 L349.86,218.0 L349.95,221.8 L350.05,221.3 L350.14,217.2 L350.23,221.0 L350.32,220.3 L350.41,222.4 L350.50,221.2 L350.59,221.2 L350.68,221.1 L350.77,218.0 L350.86,216.7 L350.95,211.7 L351.05,216.0 L351.14,221.1 L351.23,220.0 L351.32,216.3 L351.41,216.4 L351.50,222.1 L351.59,218.5 L351.68,214.8 L351.77,217.2 L351.86,216.4 L351.95,214.4 L352.05,222.1 L352.14,190.0 L352.23,228.8 L352.32,227.2 L352.41,225.5 L352.50,226.5 L352.59,225.2 L352.68,230.1 L352.77,232.7 L352.86,229.0 L352.95,230.2 L353.05,233.5 L353.14,240.5 L353.23,236.5 L353.32,235.3 L353.41,233.3 L353.50,232.5 L353.59,233.6 L353.68,234.3 L353.77,233.7 L353.86,235.2 L353.95,239.7 L354.05,233.8 L354.14,233.5 L354.23,230.1 L354.32,232.9 L354.41,236.9 L354.50,231.0 L354.59,236.2 L354.68,231.5 L354.77,236.6 L354.86,230.7 L354.95,230.3 L355.05,226.1 L355.14,232.6 L355.23,235.2 L355.32,232.7 L355.41,235.1 L355.50,233.1 L355.59,236.1 L355.68,232.7 L355.77,229.3 L355.86,236.5 L355.95,232.1 L356.05,233.8 L356.14,228.7 L356.23,230.1 L356.32,232.1 L356.41,226.6 L356.50,227.7 L356.59,227.0 L356.68,227.5 L356.77,235.0 L356.86,227.3 L356.95,226.7 L357.05,230.7 L357.14,227.9 L357.23,224.5 L357.32,231.2 L357.41,226.9 L357.50,227.2 L357.59,228.6 L357.68,225.2 L357.77,223.1 L357.86,223.7 L357.95,223.9 L358.05,223.7 L358.14,226.1 L358.23,227.2 L358.32,221.0 L358.41,221.0 L358.50,225.9 L358.59,230.1 L358.68,226.1 L358.77,229.4 L358.86,228.4 L358.95,217.8 L359.05,228.8 L359.14,226.4 L359.23,228.1 L359.32,225.6 L359.41,227.5 L359.50,224.5 L359.59,230.3 L359.68,223.5 L359.77,218.6 L359.86,228.4 L359.95,230.1 L360.05,223.2 L360.14,222.9 L360.23,226.7 L360.32,222.9 L360.41,225.6 L360.50,227.1 L360.59,229.6 L360.68,226.5 L360.77,224.8 L360.86,232.0 L360.95,222.2 L361.05,228.1 L361.14,221.2 L361.23,226.8 L361.32,224.5 L361.41,222.5 L361.50,227.4 L361.59,225.7 L361.68,226.0 L361.77,222.9 L361.86,225.9 L361.95,226.7 L362.05,219.4 L362.14,224.2 L362.23,221.7 L362.32,226.0 L362.41,223.5 L362.50,225.3 L362.59,220.7 L362.68,226.0 L362.77,221.4 L362.86,223.7 L362.95,220.5 L363.05,225.4 L363.14,222.6 L363.23,221.4 L363.32,226.4 L363.41,222.3 L363.50,221.8 L363.59,226.1 L363.68,223.3 L363.77,224.3 L363.86,222.7 L363.95,223.9 L364.05,223.8 L364.14,223.4 L364.23,220.0 L364.32,224.6 L364.41,221.6 L364.50,220.9 L364.59,223.4 L364.68,223.7 L364.77,221.2 L364.86,220.5 L364.95,222.0 L365.05,224.5 L365.14,223.2 L365.23,223.2 L365.32,223.4 L365.41,223.0 L365.50,223.5 L365.59,219.3 L365.68,224.2 L365.77,222.9 L365.86,220.5 L365.95,227.3 L366.05,224.4 L366.14,218.9 L366.23,219.4 L366.32,218.9 L366.41,222.2 L366.50,223.4 L366.59,220.5 L366.68,220.3 L366.77,222.1 L366.86,219.3 L366.95,224.0 L367.05,220.4 L367.14,224.5 L367.23,220.7 L367.32,222.8 L367.41,222.2 L367.50,222.0 L367.59,221.3 L367.68,223.0 L367.77,217.0 L367.86,222.2 L367.95,218.2 L368.05,218.3 L368.14,219.9 L368.23,218.9 L368.32,220.0 L368.41,220.5 L368.50,220.2 L368.59,219.9 L368.68,220.9 L368.77,222.0 L368.86,218.9 L368.95,220.1 L369.05,220.6 L369.14,217.7 L369.23,220.2 L369.32,217.5 L369.41,218.0 L369.50,218.7 L369.59,214.5 L369.68,216.1 L369.77,220.4 L369.86,218.2 L369.95,216.4 L370.05,215.6 L370.14,215.1 L370.23,215.0 L370.32,212.5 L370.41,218.0 L370.50,213.3 L370.59,215.6 L370.68,215.7 L370.77,212.9 L370.86,217.6 L370.95,215.3 L371.05,216.6 L371.14,213.2 L371.23,213.2 L371.32,213.2 L371.41,213.8 L371.50,211.3 L371.59,220.7 L371.68,211.4 L371.77,215.4 L371.86,214.0 L371.95,212.7 L372.05,215.1 L372.14,217.3 L372.23,218.5 L372.32,218.4 L372.41,212.0 L372.50,219.3 L372.59,217.6 L372.68,220.8 L372.77,220.6 L372.86,205.3 L372.95,215.1 L373.05,217.0 L373.14,216.8 L373.23,215.5 L373.32,218.0 L373.41,217.0 L373.50,211.7 L373.59,215.8 L373.68,216.2 L373.77,217.2 L373.86,214.5 L373.95,215.5 L374.05,213.0 L374.14,213.9 L374.23,216.6 L374.32,220.3 L374.41,218.1 L374.50,220.3 L374.59,216.2 L374.68,223.2 L374.77,218.5 L374.86,218.0 L374.95,213.7 L375.05,219.7 L375.14,219.4 L375.23,216.6 L375.32,220.6 L375.41,220.3 L375.50,218.9 L375.59,214.2 L375.68,219.7 L375.77,214.4 L375.86,219.1 L375.95,214.1 L376.05,219.9 L376.14,218.6 L376.23,217.8 L376.32,223.6 L376.41,225.1 L376.50,218.6 L376.59,218.7 L376.68,221.0 L376.77,222.3 L376.86,224.7 L376.95,221.9 L377.05,221.2 L377.14,223.0 L377.23,220.1 L377.32,216.9 L377.41,223.2 L377.50,217.5 L377.59,217.7 L377.68,226.8 L377.77,210.9 L377.86,222.8 L377.95,224.0 L378.05,218.4 L378.14,221.8 L378.23,223.2 L378.32,221.9 L378.41,227.0 L378.50,222.9 L378.59,216.9 L378.68,220.0 L378.77,223.4 L378.86,216.4 L378.95,217.1 L379.05,219.0 L379.14,210.7 L379.23,218.9 L379.32,218.1 L379.41,221.1 L379.50,215.1 L379.59,216.6 L379.68,217.5 L379.77,216.3 L379.86,217.0 L379.95,215.5 L380.05,217.4 L380.14,216.1 L380.23,210.6 L380.32,217.0 L380.41,211.9 L380.50,216.7 L380.59,213.2 L380.68,215.8 L380.77,217.2 L380.86,215.2 L380.95,214.9 L381.05,216.5 L381.14,209.2 L381.23,212.9 L381.32,209.8 L381.41,211.4 L381.50,213.7 L381.59,214.1 L381.68,217.1 L381.77,214.8 L381.86,212.1 L381.95,216.5 L382.05,214.8 L382.14,221.1 L382.23,214.8 L382.32,221.9 L382.41,216.4 L382.50,215.5 L382.59,218.7 L382.68,215.7 L382.77,222.7 L382.86,217.8 L382.95,217.3 L383.05,224.2 L383.14,219.9 L383.23,219.7 L383.32,219.4 L383.41,219.6 L383.50,221.1 L383.59,220.1 L383.68,224.1 L383.77,217.9 L383.86,222.3 L383.95,224.8 L384.05,222.4 L384.14,217.6 L384.23,222.5 L384.32,220.8 L384.41,217.9 L384.50,220.4 L384.59,223.7 L384.68,218.7 L384.77,219.6 L384.86,221.4 L384.95,224.8 L385.05,216.5 L385.14,216.0 L385.23,216.2 L385.32,218.2 L385.41,221.1 L385.50,220.0 L385.59,217.8 L385.68,218.5 L385.77,220.4 L385.86,215.7 L385.95,217.9 L386.05,219.0 L386.14,219.7 L386.23,211.9 L386.32,216.6 L386.41,216.1 L386.50,220.7 L386.59,217.6 L386.68,213.3 L386.77,217.7 L386.86,219.3 L386.95,215.7 L387.05,219.1 L387.14,215.5 L387.23,219.2 L387.32,219.2 L387.41,219.0 L387.50,216.8 L387.59,216.2 L387.68,216.5 L387.77,214.6 L387.86,217.8 L387.95,215.7 L388.05,218.9 L388.14,214.5 L388.23,215.6 L388.32,217.9 L388.41,216.6 L388.50,215.0 L388.59,216.2 L388.68,216.3 L388.77,218.4 L388.86,215.6 L388.95,212.4 L389.05,212.5 L389.14,215.3 L389.23,214.7 L389.32,213.7 L389.41,213.0 L389.50,211.3 L389.59,212.2 L389.68,213.8 L389.77,214.2 L389.86,215.0 L389.95,213.8 L390.05,209.3 L390.14,212.6 L390.23,211.3 L390.32,213.6 L390.41,209.9 L390.50,214.3 L390.59,211.0 L390.68,210.9 L390.77,211.4 L390.86,213.4 L390.95,211.3 L391.05,217.8 L391.14,219.8 L391.23,215.9 L391.32,192.0 L391.41,215.8 L391.50,218.1 L391.59,217.7 L391.68,218.7 L391.77,215.5 L391.86,216.3 L391.95,219.9 L392.05,223.8 L392.14,224.3 L392.23,228.0 L392.32,225.4 L392.41,226.3 L392.50,223.8 L392.59,221.6 L392.68,228.2 L392.77,227.1 L392.86,221.4 L392.95,226.4 L393.05,226.0 L393.14,226.3 L393.23,230.2 L393.32,228.6 L393.41,233.5 L393.50,223.1 L393.59,228.5 L393.68,228.4 L393.77,229.8 L393.86,233.1 L393.95,230.2 L394.05,235.7 L394.14,234.8 L394.23,235.8 L394.32,230.4 L394.41,235.4 L394.50,232.9 L394.59,236.2 L394.68,233.4 L394.77,233.0 L394.86,231.4 L394.95,234.3 L395.05,237.0 L395.14,240.3 L395.23,237.4 L395.32,231.8 L395.41,229.3 L395.50,226.4 L395.59,235.0 L395.68,229.1 L395.77,235.1 L395.86,235.8 L395.95,229.0 L396.05,236.3 L396.14,233.3 L396.23,240.0 L396.32,228.0 L396.41,238.7 L396.50,231.0 L396.59,237.6 L396.68,236.8 L396.77,237.8 L396.86,233.3 L396.95,233.3 L397.05,228.6 L397.14,234.4 L397.23,232.2 L397.32,233.0 L397.41,233.2 L397.50,225.4 L397.59,232.2 L397.68,233.8 L397.77,237.4 L397.86,235.7 L397.95,234.9 L398.05,235.4 L398.14,227.1 L398.23,230.7 L398.32,231.0 L398.41,234.0 L398.50,234.2 L398.59,232.4 L398.68,231.8 L398.77,233.2 L398.86,233.4 L398.95,229.5 L399.05,229.9 L399.14,228.9 L399.23,229.5 L399.32,232.7 L399.41,233.2 L399.50,233.3 L399.59,230.1 L399.68,230.8 L399.77,234.1 L399.86,228.9 L399.95,229.3 L400.05,234.3 L400.14,231.5 L400.23,233.2 L400.32,229.1 L400.41,228.4 L400.50,229.9 L400.59,231.3 L400.68,230.1 L400.77,231.2 L400.86,227.5 L400.95,232.3 L401.05,230.2 L401.14,231.4 L401.23,232.2 L401.32,231.6 L401.41,232.7 L401.50,233.2 L401.59,234.0 L401.68,234.0 L401.77,230.2 L401.86,233.6 L401.95,233.7 L402.05,226.9 L402.14,229.7 L402.23,230.1 L402.32,234.4 L402.41,231.1 L402.50,225.1 L402.59,226.7 L402.68,232.2 L402.77,229.1 L402.86,232.6 L402.95,231.6 L403.05,229.8 L403.14,224.4 L403.23,229.8 L403.32,224.9 L403.41,228.1 L403.50,222.3 L403.59,228.9 L403.68,229.1 L403.77,225.2 L403.86,228.9 L403.95,225.4 L404.05,226.9 L404.14,224.2 L404.23,224.1 L404.32,227.3 L404.41,224.7 L404.50,228.1 L404.59,226.4 L404.68,221.6 L404.77,221.5 L404.86,222.2 L404.95,223.8 L405.05,223.5 L405.14,221.8 L405.23,225.3 L405.32,226.7 L405.41,222.5 L405.50,225.4 L405.59,219.5 L405.68,224.8 L405.77,225.1 L405.86,225.4 L405.95,225.3 L406.05,223.6 L406.14,224.8 L406.23,220.3 L406.32,225.6 L406.41,225.8 L406.50,225.6 L406.59,223.4 L406.68,222.1 L406.77,220.8 L406.86,221.6 L406.95,225.3 L407.05,223.4 L407.14,209.3 L407.23,225.1 L407.32,222.9 L407.41,228.5 L407.50,225.4 L407.59,222.2 L407.68,225.4 L407.77,221.4 L407.86,224.7 L407.95,220.8 L408.05,230.7 L408.14,233.4 L408.23,232.3 L408.32,224.5 L408.41,228.8 L408.50,231.7 L408.59,233.3 L408.68,233.9 L408.77,227.0 L408.86,229.4 L408.95,230.7 L409.05,231.9 L409.14,231.0 L409.23,233.2 L409.32,232.9 L409.41,231.9 L409.50,236.8 L409.59,229.2 L409.68,238.7 L409.77,235.5 L409.86,233.6 L409.95,237.4 L410.05,234.6 L410.14,234.9 L410.23,230.8 L410.32,232.9 L410.41,231.1 L410.50,235.5 L410.59,232.4 L410.68,232.0 L410.77,240.9 L410.86,234.8 L410.95,229.6 L411.05,234.4 L411.14,235.9 L411.23,231.5 L411.32,222.1 L411.41,227.8 L411.50,231.0 L411.59,226.7 L411.68,228.1 L411.77,227.5 L411.86,227.0 L411.95,229.9 L412.05,225.4 L412.14,234.5 L412.23,228.8 L412.32,227.0 L412.41,224.7 L412.50,230.7 L412.59,222.8 L412.68,225.8 L412.77,225.9 L412.86,228.5 L412.95,225.1 L413.05,229.5 L413.14,230.2 L413.23,231.1 L413.32,225.1 L413.41,225.0 L413.50,231.9 L413.59,221.7 L413.68,226.6 L413.77,231.5 L413.86,227.3 L413.95,227.8 L414.05,229.3 L414.14,225.4 L414.23,227.0 L414.32,226.5 L414.41,231.4 L414.50,225.1 L414.59,225.6 L414.68,225.3 L414.77,226.5 L414.86,226.0 L414.95,229.7 L415.05,226.2 L415.14,224.0 L415.23,226.4 L415.32,227.9 L415.41,226.4 L415.50,227.3 L415.59,224.2 L415.68,226.8 L415.77,220.7 L415.86,230.8 L415.95,231.1 L416.05,228.0 L416.14,225.9 L416.23,225.3 L416.32,227.6 L416.41,226.7 L416.50,228.3 L416.59,225.4 L416.68,228.1 L416.77,226.0 L416.86,228.1 L416.95,226.6 L417.05,231.0 L417.14,227.8 L417.23,227.4 L417.32,222.6 L417.41,227.1 L417.50,226.2 L417.59,223.8 L417.68,227.3 L417.77,223.5 L417.86,224.4 L417.95,227.4 L418.05,224.1 L418.14,222.4 L418.23,226.5 L418.32,224.8 L418.41,224.0 L418.50,227.8 L418.59,226.8 L418.68,226.3 L418.77,228.1 L418.86,227.4 L418.95,225.5 L419.05,227.8 L419.14,228.3 L419.23,220.5 L419.32,217.4 L419.41,226.2 L419.50,222.5 L419.59,228.0 L419.68,221.2 L419.77,225.3 L419.86,220.9 L419.95,220.6 L420.05,228.0 L420.14,226.6 L420.23,237.4 L420.32,228.1 L420.41,227.0 L420.50,225.8 L420.59,224.8 L420.68,228.3 L420.77,223.3 L420.86,230.4 L420.95,228.1 L421.05,226.9 L421.14,225.2 L421.23,226.8 L421.32,220.6 L421.41,226.1 L421.50,228.8 L421.59,228.9 L421.68,225.3 L421.77,223.8 L421.86,227.4 L421.95,223.0 L422.05,224.1 L422.14,222.7 L422.23,227.8 L422.32,224.8 L422.41,221.7 L422.50,223.4 L422.59,229.0 L422.68,224.9 L422.77,225.1 L422.86,224.5 L422.95,224.4 L423.05,222.1 L423.14,226.9 L423.23,219.5 L423.32,227.0 L423.41,222.2 L423.50,221.4 L423.59,227.4 L423.68,224.5 L423.77,227.4 L423.86,226.6 L423.95,225.8 L424.05,224.3 L424.14,227.3 L424.23,220.8 L424.32,231.3 L424.41,222.2 L424.50,221.6 L424.59,227.7 L424.68,220.9 L424.77,226.4 L424.86,225.5 L424.95,226.4 L425.05,222.5 L425.14,220.9 L425.23,220.2 L425.32,221.6 L425.41,226.9 L425.50,220.5 L425.59,222.6 L425.68,225.5 L425.77,223.3 L425.86,226.8 L425.95,222.1 L426.05,225.5 L426.14,221.0 L426.23,226.2 L426.32,227.3 L426.41,227.4 L426.50,224.0 L426.59,225.9 L426.68,231.2 L426.77,225.5 L426.86,225.4 L426.95,226.3 L427.05,223.6 L427.14,229.7 L427.23,226.4 L427.32,224.1 L427.41,222.1 L427.50,225.4 L427.59,228.5 L427.68,222.2 L427.77,225.9 L427.86,222.9 L427.95,223.5 L428.05,224.1 L428.14,222.1 L428.23,223.4 L428.32,222.3 L428.41,224.4 L428.50,223.2 L428.59,225.8 L428.68,224.5 L428.77,222.8 L428.86,222.0 L428.95,219.5 L429.05,221.9 L429.14,223.7 L429.23,223.5 L429.32,222.0 L429.41,223.8 L429.50,224.0 L429.59,225.0 L429.68,221.9 L429.77,222.0 L429.86,224.1 L429.95,222.1 L430.05,220.3 L430.14,221.8 L430.23,220.1 L430.32,218.9 L430.41,219.2 L430.50,221.3 L430.59,222.0 L430.68,219.1 L430.77,219.8 L430.86,220.9 L430.95,221.2 L431.05,221.4 L431.14,216.9 L431.23,217.3 L431.32,217.0 L431.41,217.2 L431.50,219.5 L431.59,217.6 L431.68,220.8 L431.77,216.9 L431.86,219.1 L431.95,218.6 L432.05,221.0 L432.14,218.1 L432.23,222.3 L432.32,221.2 L432.41,216.8 L432.50,213.3 L432.59,221.0 L432.68,217.3 L432.77,217.2 L432.86,216.8 L432.95,218.6 L433.05,223.5 L433.14,219.3 L433.23,221.9 L433.32,222.9 L433.41,218.3 L433.50,218.6 L433.59,224.4 L433.68,223.2 L433.77,219.4 L433.86,222.3 L433.95,221.8 L434.05,216.9 L434.14,219.4 L434.23,223.9 L434.32,216.6 L434.41,220.4 L434.50,223.0 L434.59,219.5 L434.68,220.0 L434.77,224.0 L434.86,218.8 L434.95,222.7 L435.05,223.4 L435.14,224.3 L435.23,221.1 L435.32,223.1 L435.41,219.6 L435.50,223.9 L435.59,225.0 L435.68,228.3 L435.77,224.2 L435.86,220.3 L435.95,221.8 L436.05,217.7 L436.14,222.1 L436.23,221.0 L436.32,222.1 L436.41,221.8 L436.50,224.2 L436.59,222.1 L436.68,220.8 L436.77,219.2 L436.86,225.9 L436.95,220.7 L437.05,225.1 L437.14,221.1 L437.23,224.7 L437.32,221.0 L437.41,225.5 L437.50,216.9 L437.59,231.7 L437.68,220.9 L437.77,224.3 L437.86,222.8 L437.95,220.2 L438.05,225.2 L438.14,224.5 L438.23,224.2 L438.32,222.4 L438.41,224.9 L438.50,223.0 L438.59,224.3 L438.68,225.2 L438.77,225.4 L438.86,223.0 L438.95,223.3 L439.05,221.5 L439.14,224.1 L439.23,222.7 L439.32,223.5 L439.41,226.1 L439.50,221.7 L439.59,218.6 L439.68,221.0 L439.77,225.7 L439.86,222.3 L439.95,223.8 L440.05,218.9 L440.14,223.5 L440.23,220.9 L440.32,221.1 L440.41,220.8 L440.50,223.6 L440.59,224.7 L440.68,219.7 L440.77,219.4 L440.86,228.4 L440.95,220.0 L441.05,218.0 L441.14,218.1 L441.23,223.7 L441.32,221.3 L441.41,220.4 L441.50,220.8 L441.59,218.9 L441.68,224.8 L441.77,224.9 L441.86,223.8 L441.95,224.2 L442.05,220.7 L442.14,221.2 L442.23,225.0 L442.32,219.0 L442.41,224.9 L442.50,221.2 L442.59,220.3 L442.68,220.0 L442.77,221.4 L442.86,220.9 L442.95,219.2 L443.05,222.4 L443.14,218.6 L443.23,219.3 L443.32,221.2 L443.41,220.4 L443.50,225.5 L443.59,217.8 L443.68,218.8 L443.77,221.2 L443.86,221.6 L443.95,224.6 L444.05,222.1 L444.14,226.2 L444.23,220.2 L444.32,222.2 L444.41,218.9 L444.50,220.7 L444.59,216.6 L444.68,217.6 L444.77,221.1 L444.86,220.0 L444.95,220.0 L445.05,218.1 L445.14,219.5 L445.23,215.8 L445.32,216.4 L445.41,220.1 L445.50,223.4 L445.59,224.6 L445.68,217.1 L445.77,218.5 L445.86,220.3 L445.95,220.7 L446.05,221.7 L446.14,218.2 L446.23,218.9 L446.32,221.2 L446.41,216.2 L446.50,219.5 L446.59,222.9 L446.68,221.3 L446.77,218.2 L446.86,220.5 L446.95,221.5 L447.05,217.5 L447.14,217.9 L447.23,220.8 L447.32,222.6 L447.41,214.9 L447.50,216.9 L447.59,217.1 L447.68,218.2 L447.77,222.7 L447.86,218.5 L447.95,216.4 L448.05,224.5 L448.14,227.8 L448.23,227.2 L448.32,228.7 L448.41,228.5 L448.50,226.1 L448.59,228.6 L448.68,221.2 L448.77,230.5 L448.86,197.9 L448.95,222.6 L449.05,224.3 L449.14,226.2 L449.23,224.8 L449.32,235.0 L449.41,231.6 L449.50,227.5 L449.59,234.2 L449.68,224.8 L449.77,231.4 L449.86,232.9 L449.95,225.1 L450.05,235.4 L450.14,234.3 L450.23,233.6 L450.32,232.7 L450.41,233.5 L450.50,234.6 L450.59,234.3 L450.68,233.6 L450.77,236.4 L450.86,236.6 L450.95,233.9 L451.05,239.7 L451.14,239.8 L451.23,251.2 L451.32,236.6 L451.41,242.6 L451.50,239.8 L451.59,237.2 L451.68,239.7 L451.77,239.8 L451.86,239.4 L451.95,239.5 L452.05,240.5 L452.14,236.3 L452.23,243.7 L452.32,242.0 L452.41,235.7 L452.50,236.3 L452.59,236.6 L452.68,238.0 L452.77,236.9 L452.86,238.2 L452.95,238.4 L453.05,238.4 L453.14,239.5 L453.23,235.9 L453.32,236.4 L453.41,236.9 L453.50,237.2 L453.59,234.6 L453.68,238.4 L453.77,238.7 L453.86,239.2 L453.95,238.1 L454.05,231.6 L454.14,231.1 L454.23,232.9 L454.32,237.2 L454.41,233.6 L454.50,231.1 L454.59,234.1 L454.68,231.1 L454.77,232.3 L454.86,235.0 L454.95,236.1 L455.05,230.5 L455.14,236.1 L455.23,235.3 L455.32,236.4 L455.41,233.0 L455.50,236.7 L455.59,228.9 L455.68,230.7 L455.77,236.8 L455.86,236.5 L455.95,231.7 L456.05,231.8 L456.14,230.6 L456.23,236.2 L456.32,233.4 L456.41,227.0 L456.50,235.1 L456.59,233.7 L456.68,228.8 L456.77,231.2 L456.86,235.5 L456.95,225.9 L457.05,230.2 L457.14,234.4 L457.23,231.7 L457.32,232.4 L457.41,233.9 L457.50,230.7 L457.59,232.6 L457.68,233.3 L457.77,231.9 L457.86,232.3 L457.95,232.8 L458.05,229.8 L458.14,230.6 L458.23,231.3 L458.32,228.9 L458.41,233.4 L458.50,226.2 L458.59,226.0 L458.68,227.3 L458.77,224.9 L458.86,226.6 L458.95,226.8 L459.05,234.9 L459.14,230.9 L459.23,232.4 L459.32,228.5 L459.41,231.6 L459.50,230.9 L459.59,229.7 L459.68,226.1 L459.77,227.3 L459.86,225.9 L459.95,231.5 L460.05,217.7 L460.14,224.6 L460.23,223.8 L460.32,226.3 L460.41,227.6 L460.50,227.3 L460.59,228.2 L460.68,223.8 L460.77,227.2 L460.86,220.8 L460.95,228.1 L461.05,221.2 L461.14,222.8 L461.23,227.1 L461.32,240.3 L461.41,223.8 L461.50,221.3 L461.59,224.2 L461.68,231.8 L461.77,229.0 L461.86,225.1 L461.95,223.7 L462.05,227.8 L462.14,224.7 L462.23,227.2 L462.32,231.8 L462.41,224.3 L462.50,228.8 L462.59,227.1 L462.68,228.6 L462.77,223.9 L462.86,227.1 L462.95,227.3 L463.05,225.1 L463.14,226.7 L463.23,227.0 L463.32,225.9 L463.41,227.4 L463.50,223.0 L463.59,227.7 L463.68,225.6 L463.77,224.5 L463.86,224.2 L463.95,227.8 L464.05,221.8 L464.14,224.0 L464.23,217.8 L464.32,222.8 L464.41,226.1 L464.50,220.9 L464.59,221.5 L464.68,224.2 L464.77,226.6 L464.86,230.1 L464.95,226.2 L465.05,224.2 L465.14,224.0 L465.23,219.3 L465.32,224.3 L465.41,229.9 L465.50,221.8 L465.59,226.5 L465.68,226.9 L465.77,227.0 L465.86,218.7 L465.95,223.1 L466.05,222.5 L466.14,223.9 L466.23,222.8 L466.32,223.7 L466.41,224.5 L466.50,220.4 L466.59,217.2 L466.68,223.1 L466.77,221.0 L466.86,225.0 L466.95,220.7 L467.05,228.6 L467.14,228.8 L467.23,227.2 L467.32,224.1 L467.41,222.8 L467.50,221.9 L467.59,226.4 L467.68,224.9 L467.77,224.8 L467.86,231.9 L467.95,226.2 L468.05,225.1 L468.14,225.2 L468.23,228.4 L468.32,211.6 L468.41,227.4 L468.50,223.0 L468.59,228.7 L468.68,221.6 L468.77,226.2 L468.86,226.3 L468.95,229.5 L469.05,243.3 L469.14,235.1 L469.23,224.6 L469.32,242.0 L469.41,236.3 L469.50,223.2 L469.59,235.0 L469.68,237.0 L469.77,226.1 L469.86,227.1 L469.95,233.9 L470.05,238.5 L470.14,231.7 L470.23,231.8 L470.32,238.0 L470.41,231.1 L470.50,235.0 L470.59,238.9 L470.68,230.5 L470.77,234.8 L470.86,231.7 L470.95,234.6 L471.05,233.6 L471.14,234.9 L471.23,232.3 L471.32,233.1 L471.41,232.3 L471.50,233.2 L471.59,236.0 L471.68,232.2 L471.77,234.1 L471.86,232.2 L471.95,235.2 L472.05,230.3 L472.14,229.6 L472.23,229.2 L472.32,233.5 L472.41,235.3 L472.50,231.6 L472.59,232.0 L472.68,231.6 L472.77,236.4 L472.86,233.0 L472.95,229.8 L473.05,232.3 L473.14,232.0 L473.23,228.4 L473.32,231.6 L473.41,232.9 L473.50,232.3 L473.59,232.6 L473.68,227.9 L473.77,229.3 L473.86,230.4 L473.95,231.9 L474.05,230.9 L474.14,236.1 L474.23,233.8 L474.32,231.5 L474.41,234.7 L474.50,230.6 L474.59,227.3 L474.68,233.2 L474.77,234.4 L474.86,232.4 L474.95,229.1 L475.05,230.0 L475.14,231.0 L475.23,227.1 L475.32,227.7 L475.41,226.5 L475.50,226.5 L475.59,228.6 L475.68,229.7 L475.77,226.3 L475.86,231.2 L475.95,230.1 L476.05,232.2 L476.14,227.4 L476.23,225.9 L476.32,227.6 L476.41,239.7 L476.50,225.8 L476.59,224.1 L476.68,236.6 L476.77,224.6 L476.86,232.3 L476.95,232.4 L477.05,235.5 L477.14,223.2 L477.23,230.3 L477.32,230.2 L477.41,237.6 L477.50,230.7 L477.59,226.8 L477.68,227.4 L477.77,229.1 L477.86,227.2 L477.95,226.2 L478.05,225.3 L478.14,227.9 L478.23,230.6 L478.32,223.4 L478.41,231.7 L478.50,230.2 L478.59,230.8 L478.68,223.0 L478.77,227.0 L478.86,228.0 L478.95,227.7 L479.05,229.3 L479.14,226.0 L479.23,226.7 L479.32,226.0 L479.41,228.0 L479.50,228.9 L479.59,239.2 L479.68,230.2 L479.77,229.7 L479.86,225.8 L479.95,225.4 L480.05,230.4 L480.14,228.4 L480.23,230.6 L480.32,226.6 L480.41,230.2 L480.50,230.2 L480.59,230.7 L480.68,225.2 L480.77,230.1 L480.86,228.3 L480.95,225.5 L481.05,228.4 L481.14,225.2 L481.23,221.7 L481.32,226.5 L481.41,226.9 L481.50,229.6 L481.59,229.4 L481.68,229.6 L481.77,226.2 L481.86,229.3 L481.95,229.1 L482.05,223.3 L482.14,227.8 L482.23,227.2 L482.32,223.9 L482.41,229.1 L482.50,227.5 L482.59,226.8 L482.68,220.7 L482.77,222.9 L482.86,224.5 L482.95,223.3 L483.05,226.2 L483.14,227.7 L483.23,227.6 L483.32,225.3 L483.41,228.7 L483.50,226.3 L483.59,226.1 L483.68,229.2 L483.77,225.5 L483.86,228.2 L483.95,227.6 L484.05,228.6 L484.14,227.8 L484.23,225.2 L484.32,225.1 L484.41,228.0 L484.50,228.7 L484.59,229.2 L484.68,224.6 L484.77,224.9 L484.86,226.3 L484.95,223.9 L485.05,226.5 L485.14,227.0 L485.23,225.6 L485.32,222.4 L485.41,230.3 L485.50,226.2 L485.59,222.5 L485.68,222.9 L485.77,226.9 L485.86,228.4 L485.95,231.7 L486.05,226.8 L486.14,227.3 L486.23,230.1 L486.32,230.8 L486.41,230.1 L486.50,226.3 L486.59,227.4 L486.68,230.4 L486.77,230.5 L486.86,230.3 L486.95,225.8 L487.05,232.4 L487.14,227.1 L487.23,226.3 L487.32,228.1 L487.41,232.4 L487.50,231.1 L487.59,226.2 L487.68,230.8 L487.77,225.9 L487.86,228.6 L487.95,231.8 L488.05,227.4 L488.14,229.8 L488.23,240.3 L488.32,227.6 L488.41,225.9 L488.50,224.9 L488.59,224.8 L488.68,228.0 L488.77,227.7 L488.86,226.8 L488.95,224.5 L489.05,229.0 L489.14,224.7 L489.23,229.8 L489.32,224.0 L489.41,227.8 L489.50,223.3 L489.59,228.6 L489.68,230.1 L489.77,229.6 L489.86,229.6 L489.95,231.9 L490.05,226.0 L490.14,225.7 L490.23,226.5 L490.32,222.3 L490.41,224.8 L490.50,228.0 L490.59,225.4 L490.68,226.8 L490.77,225.0 L490.86,221.5 L490.95,221.1 L491.05,221.8 L491.14,228.8 L491.23,230.2 L491.32,224.5 L491.41,227.4 L491.50,224.6 L491.59,228.6 L491.68,226.4 L491.77,223.3 L491.86,220.9 L491.95,224.4 L492.05,223.9 L492.14,222.4 L492.23,219.5 L492.32,223.0 L492.41,223.6 L492.50,221.4 L492.59,222.2 L492.68,226.4 L492.77,224.4 L492.86,226.4 L492.95,220.3 L493.05,223.0 L493.14,223.5 L493.23,223.1 L493.32,219.8 L493.41,225.1 L493.50,227.2 L493.59,223.5 L493.68,224.0 L493.77,223.3 L493.86,219.2 L493.95,225.1 L494.05,228.1 L494.14,226.9 L494.23,219.7 L494.32,225.9 L494.41,226.2 L494.50,225.4 L494.59,227.3 L494.68,225.3 L494.77,223.7 L494.86,224.5 L494.95,227.0 L495.05,222.7 L495.14,223.5 L495.23,221.8 L495.32,223.6 L495.41,225.2 L495.50,222.3 L495.59,222.2 L495.68,227.7 L495.77,224.8 L495.86,227.8 L495.95,223.3 L496.05,221.8 L496.14,223.7 L496.23,222.3 L496.32,221.3 L496.41,221.1 L496.50,225.6 L496.59,223.6 L496.68,224.1 L496.77,226.0 L496.86,223.9 L496.95,223.3 L497.05,222.9 L497.14,223.8 L497.23,225.4 L497.32,224.5 L497.41,225.6 L497.50,220.1 L497.59,220.7 L497.68,224.6 L497.77,229.1 L497.86,225.5 L497.95,225.0 L498.05,223.5 L498.14,222.0 L498.23,224.6 L498.32,223.8 L498.41,221.1 L498.50,219.8 L498.59,225.1 L498.68,223.1 L498.77,223.4 L498.86,227.2 L498.95,217.3 L499.05,226.0 L499.14,219.6 L499.23,224.2 L499.32,224.4 L499.41,221.9 L499.50,225.7 L499.59,215.3 L499.68,225.5 L499.77,220.0 L499.86,224.9 L499.95,220.1 L500.05,221.8 L500.14,224.3 L500.23,222.4 L500.32,225.7 L500.41,220.0 L500.50,221.6 L500.59,225.2 L500.68,225.1 L500.77,220.6 L500.86,217.2 L500.95,221.8 L501.05,221.5 L501.14,225.9 L501.23,215.5 L501.32,221.4 L501.41,226.6 L501.50,223.4 L501.59,225.1 L501.68,221.8 L501.77,224.8 L501.86,225.1 L501.95,221.5 L502.05,224.3 L502.14,216.0 L502.23,220.2 L502.32,224.9 L502.41,221.5 L502.50,226.0 L502.59,223.4 L502.68,223.4 L502.77,224.4 L502.86,222.3 L502.95,225.6 L503.05,222.2 L503.14,221.4 L503.23,221.1 L503.32,217.4 L503.41,217.3 L503.50,217.6 L503.59,217.0 L503.68,220.7 L503.77,214.6 L503.86,221.3 L503.95,217.8 L504.05,218.4 L504.14,225.9 L504.23,223.9 L504.32,226.3 L504.41,223.6 L504.50,219.4 L504.59,226.5 L504.68,224.5 L504.77,224.4 L504.86,225.4 L504.95,226.0 L505.05,218.1 L505.14,223.7 L505.23,224.8 L505.32,214.0 L505.41,215.8 L505.50,215.1 L505.59,215.7 L505.68,225.0 L505.77,212.7 L505.86,220.3 L505.95,221.3 L506.05,221.7 L506.14,224.1 L506.23,219.9 L506.32,233.6 L506.41,223.1 L506.50,223.0 L506.59,222.1 L506.68,223.4 L506.77,222.3 L506.86,225.8 L506.95,227.6 L507.05,230.7 L507.14,227.9 L507.23,228.9 L507.32,232.0 L507.41,226.8 L507.50,233.8 L507.59,229.5 L507.68,231.7 L507.77,228.5 L507.86,229.4 L507.95,229.3 L508.05,232.0 L508.14,241.3 L508.23,230.7 L508.32,253.5 L508.41,231.3 L508.50,235.9 L508.59,233.4 L508.68,231.6 L508.77,241.0 L508.86,235.0 L508.95,236.8 L509.05,238.4 L509.14,240.2 L509.23,239.2 L509.32,237.7 L509.41,236.0 L509.50,238.5 L509.59,236.4 L509.68,236.4 L509.77,238.0 L509.86,236.9 L509.95,235.8 L510.05,234.8 L510.14,240.4 L510.23,237.9 L510.32,240.0 L510.41,239.9 L510.50,236.5 L510.59,239.2 L510.68,235.4 L510.77,239.8 L510.86,239.9 L510.95,239.3 L511.05,239.2 L511.14,236.5 L511.23,237.8 L511.32,240.2 L511.41,238.1 L511.50,239.8 L511.59,238.1 L511.68,237.9 L511.77,250.6 L511.86,237.8 L511.95,239.4 L512.05,236.1 L512.14,236.6 L512.23,234.6 L512.32,237.1 L512.41,238.6 L512.50,233.9 L512.59,233.3 L512.68,236.2 L512.77,234.9 L512.86,235.6 L512.95,238.3 L513.05,232.1 L513.14,230.6 L513.23,232.8 L513.32,236.1 L513.41,236.0 L513.50,237.4 L513.59,240.2 L513.68,233.8 L513.77,228.7 L513.86,231.6 L513.95,231.3 L514.05,235.7 L514.14,230.7 L514.23,231.9 L514.32,236.1 L514.41,232.9 L514.50,230.5 L514.59,231.2 L514.68,232.3 L514.77,234.1 L514.86,235.9 L514.95,235.4 L515.05,234.3 L515.14,231.4 L515.23,228.3 L515.32,233.5 L515.41,231.2 L515.50,232.0 L515.59,231.3 L515.68,231.0 L515.77,229.2 L515.86,234.9 L515.95,234.8 L516.05,232.6 L516.14,233.2 L516.23,229.3 L516.32,229.0 L516.41,230.3 L516.50,233.3 L516.59,233.5 L516.68,231.7 L516.77,234.1 L516.86,230.1 L516.95,233.7 L517.05,230.2 L517.14,230.2 L517.23,230.9 L517.32,230.1 L517.41,232.5 L517.50,231.6 L517.59,234.5 L517.68,231.5 L517.77,233.9 L517.86,233.8 L517.95,230.0 L518.05,230.6 L518.14,228.6 L518.23,228.7 L518.32,225.8 L518.41,232.0 L518.50,230.5 L518.59,231.7 L518.68,235.4 L518.77,229.6 L518.86,227.9 L518.95,232.4 L519.05,233.3 L519.14,230.5 L519.23,232.8 L519.32,232.7 L519.41,232.9 L519.50,229.1 L519.59,225.3 L519.68,230.3 L519.77,233.1 L519.86,232.1 L519.95,233.5 L520.05,231.1 L520.14,227.8 L520.23,226.1 L520.32,231.0 L520.41,228.1 L520.50,224.9 L520.59,229.5 L520.68,233.5 L520.77,228.9 L520.86,228.8 L520.95,229.6 L521.05,225.4 L521.14,227.6 L521.23,229.1 L521.32,225.0 L521.41,230.8 L521.50,226.6 L521.59,230.5 L521.68,229.8 L521.77,231.5 L521.86,233.5 L521.95,227.5 L522.05,225.5 L522.14,224.7 L522.23,228.2 L522.32,224.1 L522.41,224.3 L522.50,226.3 L522.59,228.3 L522.68,227.5 L522.77,227.7 L522.86,225.8 L522.95,225.0 L523.05,227.4 L523.14,223.2 L523.23,223.6 L523.32,225.7 L523.41,227.0 L523.50,225.5 L523.59,227.6 L523.68,225.6 L523.77,227.3 L523.86,225.5 L523.95,224.0 L524.05,226.6 L524.14,228.0 L524.23,223.9 L524.32,224.8 L524.41,228.1 L524.50,225.6 L524.59,223.7 L524.68,224.9 L524.77,223.7 L524.86,226.9 L524.95,226.2 L525.05,225.4 L525.14,224.1 L525.23,226.0 L525.32,226.6 L525.41,223.0 L525.50,227.1 L525.59,226.1 L525.68,224.7 L525.77,226.8 L525.86,224.8 L525.95,226.2 L526.05,224.1 L526.14,201.9 L526.23,225.2 L526.32,222.2 L526.41,221.7 L526.50,221.8 L526.59,227.4 L526.68,227.3 L526.77,224.5 L526.86,224.5 L526.95,223.0 L527.05,240.2 L527.14,232.4 L527.23,237.1 L527.32,236.1 L527.41,234.1 L527.50,232.6 L527.59,235.0 L527.68,237.1 L527.77,233.6 L527.86,234.7 L527.95,232.0 L528.05,243.2 L528.14,240.4 L528.23,240.3 L528.32,241.6 L528.41,238.8 L528.50,242.3 L528.59,247.1 L528.68,276.8 L528.77,242.7 L528.86,239.3 L528.95,241.0 L529.05,236.5 L529.14,239.8 L529.23,239.1 L529.32,237.1 L529.41,243.2 L529.50,240.3 L529.59,236.0 L529.68,240.6 L529.77,241.3 L529.86,242.5 L529.95,240.6 L530.05,231.7 L530.14,235.6 L530.23,235.6 L530.32,239.4 L530.41,237.5 L530.50,238.9 L530.59,233.7 L530.68,237.8 L530.77,233.6 L530.86,239.3 L530.95,233.7 L531.05,236.0 L531.14,236.3 L531.23,226.7 L531.32,237.1 L531.41,230.6 L531.50,231.1 L531.59,231.9 L531.68,231.6 L531.77,232.8 L531.86,232.0 L531.95,234.3 L532.05,237.3 L532.14,236.6 L532.23,233.9 L532.32,235.0 L532.41,233.9 L532.50,235.2 L532.59,232.8 L532.68,234.0 L532.77,231.8 L532.86,232.3 L532.95,233.7 L533.05,225.6 L533.14,228.2 L533.23,234.3 L533.32,235.0 L533.41,227.9 L533.50,230.2 L533.59,231.7 L533.68,234.5 L533.77,231.7 L533.86,233.7 L533.95,227.7 L534.05,228.1 L534.14,228.9 L534.23,232.4 L534.32,229.9 L534.41,229.6 L534.50,229.5 L534.59,230.0 L534.68,228.0 L534.77,232.8 L534.86,228.1 L534.95,233.9 L535.05,236.7 L535.14,231.1 L535.23,228.5 L535.32,230.2 L535.41,231.1 L535.50,230.7 L535.59,231.6 L535.68,229.0 L535.77,231.4 L535.86,227.5 L535.95,232.4 L536.05,229.8 L536.14,229.7 L536.23,231.2 L536.32,230.7 L536.41,231.0 L536.50,231.1 L536.59,233.4 L536.68,230.5 L536.77,229.6 L536.86,229.1 L536.95,229.5 L537.05,227.7 L537.14,228.7 L537.23,229.7 L537.32,231.9 L537.41,230.8 L537.50,228.3 L537.59,228.6 L537.68,225.1 L537.77,228.4 L537.86,233.4 L537.95,227.6 L538.05,231.0 L538.14,235.8 L538.23,237.1 L538.32,227.9 L538.41,232.6 L538.50,230.3 L538.59,228.7 L538.68,232.7 L538.77,235.1 L538.86,231.0 L538.95,237.3 L539.05,234.8 L539.14,232.0 L539.23,230.9 L539.32,235.1 L539.41,233.1 L539.50,234.9 L539.59,235.2 L539.68,234.2 L539.77,234.3 L539.86,235.0 L539.95,232.2 L540.05,234.1 L540.14,227.2 L540.23,229.9 L540.32,228.1 L540.41,229.6 L540.50,228.8 L540.59,231.7 L540.68,228.3 L540.77,237.2 L540.86,242.0 L540.95,233.9 L541.05,220.1 L541.14,226.2 L541.23,236.9 L541.32,230.3 L541.41,233.3 L541.50,222.0 L541.59,228.0 L541.68,232.6 L541.77,231.4 L541.86,227.1 L541.95,233.2 L542.05,223.0 L542.14,231.3 L542.23,224.6 L542.32,225.0 L542.41,232.9 L542.50,220.9 L542.59,226.5 L542.68,232.5 L542.77,225.9 L542.86,232.3 L542.95,226.0 L543.05,226.1 L543.14,227.9 L543.23,228.2 L543.32,229.7 L543.41,232.9 L543.50,230.5 L543.59,224.6 L543.68,226.7 L543.77,228.8 L543.86,227.7 L543.95,227.8 L544.05,223.1 L544.14,226.9 L544.23,225.7 L544.32,228.3 L544.41,224.0 L544.50,228.7 L544.59,223.1 L544.68,222.2 L544.77,224.5 L544.86,227.3 L544.95,226.7 L545.05,226.1 L545.14,216.2 L545.23,227.7 L545.32,232.0 L545.41,227.2 L545.50,228.0 L545.59,227.5 L545.68,223.6 L545.77,224.1 L545.86,226.8 L545.95,227.5 L546.05,228.4 L546.14,228.6 L546.23,228.7 L546.32,221.5 L546.41,228.0 L546.50,221.7 L546.59,228.2 L546.68,224.7 L546.77,222.5 L546.86,224.1 L546.95,229.0 L547.05,218.0 L547.14,219.0 L547.23,221.6 L547.32,218.8 L547.41,221.7 L547.50,224.8 L547.59,221.4 L547.68,225.5 L547.77,223.9 L547.86,222.1 L547.95,225.0 L548.05,227.8 L548.14,227.2 L548.23,227.1 L548.32,228.9 L548.41,217.3 L548.50,221.6 L548.59,224.5 L548.68,216.4 L548.77,225.3 L548.86,222.4 L548.95,222.4 L549.05,223.3 L549.14,226.2 L549.23,218.6 L549.32,222.2 L549.41,217.7 L549.50,218.6 L549.59,218.6 L549.68,220.7 L549.77,226.6 L549.86,217.6 L549.95,218.0 L550.05,222.5 L550.14,220.8 L550.23,220.9 L550.32,217.0 L550.41,226.8 L550.50,226.3 L550.59,223.6 L550.68,228.0 L550.77,220.8 L550.86,237.4 L550.95,225.8 L551.05,223.1 L551.14,226.7 L551.23,225.9 L551.32,224.4 L551.41,219.8 L551.50,220.2 L551.59,220.9 L551.68,226.1 L551.77,223.6 L551.86,220.3 L551.95,226.4 L552.05,227.8 L552.14,222.3 L552.23,226.2 L552.32,223.7 L552.41,227.6 L552.50,219.7 L552.59,221.0 L552.68,226.5 L552.77,225.6 L552.86,221.0 L552.95,225.7 L553.05,220.9 L553.14,222.0 L553.23,221.1 L553.32,224.8 L553.41,223.5 L553.50,224.5 L553.59,221.6 L553.68,216.5 L553.77,217.5 L553.86,222.0 L553.95,217.2 L554.05,225.3 L554.14,223.1 L554.23,224.9 L554.32,223.8 L554.41,222.3 L554.50,225.0 L554.59,224.6 L554.68,225.3 L554.77,224.8 L554.86,226.2 L554.95,221.5 L555.05,222.6 L555.14,224.9 L555.23,224.5 L555.32,220.2 L555.41,225.0 L555.50,223.1 L555.59,223.2 L555.68,222.0 L555.77,224.9 L555.86,223.2 L555.95,224.9 L556.05,219.4 L556.14,220.4 L556.23,220.1 L556.32,221.2 L556.41,221.1 L556.50,220.3 L556.59,219.5 L556.68,219.6 L556.77,223.4 L556.86,219.7 L556.95,221.4 L557.05,221.1 L557.14,220.9 L557.23,223.0 L557.32,221.9 L557.41,218.1 L557.50,222.2 L557.59,231.7 L557.68,222.6 L557.77,220.2 L557.86,220.4 L557.95,220.5 L558.05,220.9 L558.14,222.2 L558.23,218.8 L558.32,220.1 L558.41,222.5 L558.50,220.6 L558.59,224.4 L558.68,222.5 L558.77,218.6 L558.86,222.4 L558.95,218.7 L559.05,216.1 L559.14,217.5 L559.23,220.2 L559.32,217.4 L559.41,222.1 L559.50,218.4 L559.59,221.5 L559.68,218.5 L559.77,221.0 L559.86,218.6 L559.95,218.9 L560.05,220.5 L560.14,216.7 L560.23,221.1 L560.32,220.0 L560.41,218.5 L560.50,216.9 L560.59,218.9 L560.68,217.1 L560.77,221.3 L560.86,220.5 L560.95,218.8 L561.05,216.7 L561.14,219.5 L561.23,219.4 L561.32,218.7 L561.41,223.1 L561.50,216.1 L561.59,220.0 L561.68,217.4 L561.77,216.7 L561.86,222.7 L561.95,219.2 L562.05,215.3 L562.14,216.3 L562.23,217.5 L562.32,215.7 L562.41,216.6 L562.50,216.6 L562.59,218.3 L562.68,218.6 L562.77,215.9 L562.86,216.0 L562.95,220.1 L563.05,216.7 L563.14,215.4 L563.23,217.3 L563.32,217.2 L563.41,216.0 L563.50,212.6 L563.59,214.1 L563.68,214.2 L563.77,216.3 L563.86,214.0 L563.95,217.4 L564.05,215.0 L564.14,217.7 L564.23,214.6 L564.32,218.2 L564.41,216.3 L564.50,220.1 L564.59,220.3 L564.68,207.0 L564.77,216.3 L564.86,214.3 L564.95,214.3 L565.05,229.4 L565.14,246.7 L565.23,233.9 L565.32,229.6 L565.41,230.5 L565.50,236.6 L565.59,237.7 L565.68,241.3 L565.77,231.6 L565.86,229.8 L565.95,239.0 L566.05,240.6 L566.14,238.7 L566.23,238.3 L566.32,233.9 L566.41,245.6 L566.50,244.4 L566.59,238.7 L566.68,239.9 L566.77,247.8 L566.86,242.3 L566.95,241.1 L567.05,238.9 L567.14,246.4 L567.23,240.9 L567.32,254.7 L567.41,245.7 L567.50,245.2 L567.59,238.5 L567.68,243.2 L567.77,242.4 L567.86,239.9 L567.95,241.7 L568.05,244.0 L568.14,234.5 L568.23,244.3 L568.32,244.7 L568.41,243.5 L568.50,237.9 L568.59,245.4 L568.68,237.6 L568.77,242.5 L568.86,243.7 L568.95,234.0 L569.05,239.2 L569.14,233.9 L569.23,243.0 L569.32,243.3 L569.41,240.5 L569.50,237.9 L569.59,237.4 L569.68,240.4 L569.77,237.3 L569.86,235.3 L569.95,239.0 L570.05,239.3 L570.14,237.9 L570.23,237.4 L570.32,233.7 L570.41,234.8 L570.50,238.0 L570.59,238.1 L570.68,232.4 L570.77,235.7 L570.86,241.3 L570.95,235.1 L571.05,236.6 L571.14,233.8 L571.23,234.7 L571.32,233.8 L571.41,237.4 L571.50,233.6 L571.59,237.0 L571.68,234.5 L571.77,237.2 L571.86,237.4 L571.95,237.8 L572.05,236.2 L572.14,237.3 L572.23,237.3 L572.32,233.2 L572.41,237.1 L572.50,237.2 L572.59,233.8 L572.68,234.2 L572.77,234.4 L572.86,235.1 L572.95,233.8 L573.05,231.5 L573.14,232.0 L573.23,229.1 L573.32,232.1 L573.41,232.5 L573.50,233.8 L573.59,237.5 L573.68,235.2 L573.77,232.8 L573.86,235.6 L573.95,234.3 L574.05,233.0 L574.14,236.1 L574.23,234.7 L574.32,232.7 L574.41,230.8 L574.50,232.6 L574.59,230.6 L574.68,230.4 L574.77,234.8 L574.86,230.3 L574.95,233.8 L575.05,226.7 L575.14,234.3 L575.23,232.0 L575.32,232.4 L575.41,232.2 L575.50,231.0 L575.59,233.2 L575.68,232.2 L575.77,233.0 L575.86,232.7 L575.95,230.5 L576.05,227.8 L576.14,231.8 L576.23,230.6 L576.32,228.2 L576.41,229.0 L576.50,230.9 L576.59,231.2 L576.68,230.7 L576.77,228.3 L576.86,231.4 L576.95,229.8 L577.05,229.2 L577.14,228.2 L577.23,228.7 L577.32,227.5 L577.41,227.7 L577.50,229.8 L577.59,230.0 L577.68,229.1 L577.77,227.4 L577.86,229.3 L577.95,228.7 L578.05,227.9 L578.14,226.5 L578.23,226.8 L578.32,228.6 L578.41,228.0 L578.50,227.3 L578.59,227.5 L578.68,227.1 L578.77,227.1 L578.86,226.6 L578.95,226.9 L579.05,223.3 L579.14,225.8 L579.23,226.6 L579.32,228.3 L579.41,228.1 L579.50,228.0 L579.59,228.1 L579.68,225.5 L579.77,224.8 L579.86,226.9 L579.95,226.3 L580.05,226.7 L580.14,227.5 L580.23,224.8 L580.32,226.0 L580.41,227.6 L580.50,226.0 L580.59,227.0 L580.68,227.6 L580.77,227.6 L580.86,225.2 L580.95,225.1" fill="none" stroke="#000" stroke-width="1" shape-rendering="crispEdges"/>
<text x="100" y="170">0</text><text x="92 100" y="139">20</text><text x="92 100" y="108">40</text><text x="92 100" y="77">60</text><text x="92 100" y="46">80</text><text x="100" y="222">0</text><text x="88 92 100" y="257">-50</text><text x="80 84 92 100" y="292">-100</text><text x="80 84 92 100" y="327">-150</text><text x="96 100" y="478">-1</text><text x="100" y="460">0</text><text x="100" y="441">1</text><text x="100" y="423">2</text><text x="100" y="404">3</text><text x="100" y="386">4</text><text x="100" y="367">5</text><text x="100" y="349">6</text><text x="88 96 104 112 120 124 132 140 144 152" y="504">2007-09-01</text><text x="217 225 233 241 249 253 261 269 273 281" y="504">2007-11-01</text><text x="347 355 363 371 379 383 391 399 403 411" y="504">2008-01-01</text><text x="474 482 490 498 506 510 518 526 530 538" y="504">2008-03-01</text><text x="617 625" y="346">10</text><text x="633" y="340">3</text><text x="617 625" y="378">10</text><text x="633" y="372">2</text><text x="617 625" y="410">10</text><text x="633" y="404">1</text><text x="617 625" y="442">10</text><text x="633" y="436">0</text><text x="617 625" y="475">10</text><text x="633 636" y="469">-1</text><text transform="translate(47,109) rotate(-90)" x="0 7" y="0">Kp</text><text transform="translate(59,148) rotate(-90)" x="0 5 13 17 25 29 33 41 51 55 65 69 77 85" y="0">(e.g. 3+ = 33,</text><text transform="translate(71,129) rotate(-90)" x="0 8 12 16 26 30 38 46" y="0">6- = 57,</text><text transform="translate(83,142.5) rotate(-90)" x="0 8 12 22 26 34 42 46 50 58 63 70 74" y="0">4 = 40, etc.)</text><text transform="translate(70.5,267.5) rotate(-90)" x="0 9 17" y="0">DST</text><text transform="translate(87,444) rotate(-90)" x="0 8 13 21 26 34 42 46 53 56 64" y="0">Proton Flux</text>
</svg></body></html>
